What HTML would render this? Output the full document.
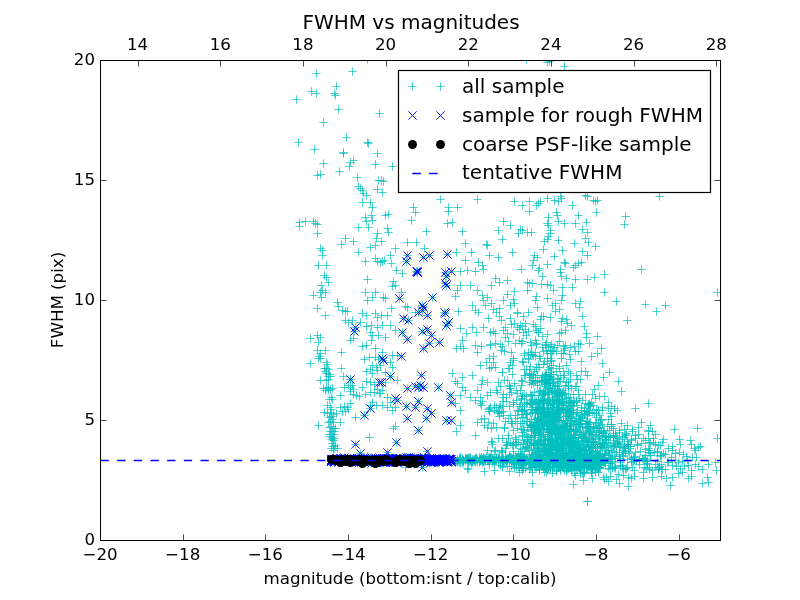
<!DOCTYPE html><html><head><meta charset="utf-8"><style>html,body{margin:0;padding:0;background:#fff;overflow:hidden}svg{display:block}</style></head><body><svg width="800" height="600" viewBox="0 0 800 600">
<rect width="800" height="600" fill="#fff"/>
<defs><clipPath id="c"><rect x="100" y="60" width="620" height="480"/></clipPath></defs>
<g clip-path="url(#c)">
<path d="M312.3 73.5h8.33M316.5 69.3v8.33M348.3 71.5h8.33M352.5 67.3v8.33M332.3 86.5h8.33M336.5 82.3v8.33M307.3 91.5h8.33M311.5 87.3v8.33M312.3 93.5h8.33M316.5 89.3v8.33M330.3 93.5h8.33M334.5 89.3v8.33M331.3 95.5h8.33M335.5 91.3v8.33M292.3 99.5h8.33M296.5 95.3v8.33M334.3 109.5h8.33M338.5 105.3v8.33M375.3 113.5h8.33M379.5 109.3v8.33M319.3 122.5h8.33M323.5 118.3v8.33M294.3 142.5h8.33M298.5 138.3v8.33M342.3 137.5h8.33M346.5 133.3v8.33M363.3 142.5h8.33M367.5 138.3v8.33M364.3 143.5h8.33M368.5 139.3v8.33M310.3 149.5h8.33M314.5 145.3v8.33M339.3 152.5h8.33M343.5 148.3v8.33M339.3 153.5h8.33M343.5 149.3v8.33M373.3 153.5h8.33M377.5 149.3v8.33M319.3 163.5h8.33M323.5 159.3v8.33M346.3 162.5h8.33M350.5 158.3v8.33M349.3 160.5h8.33M353.5 156.3v8.33M345.3 166.5h8.33M349.5 162.3v8.33M371.3 164.5h8.33M375.5 160.3v8.33M388.3 166.5h8.33M392.5 162.3v8.33M335.3 171.5h8.33M339.5 167.3v8.33M313.3 175.5h8.33M317.5 171.3v8.33M316.3 174.5h8.33M320.5 170.3v8.33M353.3 177.5h8.33M357.5 173.3v8.33M374.3 180.5h8.33M378.5 176.3v8.33M377.3 180.5h8.33M381.5 176.3v8.33M379.3 181.5h8.33M383.5 177.3v8.33M354.3 186.5h8.33M358.5 182.3v8.33M356.3 188.5h8.33M360.5 184.3v8.33M358.3 190.5h8.33M362.5 186.3v8.33M359.3 193.5h8.33M363.5 189.3v8.33M362.3 195.5h8.33M366.5 191.3v8.33M373.3 189.5h8.33M377.5 185.3v8.33M378.3 192.5h8.33M382.5 188.3v8.33M358.3 202.5h8.33M362.5 198.3v8.33M366.3 202.5h8.33M370.5 198.3v8.33M368.3 207.5h8.33M372.5 203.3v8.33M409.3 207.5h8.33M413.5 203.3v8.33M436.3 199.5h8.33M440.5 195.3v8.33M453.3 207.5h8.33M457.5 203.3v8.33M473.3 199.5h8.33M477.5 195.3v8.33M444.3 207.5h8.33M448.5 203.3v8.33M510.3 201.5h8.33M514.5 197.3v8.33M518.3 205.5h8.33M522.5 201.3v8.33M525.3 201.5h8.33M529.5 197.3v8.33M525.3 211.5h8.33M529.5 207.3v8.33M532.3 205.5h8.33M536.5 201.3v8.33M534.3 203.5h8.33M538.5 199.3v8.33M536.3 201.5h8.33M540.5 197.3v8.33M543.3 198.5h8.33M547.5 194.3v8.33M550.3 200.5h8.33M554.5 196.3v8.33M554.3 201.5h8.33M558.5 197.3v8.33M556.3 196.5h8.33M560.5 192.3v8.33M557.3 198.5h8.33M561.5 194.3v8.33M568.3 205.5h8.33M572.5 201.3v8.33M581.3 195.5h8.33M585.5 191.3v8.33M583.3 196.5h8.33M587.5 192.3v8.33M589.3 200.5h8.33M593.5 196.3v8.33M591.3 201.5h8.33M595.5 197.3v8.33M593.3 200.5h8.33M597.5 196.3v8.33M592.3 212.5h8.33M596.5 208.3v8.33M655.3 196.5h8.33M659.5 192.3v8.33M552.3 212.5h8.33M556.5 208.3v8.33M553.3 215.5h8.33M557.5 211.3v8.33M574.3 215.5h8.33M578.5 211.3v8.33M554.3 221.5h8.33M558.5 217.3v8.33M560.3 223.5h8.33M564.5 219.3v8.33M544.3 217.5h8.33M548.5 213.3v8.33M543.3 223.5h8.33M547.5 219.3v8.33M544.3 225.5h8.33M548.5 221.3v8.33M571.3 223.5h8.33M575.5 219.3v8.33M582.3 222.5h8.33M586.5 218.3v8.33M621.3 216.5h8.33M625.5 212.3v8.33M620.3 224.5h8.33M624.5 220.3v8.33M499.3 221.5h8.33M503.5 217.3v8.33M506.3 225.5h8.33M510.5 221.3v8.33M494.3 230.5h8.33M498.5 226.3v8.33M516.3 229.5h8.33M520.5 225.3v8.33M518.3 230.5h8.33M522.5 226.3v8.33M523.3 232.5h8.33M527.5 228.3v8.33M527.3 232.5h8.33M531.5 228.3v8.33M514.3 233.5h8.33M518.5 229.3v8.33M546.3 230.5h8.33M550.5 226.3v8.33M546.3 233.5h8.33M550.5 229.3v8.33M544.3 236.5h8.33M548.5 232.3v8.33M543.3 239.5h8.33M547.5 235.3v8.33M540.3 241.5h8.33M544.5 237.3v8.33M554.3 240.5h8.33M558.5 236.3v8.33M578.3 229.5h8.33M582.5 225.3v8.33M583.3 232.5h8.33M587.5 228.3v8.33M581.3 238.5h8.33M585.5 234.3v8.33M584.3 242.5h8.33M588.5 238.3v8.33M591.3 246.5h8.33M595.5 242.3v8.33M570.3 243.5h8.33M574.5 239.3v8.33M498.3 239.5h8.33M502.5 235.3v8.33M482.3 244.5h8.33M486.5 240.3v8.33M483.3 245.5h8.33M487.5 241.3v8.33M539.3 249.5h8.33M543.5 245.3v8.33M558.3 250.5h8.33M562.5 246.3v8.33M578.3 251.5h8.33M582.5 247.3v8.33M583.3 255.5h8.33M587.5 251.3v8.33M530.3 255.5h8.33M534.5 251.3v8.33M533.3 257.5h8.33M537.5 253.3v8.33M529.3 260.5h8.33M533.5 256.3v8.33M550.3 256.5h8.33M554.5 252.3v8.33M508.3 252.5h8.33M512.5 248.3v8.33M485.3 255.5h8.33M489.5 251.3v8.33M494.3 257.5h8.33M498.5 253.3v8.33M560.3 262.5h8.33M564.5 258.3v8.33M561.3 263.5h8.33M565.5 259.3v8.33M543.3 264.5h8.33M547.5 260.3v8.33M535.3 268.5h8.33M539.5 264.3v8.33M534.3 270.5h8.33M538.5 266.3v8.33M528.3 265.5h8.33M532.5 261.3v8.33M517.3 269.5h8.33M521.5 265.3v8.33M556.3 269.5h8.33M560.5 265.3v8.33M556.3 272.5h8.33M560.5 268.3v8.33M571.3 265.5h8.33M575.5 261.3v8.33M574.3 263.5h8.33M578.5 259.3v8.33M577.3 262.5h8.33M581.5 258.3v8.33M569.3 267.5h8.33M573.5 263.3v8.33M478.3 265.5h8.33M482.5 261.3v8.33M479.3 269.5h8.33M483.5 265.3v8.33M637.3 269.5h8.33M641.5 265.3v8.33M600.3 274.5h8.33M604.5 270.3v8.33M590.3 277.5h8.33M594.5 273.3v8.33M583.3 279.5h8.33M587.5 275.3v8.33M571.3 279.5h8.33M575.5 275.3v8.33M562.3 278.5h8.33M566.5 274.3v8.33M557.3 276.5h8.33M561.5 272.3v8.33M538.3 276.5h8.33M542.5 272.3v8.33M491.3 278.5h8.33M495.5 274.3v8.33M495.3 282.5h8.33M499.5 278.3v8.33M503.3 280.5h8.33M507.5 276.3v8.33M487.3 285.5h8.33M491.5 281.3v8.33M523.3 282.5h8.33M527.5 278.3v8.33M525.3 283.5h8.33M529.5 279.3v8.33M528.3 283.5h8.33M532.5 279.3v8.33M537.3 284.5h8.33M541.5 280.3v8.33M543.3 284.5h8.33M547.5 280.3v8.33M546.3 285.5h8.33M550.5 281.3v8.33M558.3 287.5h8.33M562.5 283.3v8.33M568.3 287.5h8.33M572.5 283.3v8.33M549.3 290.5h8.33M553.5 286.3v8.33M523.3 290.5h8.33M527.5 286.3v8.33M510.3 291.5h8.33M514.5 287.3v8.33M600.3 292.5h8.33M604.5 288.3v8.33M478.3 295.5h8.33M482.5 291.3v8.33M483.3 297.5h8.33M487.5 293.3v8.33M479.3 300.5h8.33M483.5 296.3v8.33M481.3 305.5h8.33M485.5 301.3v8.33M487.3 303.5h8.33M491.5 299.3v8.33M503.3 294.5h8.33M507.5 290.3v8.33M499.3 300.5h8.33M503.5 296.3v8.33M506.3 305.5h8.33M510.5 301.3v8.33M509.3 299.5h8.33M513.5 295.3v8.33M510.3 303.5h8.33M514.5 299.3v8.33M532.3 296.5h8.33M536.5 292.3v8.33M531.3 300.5h8.33M535.5 296.3v8.33M543.3 298.5h8.33M547.5 294.3v8.33M551.3 303.5h8.33M555.5 299.3v8.33M548.3 305.5h8.33M552.5 301.3v8.33M557.3 300.5h8.33M561.5 296.3v8.33M558.3 295.5h8.33M562.5 291.3v8.33M571.3 303.5h8.33M575.5 299.3v8.33M576.3 301.5h8.33M580.5 297.3v8.33M575.3 307.5h8.33M579.5 303.3v8.33M612.3 301.5h8.33M616.5 297.3v8.33M641.3 304.5h8.33M645.5 300.3v8.33M661.3 305.5h8.33M665.5 301.3v8.33M652.3 311.5h8.33M656.5 307.3v8.33M489.3 309.5h8.33M493.5 305.3v8.33M495.3 308.5h8.33M499.5 304.3v8.33M513.3 312.5h8.33M517.5 308.3v8.33M524.3 312.5h8.33M528.5 308.3v8.33M533.3 307.5h8.33M537.5 303.3v8.33M537.3 316.5h8.33M541.5 312.3v8.33M539.3 316.5h8.33M543.5 312.3v8.33M551.3 311.5h8.33M555.5 307.3v8.33M555.3 309.5h8.33M559.5 305.3v8.33M484.3 318.5h8.33M488.5 314.3v8.33M492.3 312.5h8.33M496.5 308.3v8.33M513.3 313.5h8.33M517.5 309.3v8.33M506.3 318.5h8.33M510.5 314.3v8.33M516.3 325.5h8.33M520.5 321.3v8.33M518.3 326.5h8.33M522.5 322.3v8.33M513.3 327.5h8.33M517.5 323.3v8.33M501.3 327.5h8.33M505.5 323.3v8.33M503.3 333.5h8.33M507.5 329.3v8.33M501.3 337.5h8.33M505.5 333.3v8.33M519.3 332.5h8.33M523.5 328.3v8.33M522.3 335.5h8.33M526.5 331.3v8.33M531.3 326.5h8.33M535.5 322.3v8.33M532.3 330.5h8.33M536.5 326.3v8.33M534.3 332.5h8.33M538.5 328.3v8.33M538.3 336.5h8.33M542.5 332.3v8.33M543.3 334.5h8.33M547.5 330.3v8.33M557.3 321.5h8.33M561.5 317.3v8.33M558.3 318.5h8.33M562.5 314.3v8.33M563.3 323.5h8.33M567.5 319.3v8.33M567.3 325.5h8.33M571.5 321.3v8.33M578.3 316.5h8.33M582.5 312.3v8.33M580.3 326.5h8.33M584.5 322.3v8.33M582.3 333.5h8.33M586.5 329.3v8.33M582.3 337.5h8.33M586.5 333.3v8.33M593.3 336.5h8.33M597.5 332.3v8.33M623.3 320.5h8.33M627.5 316.3v8.33M557.3 332.5h8.33M561.5 328.3v8.33M479.3 327.5h8.33M483.5 323.3v8.33M486.3 332.5h8.33M490.5 328.3v8.33M491.3 333.5h8.33M495.5 329.3v8.33M536.3 319.5h8.33M540.5 315.3v8.33M546.3 317.5h8.33M550.5 313.3v8.33M295.3 222.5h8.33M299.5 218.3v8.33M295.3 226.5h8.33M299.5 222.3v8.33M301.3 221.5h8.33M305.5 217.3v8.33M309.3 221.5h8.33M313.5 217.3v8.33M311.3 223.5h8.33M315.5 219.3v8.33M313.3 224.5h8.33M317.5 220.3v8.33M313.3 233.5h8.33M317.5 229.3v8.33M361.3 217.5h8.33M365.5 213.3v8.33M362.3 221.5h8.33M366.5 217.3v8.33M367.3 215.5h8.33M371.5 211.3v8.33M368.3 220.5h8.33M372.5 216.3v8.33M364.3 227.5h8.33M368.5 223.3v8.33M354.3 227.5h8.33M358.5 223.3v8.33M381.3 215.5h8.33M385.5 211.3v8.33M384.3 214.5h8.33M388.5 210.3v8.33M383.3 228.5h8.33M387.5 224.3v8.33M384.3 232.5h8.33M388.5 228.3v8.33M407.3 220.5h8.33M411.5 216.3v8.33M411.3 212.5h8.33M415.5 208.3v8.33M422.3 231.5h8.33M426.5 227.3v8.33M443.3 223.5h8.33M447.5 219.3v8.33M448.3 222.5h8.33M452.5 218.3v8.33M444.3 211.5h8.33M448.5 207.3v8.33M458.3 231.5h8.33M462.5 227.3v8.33M373.3 233.5h8.33M377.5 229.3v8.33M372.3 238.5h8.33M376.5 234.3v8.33M377.3 241.5h8.33M381.5 237.3v8.33M371.3 245.5h8.33M375.5 241.3v8.33M366.3 247.5h8.33M370.5 243.3v8.33M349.3 241.5h8.33M353.5 237.3v8.33M341.3 238.5h8.33M345.5 234.3v8.33M337.3 244.5h8.33M341.5 240.3v8.33M403.3 242.5h8.33M407.5 238.3v8.33M412.3 242.5h8.33M416.5 238.3v8.33M420.3 248.5h8.33M424.5 244.3v8.33M461.3 243.5h8.33M465.5 239.3v8.33M316.3 248.5h8.33M320.5 244.3v8.33M318.3 250.5h8.33M322.5 246.3v8.33M318.3 255.5h8.33M322.5 251.3v8.33M354.3 252.5h8.33M358.5 248.3v8.33M361.3 261.5h8.33M365.5 257.3v8.33M371.3 258.5h8.33M375.5 254.3v8.33M373.3 261.5h8.33M377.5 257.3v8.33M376.3 262.5h8.33M380.5 258.3v8.33M378.3 261.5h8.33M382.5 257.3v8.33M380.3 260.5h8.33M384.5 256.3v8.33M386.3 255.5h8.33M390.5 251.3v8.33M391.3 248.5h8.33M395.5 244.3v8.33M387.3 263.5h8.33M391.5 259.3v8.33M392.3 270.5h8.33M396.5 266.3v8.33M398.3 273.5h8.33M402.5 269.3v8.33M452.3 252.5h8.33M456.5 248.3v8.33M467.3 252.5h8.33M471.5 248.3v8.33M461.3 260.5h8.33M465.5 256.3v8.33M474.3 262.5h8.33M478.5 258.3v8.33M314.3 265.5h8.33M318.5 261.3v8.33M322.3 265.5h8.33M326.5 261.3v8.33M320.3 275.5h8.33M324.5 271.3v8.33M322.3 277.5h8.33M326.5 273.3v8.33M324.3 282.5h8.33M328.5 278.3v8.33M317.3 285.5h8.33M321.5 281.3v8.33M318.3 290.5h8.33M322.5 286.3v8.33M316.3 292.5h8.33M320.5 288.3v8.33M309.3 295.5h8.33M313.5 291.3v8.33M317.3 297.5h8.33M321.5 293.3v8.33M321.3 292.5h8.33M325.5 288.3v8.33M363.3 279.5h8.33M367.5 275.3v8.33M389.3 281.5h8.33M393.5 277.3v8.33M391.3 285.5h8.33M395.5 281.3v8.33M388.3 286.5h8.33M392.5 282.3v8.33M397.3 292.5h8.33M401.5 288.3v8.33M361.3 292.5h8.33M365.5 288.3v8.33M371.3 292.5h8.33M375.5 288.3v8.33M368.3 297.5h8.33M372.5 293.3v8.33M363.3 300.5h8.33M367.5 296.3v8.33M379.3 297.5h8.33M383.5 293.3v8.33M381.3 298.5h8.33M385.5 294.3v8.33M456.3 271.5h8.33M460.5 267.3v8.33M463.3 270.5h8.33M467.5 266.3v8.33M471.3 271.5h8.33M475.5 267.3v8.33M456.3 285.5h8.33M460.5 281.3v8.33M453.3 290.5h8.33M457.5 286.3v8.33M466.3 285.5h8.33M470.5 281.3v8.33M451.3 296.5h8.33M455.5 292.3v8.33M473.3 290.5h8.33M477.5 286.3v8.33M333.3 302.5h8.33M337.5 298.3v8.33M334.3 306.5h8.33M338.5 302.3v8.33M338.3 310.5h8.33M342.5 306.3v8.33M341.3 311.5h8.33M345.5 307.3v8.33M343.3 311.5h8.33M347.5 307.3v8.33M313.3 308.5h8.33M317.5 304.3v8.33M321.3 315.5h8.33M325.5 311.3v8.33M358.3 313.5h8.33M362.5 309.3v8.33M362.3 315.5h8.33M366.5 311.3v8.33M371.3 313.5h8.33M375.5 309.3v8.33M373.3 317.5h8.33M377.5 313.3v8.33M377.3 315.5h8.33M381.5 311.3v8.33M383.3 315.5h8.33M387.5 311.3v8.33M387.3 308.5h8.33M391.5 304.3v8.33M401.3 306.5h8.33M405.5 302.3v8.33M403.3 307.5h8.33M407.5 303.3v8.33M411.3 312.5h8.33M415.5 308.3v8.33M454.3 311.5h8.33M458.5 307.3v8.33M468.3 305.5h8.33M472.5 301.3v8.33M471.3 310.5h8.33M475.5 306.3v8.33M474.3 312.5h8.33M478.5 308.3v8.33M341.3 320.5h8.33M345.5 316.3v8.33M344.3 322.5h8.33M348.5 318.3v8.33M348.3 320.5h8.33M352.5 316.3v8.33M356.3 322.5h8.33M360.5 318.3v8.33M362.3 326.5h8.33M366.5 322.3v8.33M367.3 325.5h8.33M371.5 321.3v8.33M373.3 327.5h8.33M377.5 323.3v8.33M378.3 325.5h8.33M382.5 321.3v8.33M386.3 325.5h8.33M390.5 321.3v8.33M391.3 330.5h8.33M395.5 326.3v8.33M306.3 338.5h8.33M310.5 334.3v8.33M313.3 335.5h8.33M317.5 331.3v8.33M316.3 337.5h8.33M320.5 333.3v8.33M314.3 342.5h8.33M318.5 338.3v8.33M346.3 340.5h8.33M350.5 336.3v8.33M349.3 338.5h8.33M353.5 334.3v8.33M366.3 332.5h8.33M370.5 328.3v8.33M368.3 335.5h8.33M372.5 331.3v8.33M367.3 340.5h8.33M371.5 336.3v8.33M374.3 335.5h8.33M378.5 331.3v8.33M381.3 337.5h8.33M385.5 333.3v8.33M358.3 346.5h8.33M362.5 342.3v8.33M362.3 345.5h8.33M366.5 341.3v8.33M371.3 348.5h8.33M375.5 344.3v8.33M378.3 352.5h8.33M382.5 348.3v8.33M337.3 352.5h8.33M341.5 348.3v8.33M313.3 350.5h8.33M317.5 346.3v8.33M316.3 353.5h8.33M320.5 349.3v8.33M321.3 350.5h8.33M325.5 346.3v8.33M388.3 355.5h8.33M392.5 351.3v8.33M393.3 355.5h8.33M397.5 351.3v8.33M456.3 328.5h8.33M460.5 324.3v8.33M458.3 340.5h8.33M462.5 336.3v8.33M462.3 333.5h8.33M466.5 329.3v8.33M468.3 327.5h8.33M472.5 323.3v8.33M472.3 332.5h8.33M476.5 328.3v8.33M456.3 346.5h8.33M460.5 342.3v8.33M459.3 348.5h8.33M463.5 344.3v8.33M452.3 348.5h8.33M456.5 344.3v8.33M471.3 345.5h8.33M475.5 341.3v8.33M473.3 352.5h8.33M477.5 348.3v8.33M378.3 390.5h8.33M382.5 386.3v8.33M381.3 382.5h8.33M385.5 378.3v8.33M376.3 393.5h8.33M380.5 389.3v8.33M383.3 397.5h8.33M387.5 393.3v8.33M378.3 405.5h8.33M382.5 401.3v8.33M383.3 407.5h8.33M387.5 403.3v8.33M388.3 410.5h8.33M392.5 406.3v8.33M391.3 407.5h8.33M395.5 403.3v8.33M386.3 402.5h8.33M390.5 398.3v8.33M376.3 365.5h8.33M380.5 361.3v8.33M381.3 372.5h8.33M385.5 368.3v8.33M386.3 362.5h8.33M390.5 358.3v8.33M388.3 367.5h8.33M392.5 363.3v8.33M393.3 380.5h8.33M397.5 376.3v8.33M391.3 426.5h8.33M395.5 422.3v8.33M389.3 428.5h8.33M393.5 424.3v8.33M401.3 467.5h8.33M405.5 463.3v8.33M448.3 373.5h8.33M452.5 369.3v8.33M451.3 381.5h8.33M455.5 377.3v8.33M453.3 383.5h8.33M457.5 379.3v8.33M458.3 377.5h8.33M462.5 373.3v8.33M461.3 390.5h8.33M465.5 386.3v8.33M456.3 410.5h8.33M460.5 406.3v8.33M451.3 403.5h8.33M455.5 399.3v8.33M456.3 425.5h8.33M460.5 421.3v8.33M452.3 431.5h8.33M456.5 427.3v8.33M473.3 422.5h8.33M477.5 418.3v8.33M471.3 435.5h8.33M475.5 431.3v8.33M458.3 387.5h8.33M462.5 383.3v8.33M468.3 375.5h8.33M472.5 371.3v8.33M473.3 390.5h8.33M477.5 386.3v8.33M471.3 400.5h8.33M475.5 396.3v8.33M466.3 397.5h8.33M470.5 393.3v8.33M456.3 395.5h8.33M460.5 391.3v8.33M463.3 468.5h8.33M467.5 464.3v8.33M522.3 59.5h8.33M526.5 55.3v8.33M543.3 62.5h8.33M547.5 58.3v8.33M545.3 61.5h8.33M549.5 57.3v8.33M560.3 66.5h8.33M564.5 62.3v8.33M363.3 59.5h8.33M367.5 55.3v8.33M713.3 292.5h8.33M717.5 288.3v8.33M583.3 501.5h8.33M587.5 497.3v8.33M464.3 469.5h8.33M468.5 465.3v8.33M597.3 348.5h8.33M601.5 344.3v8.33M598.3 363.5h8.33M602.5 359.3v8.33M605.3 372.5h8.33M609.5 368.3v8.33M599.3 377.5h8.33M603.5 373.3v8.33M614.3 381.5h8.33M618.5 377.3v8.33M617.3 391.5h8.33M621.5 387.3v8.33M600.3 396.5h8.33M604.5 392.3v8.33M585.3 343.5h8.33M589.5 339.3v8.33M576.3 344.5h8.33M580.5 340.3v8.33M574.3 343.5h8.33M578.5 339.3v8.33M593.3 353.5h8.33M597.5 349.3v8.33M587.3 356.5h8.33M591.5 352.3v8.33M577.3 361.5h8.33M581.5 357.3v8.33M583.3 375.5h8.33M587.5 371.3v8.33M576.3 379.5h8.33M580.5 375.3v8.33M594.3 385.5h8.33M598.5 381.3v8.33M590.3 389.5h8.33M594.5 385.3v8.33M588.3 394.5h8.33M592.5 390.3v8.33M581.3 394.5h8.33M585.5 390.3v8.33M595.3 396.5h8.33M599.5 392.3v8.33M591.3 398.5h8.33M595.5 394.3v8.33M577.3 371.5h8.33M581.5 367.3v8.33M581.3 371.5h8.33M585.5 367.3v8.33M670.3 429.5h8.33M674.5 425.3v8.33M693.3 428.5h8.33M697.5 424.3v8.33M713.3 438.5h8.33M717.5 434.3v8.33M675.3 439.5h8.33M679.5 435.3v8.33M686.3 440.5h8.33M690.5 436.3v8.33M676.3 444.5h8.33M680.5 440.3v8.33M687.3 444.5h8.33M691.5 440.3v8.33M690.3 448.5h8.33M694.5 444.3v8.33M694.3 447.5h8.33M698.5 443.3v8.33M696.3 446.5h8.33M700.5 442.3v8.33M691.3 450.5h8.33M695.5 446.3v8.33M668.3 446.5h8.33M672.5 442.3v8.33M668.3 450.5h8.33M672.5 446.3v8.33M671.3 453.5h8.33M675.5 449.3v8.33M675.3 452.5h8.33M679.5 448.3v8.33M679.3 454.5h8.33M683.5 450.3v8.33M682.3 456.5h8.33M686.5 452.3v8.33M667.3 457.5h8.33M671.5 453.3v8.33M671.3 460.5h8.33M675.5 456.3v8.33M674.3 462.5h8.33M678.5 458.3v8.33M678.3 461.5h8.33M682.5 457.3v8.33M683.3 460.5h8.33M687.5 456.3v8.33M688.3 457.5h8.33M692.5 453.3v8.33M692.3 457.5h8.33M696.5 453.3v8.33M691.3 464.5h8.33M695.5 460.3v8.33M694.3 466.5h8.33M698.5 462.3v8.33M668.3 465.5h8.33M672.5 461.3v8.33M672.3 466.5h8.33M676.5 462.3v8.33M676.3 468.5h8.33M680.5 464.3v8.33M680.3 466.5h8.33M684.5 462.3v8.33M684.3 465.5h8.33M688.5 461.3v8.33M687.3 470.5h8.33M691.5 466.3v8.33M678.3 472.5h8.33M682.5 468.3v8.33M698.3 469.5h8.33M702.5 465.3v8.33M704.3 464.5h8.33M708.5 460.3v8.33M711.3 462.5h8.33M715.5 458.3v8.33M712.3 470.5h8.33M716.5 466.3v8.33M668.3 477.5h8.33M672.5 473.3v8.33M684.3 478.5h8.33M688.5 474.3v8.33M687.3 476.5h8.33M691.5 472.3v8.33M703.3 477.5h8.33M707.5 473.3v8.33M704.3 482.5h8.33M708.5 478.3v8.33M698.3 483.5h8.33M702.5 479.3v8.33M666.3 485.5h8.33M670.5 481.3v8.33M674.3 473.5h8.33M678.5 469.3v8.33M480.3 471.5h8.33M484.5 467.3v8.33M490.3 470.5h8.33M494.5 466.3v8.33M535.3 470.5h8.33M539.5 466.3v8.33M528.3 483.5h8.33M532.5 479.3v8.33M569.3 484.5h8.33M573.5 480.3v8.33M579.3 480.5h8.33M583.5 476.3v8.33M588.3 478.5h8.33M592.5 474.3v8.33M583.3 501.5h8.33M587.5 497.3v8.33M571.3 475.5h8.33M575.5 471.3v8.33M560.3 470.5h8.33M564.5 466.3v8.33M477.3 346.5h8.33M481.5 342.3v8.33M491.3 343.5h8.33M495.5 339.3v8.33M486.3 345.5h8.33M490.5 341.3v8.33M486.3 344.5h8.33M490.5 340.3v8.33M496.3 344.5h8.33M500.5 340.3v8.33M504.3 341.5h8.33M508.5 337.3v8.33M498.3 346.5h8.33M502.5 342.3v8.33M511.3 343.5h8.33M515.5 339.3v8.33M515.3 340.5h8.33M519.5 336.3v8.33M518.3 341.5h8.33M522.5 337.3v8.33M517.3 343.5h8.33M521.5 339.3v8.33M527.3 345.5h8.33M531.5 341.3v8.33M532.3 343.5h8.33M536.5 339.3v8.33M531.3 340.5h8.33M535.5 336.3v8.33M526.3 342.5h8.33M530.5 338.3v8.33M532.3 344.5h8.33M536.5 340.3v8.33M541.3 344.5h8.33M545.5 340.3v8.33M538.3 347.5h8.33M542.5 343.3v8.33M542.3 342.5h8.33M546.5 338.3v8.33M541.3 345.5h8.33M545.5 341.3v8.33M544.3 347.5h8.33M548.5 343.3v8.33M555.3 341.5h8.33M559.5 337.3v8.33M550.3 347.5h8.33M554.5 343.3v8.33M547.3 344.5h8.33M551.5 340.3v8.33M546.3 346.5h8.33M550.5 342.3v8.33M553.3 345.5h8.33M557.5 341.3v8.33M559.3 346.5h8.33M563.5 342.3v8.33M561.3 345.5h8.33M565.5 341.3v8.33M560.3 348.5h8.33M564.5 344.3v8.33M570.3 346.5h8.33M574.5 342.3v8.33M566.3 347.5h8.33M570.5 343.3v8.33M485.3 358.5h8.33M489.5 354.3v8.33M489.3 356.5h8.33M493.5 352.3v8.33M500.3 351.5h8.33M504.5 347.3v8.33M497.3 350.5h8.33M501.5 346.3v8.33M507.3 352.5h8.33M511.5 348.3v8.33M509.3 358.5h8.33M513.5 354.3v8.33M520.3 355.5h8.33M524.5 351.3v8.33M524.3 358.5h8.33M528.5 354.3v8.33M524.3 352.5h8.33M528.5 348.3v8.33M520.3 353.5h8.33M524.5 349.3v8.33M524.3 359.5h8.33M528.5 355.3v8.33M527.3 352.5h8.33M531.5 348.3v8.33M528.3 354.5h8.33M532.5 350.3v8.33M531.3 352.5h8.33M535.5 348.3v8.33M526.3 354.5h8.33M530.5 350.3v8.33M529.3 355.5h8.33M533.5 351.3v8.33M535.3 356.5h8.33M539.5 352.3v8.33M531.3 356.5h8.33M535.5 352.3v8.33M536.3 358.5h8.33M540.5 354.3v8.33M543.3 358.5h8.33M547.5 354.3v8.33M543.3 353.5h8.33M547.5 349.3v8.33M539.3 351.5h8.33M543.5 347.3v8.33M542.3 350.5h8.33M546.5 346.3v8.33M548.3 351.5h8.33M552.5 347.3v8.33M549.3 350.5h8.33M553.5 346.3v8.33M546.3 351.5h8.33M550.5 347.3v8.33M547.3 353.5h8.33M551.5 349.3v8.33M546.3 358.5h8.33M550.5 354.3v8.33M552.3 351.5h8.33M556.5 347.3v8.33M559.3 353.5h8.33M563.5 349.3v8.33M557.3 358.5h8.33M561.5 354.3v8.33M565.3 354.5h8.33M569.5 350.3v8.33M560.3 350.5h8.33M564.5 346.3v8.33M557.3 353.5h8.33M561.5 349.3v8.33M574.3 351.5h8.33M578.5 347.3v8.33M566.3 359.5h8.33M570.5 355.3v8.33M571.3 351.5h8.33M575.5 347.3v8.33M476.3 365.5h8.33M480.5 361.3v8.33M485.3 368.5h8.33M489.5 364.3v8.33M482.3 362.5h8.33M486.5 358.3v8.33M487.3 367.5h8.33M491.5 363.3v8.33M491.3 367.5h8.33M495.5 363.3v8.33M489.3 362.5h8.33M493.5 358.3v8.33M505.3 368.5h8.33M509.5 364.3v8.33M504.3 368.5h8.33M508.5 364.3v8.33M508.3 365.5h8.33M512.5 361.3v8.33M509.3 360.5h8.33M513.5 356.3v8.33M506.3 362.5h8.33M510.5 358.3v8.33M522.3 369.5h8.33M526.5 365.3v8.33M520.3 369.5h8.33M524.5 365.3v8.33M525.3 369.5h8.33M529.5 365.3v8.33M519.3 362.5h8.33M523.5 358.3v8.33M518.3 361.5h8.33M522.5 357.3v8.33M532.3 369.5h8.33M536.5 365.3v8.33M534.3 364.5h8.33M538.5 360.3v8.33M532.3 367.5h8.33M536.5 363.3v8.33M526.3 366.5h8.33M530.5 362.3v8.33M535.3 367.5h8.33M539.5 363.3v8.33M540.3 361.5h8.33M544.5 357.3v8.33M543.3 363.5h8.33M547.5 359.3v8.33M544.3 369.5h8.33M548.5 365.3v8.33M539.3 364.5h8.33M543.5 360.3v8.33M545.3 367.5h8.33M549.5 363.3v8.33M547.3 361.5h8.33M551.5 357.3v8.33M555.3 368.5h8.33M559.5 364.3v8.33M547.3 368.5h8.33M551.5 364.3v8.33M555.3 366.5h8.33M559.5 362.3v8.33M549.3 365.5h8.33M553.5 361.3v8.33M547.3 360.5h8.33M551.5 356.3v8.33M562.3 365.5h8.33M566.5 361.3v8.33M498.3 372.5h8.33M502.5 368.3v8.33M498.3 372.5h8.33M502.5 368.3v8.33M508.3 374.5h8.33M512.5 370.3v8.33M525.3 373.5h8.33M529.5 369.3v8.33M520.3 375.5h8.33M524.5 371.3v8.33M525.3 374.5h8.33M529.5 370.3v8.33M525.3 375.5h8.33M529.5 371.3v8.33M521.3 375.5h8.33M525.5 371.3v8.33M530.3 371.5h8.33M534.5 367.3v8.33M526.3 377.5h8.33M530.5 373.3v8.33M527.3 374.5h8.33M531.5 370.3v8.33M533.3 375.5h8.33M537.5 371.3v8.33M529.3 375.5h8.33M533.5 371.3v8.33M531.3 377.5h8.33M535.5 373.3v8.33M527.3 375.5h8.33M531.5 371.3v8.33M538.3 377.5h8.33M542.5 373.3v8.33M541.3 375.5h8.33M545.5 371.3v8.33M543.3 379.5h8.33M547.5 375.3v8.33M540.3 376.5h8.33M544.5 372.3v8.33M541.3 375.5h8.33M545.5 371.3v8.33M542.3 374.5h8.33M546.5 370.3v8.33M541.3 374.5h8.33M545.5 370.3v8.33M545.3 376.5h8.33M549.5 372.3v8.33M544.3 379.5h8.33M548.5 375.3v8.33M538.3 375.5h8.33M542.5 371.3v8.33M545.3 378.5h8.33M549.5 374.3v8.33M547.3 374.5h8.33M551.5 370.3v8.33M546.3 372.5h8.33M550.5 368.3v8.33M546.3 376.5h8.33M550.5 372.3v8.33M553.3 378.5h8.33M557.5 374.3v8.33M547.3 377.5h8.33M551.5 373.3v8.33M552.3 371.5h8.33M556.5 367.3v8.33M554.3 379.5h8.33M558.5 375.3v8.33M548.3 379.5h8.33M552.5 375.3v8.33M549.3 374.5h8.33M553.5 370.3v8.33M564.3 371.5h8.33M568.5 367.3v8.33M560.3 375.5h8.33M564.5 371.3v8.33M559.3 371.5h8.33M563.5 367.3v8.33M559.3 377.5h8.33M563.5 373.3v8.33M556.3 375.5h8.33M560.5 371.3v8.33M566.3 373.5h8.33M570.5 369.3v8.33M572.3 375.5h8.33M576.5 371.3v8.33M566.3 379.5h8.33M570.5 375.3v8.33M573.3 379.5h8.33M577.5 375.3v8.33M478.3 380.5h8.33M482.5 376.3v8.33M483.3 382.5h8.33M487.5 378.3v8.33M477.3 384.5h8.33M481.5 380.3v8.33M494.3 382.5h8.33M498.5 378.3v8.33M505.3 385.5h8.33M509.5 381.3v8.33M503.3 380.5h8.33M507.5 376.3v8.33M496.3 386.5h8.33M500.5 382.3v8.33M500.3 380.5h8.33M504.5 376.3v8.33M505.3 386.5h8.33M509.5 382.3v8.33M506.3 388.5h8.33M510.5 384.3v8.33M506.3 388.5h8.33M510.5 384.3v8.33M510.3 383.5h8.33M514.5 379.3v8.33M525.3 382.5h8.33M529.5 378.3v8.33M517.3 385.5h8.33M521.5 381.3v8.33M518.3 381.5h8.33M522.5 377.3v8.33M517.3 380.5h8.33M521.5 376.3v8.33M529.3 383.5h8.33M533.5 379.3v8.33M533.3 382.5h8.33M537.5 378.3v8.33M531.3 381.5h8.33M535.5 377.3v8.33M529.3 380.5h8.33M533.5 376.3v8.33M528.3 380.5h8.33M532.5 376.3v8.33M533.3 385.5h8.33M537.5 381.3v8.33M527.3 384.5h8.33M531.5 380.3v8.33M535.3 381.5h8.33M539.5 377.3v8.33M540.3 384.5h8.33M544.5 380.3v8.33M544.3 383.5h8.33M548.5 379.3v8.33M541.3 386.5h8.33M545.5 382.3v8.33M545.3 383.5h8.33M549.5 379.3v8.33M544.3 387.5h8.33M548.5 383.3v8.33M542.3 384.5h8.33M546.5 380.3v8.33M539.3 380.5h8.33M543.5 376.3v8.33M537.3 380.5h8.33M541.5 376.3v8.33M543.3 382.5h8.33M547.5 378.3v8.33M537.3 380.5h8.33M541.5 376.3v8.33M544.3 388.5h8.33M548.5 384.3v8.33M542.3 382.5h8.33M546.5 378.3v8.33M538.3 382.5h8.33M542.5 378.3v8.33M540.3 381.5h8.33M544.5 377.3v8.33M540.3 382.5h8.33M544.5 378.3v8.33M545.3 389.5h8.33M549.5 385.3v8.33M541.3 382.5h8.33M545.5 378.3v8.33M545.3 383.5h8.33M549.5 379.3v8.33M546.3 383.5h8.33M550.5 379.3v8.33M550.3 385.5h8.33M554.5 381.3v8.33M548.3 385.5h8.33M552.5 381.3v8.33M546.3 382.5h8.33M550.5 378.3v8.33M546.3 383.5h8.33M550.5 379.3v8.33M546.3 380.5h8.33M550.5 376.3v8.33M549.3 382.5h8.33M553.5 378.3v8.33M551.3 385.5h8.33M555.5 381.3v8.33M553.3 386.5h8.33M557.5 382.3v8.33M553.3 388.5h8.33M557.5 384.3v8.33M549.3 383.5h8.33M553.5 379.3v8.33M555.3 381.5h8.33M559.5 377.3v8.33M553.3 386.5h8.33M557.5 382.3v8.33M546.3 388.5h8.33M550.5 384.3v8.33M554.3 386.5h8.33M558.5 382.3v8.33M564.3 381.5h8.33M568.5 377.3v8.33M561.3 385.5h8.33M565.5 381.3v8.33M564.3 388.5h8.33M568.5 384.3v8.33M564.3 385.5h8.33M568.5 381.3v8.33M564.3 386.5h8.33M568.5 382.3v8.33M562.3 382.5h8.33M566.5 378.3v8.33M556.3 381.5h8.33M560.5 377.3v8.33M567.3 388.5h8.33M571.5 384.3v8.33M571.3 386.5h8.33M575.5 382.3v8.33M572.3 386.5h8.33M576.5 382.3v8.33M476.3 397.5h8.33M480.5 393.3v8.33M483.3 395.5h8.33M487.5 391.3v8.33M492.3 390.5h8.33M496.5 386.3v8.33M493.3 392.5h8.33M497.5 388.3v8.33M486.3 392.5h8.33M490.5 388.3v8.33M498.3 397.5h8.33M502.5 393.3v8.33M505.3 394.5h8.33M509.5 390.3v8.33M499.3 394.5h8.33M503.5 390.3v8.33M502.3 397.5h8.33M506.5 393.3v8.33M512.3 390.5h8.33M516.5 386.3v8.33M507.3 392.5h8.33M511.5 388.3v8.33M513.3 393.5h8.33M517.5 389.3v8.33M516.3 390.5h8.33M520.5 386.3v8.33M518.3 396.5h8.33M522.5 392.3v8.33M522.3 396.5h8.33M526.5 392.3v8.33M518.3 395.5h8.33M522.5 391.3v8.33M520.3 394.5h8.33M524.5 390.3v8.33M517.3 398.5h8.33M521.5 394.3v8.33M517.3 399.5h8.33M521.5 395.3v8.33M526.3 394.5h8.33M530.5 390.3v8.33M534.3 399.5h8.33M538.5 395.3v8.33M530.3 392.5h8.33M534.5 388.3v8.33M528.3 399.5h8.33M532.5 395.3v8.33M528.3 395.5h8.33M532.5 391.3v8.33M527.3 395.5h8.33M531.5 391.3v8.33M535.3 391.5h8.33M539.5 387.3v8.33M534.3 395.5h8.33M538.5 391.3v8.33M543.3 392.5h8.33M547.5 388.3v8.33M544.3 394.5h8.33M548.5 390.3v8.33M536.3 390.5h8.33M540.5 386.3v8.33M540.3 394.5h8.33M544.5 390.3v8.33M539.3 391.5h8.33M543.5 387.3v8.33M539.3 393.5h8.33M543.5 389.3v8.33M544.3 390.5h8.33M548.5 386.3v8.33M543.3 398.5h8.33M547.5 394.3v8.33M537.3 399.5h8.33M541.5 395.3v8.33M543.3 399.5h8.33M547.5 395.3v8.33M538.3 393.5h8.33M542.5 389.3v8.33M539.3 399.5h8.33M543.5 395.3v8.33M541.3 393.5h8.33M545.5 389.3v8.33M540.3 392.5h8.33M544.5 388.3v8.33M536.3 391.5h8.33M540.5 387.3v8.33M544.3 392.5h8.33M548.5 388.3v8.33M545.3 392.5h8.33M549.5 388.3v8.33M538.3 395.5h8.33M542.5 391.3v8.33M549.3 399.5h8.33M553.5 395.3v8.33M554.3 398.5h8.33M558.5 394.3v8.33M552.3 399.5h8.33M556.5 395.3v8.33M555.3 395.5h8.33M559.5 391.3v8.33M553.3 390.5h8.33M557.5 386.3v8.33M553.3 394.5h8.33M557.5 390.3v8.33M553.3 396.5h8.33M557.5 392.3v8.33M548.3 390.5h8.33M552.5 386.3v8.33M555.3 391.5h8.33M559.5 387.3v8.33M550.3 393.5h8.33M554.5 389.3v8.33M548.3 397.5h8.33M552.5 393.3v8.33M555.3 392.5h8.33M559.5 388.3v8.33M552.3 393.5h8.33M556.5 389.3v8.33M551.3 393.5h8.33M555.5 389.3v8.33M547.3 391.5h8.33M551.5 387.3v8.33M548.3 399.5h8.33M552.5 395.3v8.33M550.3 392.5h8.33M554.5 388.3v8.33M555.3 399.5h8.33M559.5 395.3v8.33M550.3 391.5h8.33M554.5 387.3v8.33M556.3 393.5h8.33M560.5 389.3v8.33M556.3 392.5h8.33M560.5 388.3v8.33M558.3 395.5h8.33M562.5 391.3v8.33M564.3 397.5h8.33M568.5 393.3v8.33M560.3 394.5h8.33M564.5 390.3v8.33M561.3 393.5h8.33M565.5 389.3v8.33M559.3 390.5h8.33M563.5 386.3v8.33M558.3 399.5h8.33M562.5 395.3v8.33M557.3 395.5h8.33M561.5 391.3v8.33M562.3 398.5h8.33M566.5 394.3v8.33M558.3 392.5h8.33M562.5 388.3v8.33M569.3 394.5h8.33M573.5 390.3v8.33M575.3 398.5h8.33M579.5 394.3v8.33M574.3 390.5h8.33M578.5 386.3v8.33M566.3 397.5h8.33M570.5 393.3v8.33M574.3 394.5h8.33M578.5 390.3v8.33M476.3 403.5h8.33M480.5 399.3v8.33M485.3 408.5h8.33M489.5 404.3v8.33M484.3 409.5h8.33M488.5 405.3v8.33M478.3 401.5h8.33M482.5 397.3v8.33M477.3 405.5h8.33M481.5 401.3v8.33M495.3 407.5h8.33M499.5 403.3v8.33M492.3 407.5h8.33M496.5 403.3v8.33M490.3 405.5h8.33M494.5 401.3v8.33M486.3 407.5h8.33M490.5 403.3v8.33M505.3 406.5h8.33M509.5 402.3v8.33M499.3 401.5h8.33M503.5 397.3v8.33M498.3 406.5h8.33M502.5 402.3v8.33M502.3 401.5h8.33M506.5 397.3v8.33M496.3 405.5h8.33M500.5 401.3v8.33M509.3 402.5h8.33M513.5 398.3v8.33M512.3 400.5h8.33M516.5 396.3v8.33M509.3 404.5h8.33M513.5 400.3v8.33M515.3 406.5h8.33M519.5 402.3v8.33M520.3 402.5h8.33M524.5 398.3v8.33M518.3 409.5h8.33M522.5 405.3v8.33M523.3 403.5h8.33M527.5 399.3v8.33M516.3 404.5h8.33M520.5 400.3v8.33M522.3 404.5h8.33M526.5 400.3v8.33M518.3 406.5h8.33M522.5 402.3v8.33M525.3 402.5h8.33M529.5 398.3v8.33M529.3 404.5h8.33M533.5 400.3v8.33M532.3 401.5h8.33M536.5 397.3v8.33M533.3 407.5h8.33M537.5 403.3v8.33M531.3 402.5h8.33M535.5 398.3v8.33M535.3 403.5h8.33M539.5 399.3v8.33M534.3 402.5h8.33M538.5 398.3v8.33M528.3 407.5h8.33M532.5 403.3v8.33M528.3 409.5h8.33M532.5 405.3v8.33M530.3 401.5h8.33M534.5 397.3v8.33M528.3 404.5h8.33M532.5 400.3v8.33M532.3 409.5h8.33M536.5 405.3v8.33M527.3 403.5h8.33M531.5 399.3v8.33M528.3 409.5h8.33M532.5 405.3v8.33M527.3 400.5h8.33M531.5 396.3v8.33M526.3 403.5h8.33M530.5 399.3v8.33M534.3 408.5h8.33M538.5 404.3v8.33M533.3 409.5h8.33M537.5 405.3v8.33M535.3 403.5h8.33M539.5 399.3v8.33M527.3 409.5h8.33M531.5 405.3v8.33M536.3 406.5h8.33M540.5 402.3v8.33M539.3 403.5h8.33M543.5 399.3v8.33M539.3 401.5h8.33M543.5 397.3v8.33M536.3 402.5h8.33M540.5 398.3v8.33M539.3 409.5h8.33M543.5 405.3v8.33M537.3 409.5h8.33M541.5 405.3v8.33M538.3 403.5h8.33M542.5 399.3v8.33M544.3 408.5h8.33M548.5 404.3v8.33M540.3 400.5h8.33M544.5 396.3v8.33M540.3 403.5h8.33M544.5 399.3v8.33M545.3 401.5h8.33M549.5 397.3v8.33M539.3 408.5h8.33M543.5 404.3v8.33M536.3 404.5h8.33M540.5 400.3v8.33M544.3 407.5h8.33M548.5 403.3v8.33M536.3 400.5h8.33M540.5 396.3v8.33M536.3 409.5h8.33M540.5 405.3v8.33M538.3 407.5h8.33M542.5 403.3v8.33M544.3 403.5h8.33M548.5 399.3v8.33M538.3 409.5h8.33M542.5 405.3v8.33M542.3 402.5h8.33M546.5 398.3v8.33M543.3 403.5h8.33M547.5 399.3v8.33M538.3 400.5h8.33M542.5 396.3v8.33M543.3 409.5h8.33M547.5 405.3v8.33M555.3 400.5h8.33M559.5 396.3v8.33M548.3 404.5h8.33M552.5 400.3v8.33M555.3 409.5h8.33M559.5 405.3v8.33M549.3 402.5h8.33M553.5 398.3v8.33M550.3 404.5h8.33M554.5 400.3v8.33M555.3 401.5h8.33M559.5 397.3v8.33M554.3 407.5h8.33M558.5 403.3v8.33M554.3 407.5h8.33M558.5 403.3v8.33M552.3 403.5h8.33M556.5 399.3v8.33M549.3 403.5h8.33M553.5 399.3v8.33M553.3 400.5h8.33M557.5 396.3v8.33M547.3 407.5h8.33M551.5 403.3v8.33M548.3 400.5h8.33M552.5 396.3v8.33M546.3 405.5h8.33M550.5 401.3v8.33M549.3 409.5h8.33M553.5 405.3v8.33M554.3 409.5h8.33M558.5 405.3v8.33M548.3 400.5h8.33M552.5 396.3v8.33M546.3 404.5h8.33M550.5 400.3v8.33M553.3 404.5h8.33M557.5 400.3v8.33M548.3 404.5h8.33M552.5 400.3v8.33M552.3 406.5h8.33M556.5 402.3v8.33M553.3 408.5h8.33M557.5 404.3v8.33M552.3 401.5h8.33M556.5 397.3v8.33M554.3 402.5h8.33M558.5 398.3v8.33M559.3 407.5h8.33M563.5 403.3v8.33M557.3 402.5h8.33M561.5 398.3v8.33M558.3 401.5h8.33M562.5 397.3v8.33M564.3 405.5h8.33M568.5 401.3v8.33M559.3 403.5h8.33M563.5 399.3v8.33M565.3 405.5h8.33M569.5 401.3v8.33M558.3 408.5h8.33M562.5 404.3v8.33M562.3 409.5h8.33M566.5 405.3v8.33M557.3 404.5h8.33M561.5 400.3v8.33M564.3 408.5h8.33M568.5 404.3v8.33M565.3 400.5h8.33M569.5 396.3v8.33M558.3 401.5h8.33M562.5 397.3v8.33M557.3 409.5h8.33M561.5 405.3v8.33M561.3 409.5h8.33M565.5 405.3v8.33M559.3 408.5h8.33M563.5 404.3v8.33M560.3 402.5h8.33M564.5 398.3v8.33M563.3 409.5h8.33M567.5 405.3v8.33M557.3 405.5h8.33M561.5 401.3v8.33M562.3 402.5h8.33M566.5 398.3v8.33M567.3 402.5h8.33M571.5 398.3v8.33M568.3 405.5h8.33M572.5 401.3v8.33M572.3 402.5h8.33M576.5 398.3v8.33M566.3 403.5h8.33M570.5 399.3v8.33M572.3 401.5h8.33M576.5 397.3v8.33M569.3 402.5h8.33M573.5 398.3v8.33M573.3 405.5h8.33M577.5 401.3v8.33M566.3 401.5h8.33M570.5 397.3v8.33M569.3 405.5h8.33M573.5 401.3v8.33M572.3 400.5h8.33M576.5 396.3v8.33M567.3 406.5h8.33M571.5 402.3v8.33M570.3 402.5h8.33M574.5 398.3v8.33M569.3 409.5h8.33M573.5 405.3v8.33M581.3 403.5h8.33M585.5 399.3v8.33M580.3 408.5h8.33M584.5 404.3v8.33M585.3 403.5h8.33M589.5 399.3v8.33M577.3 407.5h8.33M581.5 403.3v8.33M578.3 400.5h8.33M582.5 396.3v8.33M585.3 404.5h8.33M589.5 400.3v8.33M584.3 404.5h8.33M588.5 400.3v8.33M584.3 404.5h8.33M588.5 400.3v8.33M586.3 405.5h8.33M590.5 401.3v8.33M592.3 409.5h8.33M596.5 405.3v8.33M586.3 406.5h8.33M590.5 402.3v8.33M589.3 405.5h8.33M593.5 401.3v8.33M587.3 402.5h8.33M591.5 398.3v8.33M485.3 411.5h8.33M489.5 407.3v8.33M480.3 418.5h8.33M484.5 414.3v8.33M485.3 411.5h8.33M489.5 407.3v8.33M477.3 419.5h8.33M481.5 415.3v8.33M490.3 410.5h8.33M494.5 406.3v8.33M495.3 413.5h8.33M499.5 409.3v8.33M495.3 416.5h8.33M499.5 412.3v8.33M494.3 411.5h8.33M498.5 407.3v8.33M493.3 412.5h8.33M497.5 408.3v8.33M504.3 418.5h8.33M508.5 414.3v8.33M497.3 412.5h8.33M501.5 408.3v8.33M499.3 415.5h8.33M503.5 411.3v8.33M499.3 411.5h8.33M503.5 407.3v8.33M513.3 418.5h8.33M517.5 414.3v8.33M506.3 415.5h8.33M510.5 411.3v8.33M513.3 410.5h8.33M517.5 406.3v8.33M514.3 411.5h8.33M518.5 407.3v8.33M511.3 415.5h8.33M515.5 411.3v8.33M519.3 414.5h8.33M523.5 410.3v8.33M521.3 414.5h8.33M525.5 410.3v8.33M522.3 414.5h8.33M526.5 410.3v8.33M520.3 410.5h8.33M524.5 406.3v8.33M522.3 414.5h8.33M526.5 410.3v8.33M518.3 417.5h8.33M522.5 413.3v8.33M523.3 414.5h8.33M527.5 410.3v8.33M517.3 414.5h8.33M521.5 410.3v8.33M517.3 411.5h8.33M521.5 407.3v8.33M520.3 410.5h8.33M524.5 406.3v8.33M531.3 410.5h8.33M535.5 406.3v8.33M532.3 410.5h8.33M536.5 406.3v8.33M533.3 417.5h8.33M537.5 413.3v8.33M531.3 410.5h8.33M535.5 406.3v8.33M531.3 413.5h8.33M535.5 409.3v8.33M535.3 411.5h8.33M539.5 407.3v8.33M534.3 419.5h8.33M538.5 415.3v8.33M533.3 418.5h8.33M537.5 414.3v8.33M527.3 419.5h8.33M531.5 415.3v8.33M530.3 419.5h8.33M534.5 415.3v8.33M535.3 411.5h8.33M539.5 407.3v8.33M533.3 419.5h8.33M537.5 415.3v8.33M526.3 413.5h8.33M530.5 409.3v8.33M533.3 411.5h8.33M537.5 407.3v8.33M534.3 412.5h8.33M538.5 408.3v8.33M534.3 411.5h8.33M538.5 407.3v8.33M531.3 419.5h8.33M535.5 415.3v8.33M528.3 412.5h8.33M532.5 408.3v8.33M531.3 413.5h8.33M535.5 409.3v8.33M537.3 411.5h8.33M541.5 407.3v8.33M545.3 416.5h8.33M549.5 412.3v8.33M544.3 411.5h8.33M548.5 407.3v8.33M543.3 411.5h8.33M547.5 407.3v8.33M541.3 416.5h8.33M545.5 412.3v8.33M539.3 418.5h8.33M543.5 414.3v8.33M541.3 415.5h8.33M545.5 411.3v8.33M544.3 411.5h8.33M548.5 407.3v8.33M545.3 416.5h8.33M549.5 412.3v8.33M539.3 417.5h8.33M543.5 413.3v8.33M538.3 419.5h8.33M542.5 415.3v8.33M541.3 413.5h8.33M545.5 409.3v8.33M543.3 414.5h8.33M547.5 410.3v8.33M537.3 417.5h8.33M541.5 413.3v8.33M536.3 418.5h8.33M540.5 414.3v8.33M538.3 416.5h8.33M542.5 412.3v8.33M545.3 415.5h8.33M549.5 411.3v8.33M542.3 413.5h8.33M546.5 409.3v8.33M536.3 410.5h8.33M540.5 406.3v8.33M537.3 416.5h8.33M541.5 412.3v8.33M540.3 415.5h8.33M544.5 411.3v8.33M544.3 411.5h8.33M548.5 407.3v8.33M538.3 416.5h8.33M542.5 412.3v8.33M536.3 410.5h8.33M540.5 406.3v8.33M539.3 411.5h8.33M543.5 407.3v8.33M539.3 412.5h8.33M543.5 408.3v8.33M541.3 415.5h8.33M545.5 411.3v8.33M538.3 416.5h8.33M542.5 412.3v8.33M540.3 411.5h8.33M544.5 407.3v8.33M545.3 412.5h8.33M549.5 408.3v8.33M537.3 410.5h8.33M541.5 406.3v8.33M542.3 418.5h8.33M546.5 414.3v8.33M543.3 414.5h8.33M547.5 410.3v8.33M546.3 416.5h8.33M550.5 412.3v8.33M551.3 413.5h8.33M555.5 409.3v8.33M552.3 414.5h8.33M556.5 410.3v8.33M555.3 417.5h8.33M559.5 413.3v8.33M548.3 419.5h8.33M552.5 415.3v8.33M546.3 415.5h8.33M550.5 411.3v8.33M550.3 412.5h8.33M554.5 408.3v8.33M546.3 417.5h8.33M550.5 413.3v8.33M546.3 415.5h8.33M550.5 411.3v8.33M555.3 411.5h8.33M559.5 407.3v8.33M547.3 416.5h8.33M551.5 412.3v8.33M551.3 416.5h8.33M555.5 412.3v8.33M554.3 411.5h8.33M558.5 407.3v8.33M549.3 413.5h8.33M553.5 409.3v8.33M546.3 418.5h8.33M550.5 414.3v8.33M553.3 417.5h8.33M557.5 413.3v8.33M546.3 418.5h8.33M550.5 414.3v8.33M553.3 414.5h8.33M557.5 410.3v8.33M553.3 414.5h8.33M557.5 410.3v8.33M548.3 411.5h8.33M552.5 407.3v8.33M548.3 410.5h8.33M552.5 406.3v8.33M549.3 417.5h8.33M553.5 413.3v8.33M552.3 418.5h8.33M556.5 414.3v8.33M553.3 412.5h8.33M557.5 408.3v8.33M551.3 414.5h8.33M555.5 410.3v8.33M553.3 415.5h8.33M557.5 411.3v8.33M548.3 416.5h8.33M552.5 412.3v8.33M555.3 412.5h8.33M559.5 408.3v8.33M554.3 410.5h8.33M558.5 406.3v8.33M548.3 412.5h8.33M552.5 408.3v8.33M553.3 419.5h8.33M557.5 415.3v8.33M553.3 413.5h8.33M557.5 409.3v8.33M559.3 412.5h8.33M563.5 408.3v8.33M565.3 416.5h8.33M569.5 412.3v8.33M562.3 416.5h8.33M566.5 412.3v8.33M565.3 414.5h8.33M569.5 410.3v8.33M564.3 416.5h8.33M568.5 412.3v8.33M564.3 414.5h8.33M568.5 410.3v8.33M563.3 415.5h8.33M567.5 411.3v8.33M559.3 412.5h8.33M563.5 408.3v8.33M562.3 410.5h8.33M566.5 406.3v8.33M565.3 411.5h8.33M569.5 407.3v8.33M556.3 411.5h8.33M560.5 407.3v8.33M565.3 413.5h8.33M569.5 409.3v8.33M557.3 410.5h8.33M561.5 406.3v8.33M556.3 416.5h8.33M560.5 412.3v8.33M562.3 416.5h8.33M566.5 412.3v8.33M563.3 410.5h8.33M567.5 406.3v8.33M561.3 413.5h8.33M565.5 409.3v8.33M564.3 418.5h8.33M568.5 414.3v8.33M566.3 418.5h8.33M570.5 414.3v8.33M575.3 419.5h8.33M579.5 415.3v8.33M567.3 412.5h8.33M571.5 408.3v8.33M567.3 410.5h8.33M571.5 406.3v8.33M574.3 418.5h8.33M578.5 414.3v8.33M572.3 418.5h8.33M576.5 414.3v8.33M572.3 412.5h8.33M576.5 408.3v8.33M566.3 410.5h8.33M570.5 406.3v8.33M573.3 412.5h8.33M577.5 408.3v8.33M569.3 414.5h8.33M573.5 410.3v8.33M566.3 412.5h8.33M570.5 408.3v8.33M568.3 417.5h8.33M572.5 413.3v8.33M569.3 413.5h8.33M573.5 409.3v8.33M575.3 415.5h8.33M579.5 411.3v8.33M574.3 416.5h8.33M578.5 412.3v8.33M580.3 414.5h8.33M584.5 410.3v8.33M583.3 413.5h8.33M587.5 409.3v8.33M583.3 415.5h8.33M587.5 411.3v8.33M578.3 418.5h8.33M582.5 414.3v8.33M576.3 418.5h8.33M580.5 414.3v8.33M577.3 410.5h8.33M581.5 406.3v8.33M578.3 417.5h8.33M582.5 413.3v8.33M585.3 410.5h8.33M589.5 406.3v8.33M580.3 414.5h8.33M584.5 410.3v8.33M583.3 411.5h8.33M587.5 407.3v8.33M580.3 413.5h8.33M584.5 409.3v8.33M584.3 412.5h8.33M588.5 408.3v8.33M585.3 412.5h8.33M589.5 408.3v8.33M578.3 416.5h8.33M582.5 412.3v8.33M580.3 411.5h8.33M584.5 407.3v8.33M582.3 410.5h8.33M586.5 406.3v8.33M592.3 417.5h8.33M596.5 413.3v8.33M592.3 413.5h8.33M596.5 409.3v8.33M590.3 413.5h8.33M594.5 409.3v8.33M594.3 410.5h8.33M598.5 406.3v8.33M594.3 410.5h8.33M598.5 406.3v8.33M588.3 412.5h8.33M592.5 408.3v8.33M595.3 415.5h8.33M599.5 411.3v8.33M484.3 422.5h8.33M488.5 418.3v8.33M480.3 425.5h8.33M484.5 421.3v8.33M483.3 427.5h8.33M487.5 423.3v8.33M489.3 423.5h8.33M493.5 419.3v8.33M487.3 428.5h8.33M491.5 424.3v8.33M492.3 427.5h8.33M496.5 423.3v8.33M500.3 427.5h8.33M504.5 423.3v8.33M501.3 421.5h8.33M505.5 417.3v8.33M500.3 428.5h8.33M504.5 424.3v8.33M507.3 423.5h8.33M511.5 419.3v8.33M513.3 428.5h8.33M517.5 424.3v8.33M507.3 421.5h8.33M511.5 417.3v8.33M508.3 423.5h8.33M512.5 419.3v8.33M511.3 421.5h8.33M515.5 417.3v8.33M517.3 429.5h8.33M521.5 425.3v8.33M523.3 421.5h8.33M527.5 417.3v8.33M525.3 421.5h8.33M529.5 417.3v8.33M519.3 429.5h8.33M523.5 425.3v8.33M523.3 427.5h8.33M527.5 423.3v8.33M520.3 421.5h8.33M524.5 417.3v8.33M522.3 421.5h8.33M526.5 417.3v8.33M518.3 423.5h8.33M522.5 419.3v8.33M516.3 423.5h8.33M520.5 419.3v8.33M532.3 425.5h8.33M536.5 421.3v8.33M532.3 424.5h8.33M536.5 420.3v8.33M527.3 426.5h8.33M531.5 422.3v8.33M530.3 427.5h8.33M534.5 423.3v8.33M535.3 424.5h8.33M539.5 420.3v8.33M531.3 427.5h8.33M535.5 423.3v8.33M530.3 422.5h8.33M534.5 418.3v8.33M533.3 428.5h8.33M537.5 424.3v8.33M533.3 427.5h8.33M537.5 423.3v8.33M534.3 426.5h8.33M538.5 422.3v8.33M532.3 424.5h8.33M536.5 420.3v8.33M529.3 426.5h8.33M533.5 422.3v8.33M526.3 424.5h8.33M530.5 420.3v8.33M533.3 427.5h8.33M537.5 423.3v8.33M532.3 422.5h8.33M536.5 418.3v8.33M530.3 424.5h8.33M534.5 420.3v8.33M532.3 424.5h8.33M536.5 420.3v8.33M532.3 429.5h8.33M536.5 425.3v8.33M527.3 426.5h8.33M531.5 422.3v8.33M533.3 423.5h8.33M537.5 419.3v8.33M530.3 429.5h8.33M534.5 425.3v8.33M526.3 425.5h8.33M530.5 421.3v8.33M527.3 427.5h8.33M531.5 423.3v8.33M535.3 425.5h8.33M539.5 421.3v8.33M527.3 425.5h8.33M531.5 421.3v8.33M531.3 427.5h8.33M535.5 423.3v8.33M531.3 426.5h8.33M535.5 422.3v8.33M534.3 425.5h8.33M538.5 421.3v8.33M530.3 429.5h8.33M534.5 425.3v8.33M528.3 426.5h8.33M532.5 422.3v8.33M529.3 427.5h8.33M533.5 423.3v8.33M527.3 429.5h8.33M531.5 425.3v8.33M536.3 422.5h8.33M540.5 418.3v8.33M539.3 420.5h8.33M543.5 416.3v8.33M540.3 424.5h8.33M544.5 420.3v8.33M542.3 423.5h8.33M546.5 419.3v8.33M538.3 422.5h8.33M542.5 418.3v8.33M543.3 429.5h8.33M547.5 425.3v8.33M541.3 422.5h8.33M545.5 418.3v8.33M544.3 423.5h8.33M548.5 419.3v8.33M538.3 421.5h8.33M542.5 417.3v8.33M543.3 428.5h8.33M547.5 424.3v8.33M542.3 424.5h8.33M546.5 420.3v8.33M541.3 422.5h8.33M545.5 418.3v8.33M545.3 423.5h8.33M549.5 419.3v8.33M542.3 428.5h8.33M546.5 424.3v8.33M544.3 424.5h8.33M548.5 420.3v8.33M538.3 425.5h8.33M542.5 421.3v8.33M537.3 428.5h8.33M541.5 424.3v8.33M539.3 428.5h8.33M543.5 424.3v8.33M538.3 423.5h8.33M542.5 419.3v8.33M538.3 424.5h8.33M542.5 420.3v8.33M537.3 420.5h8.33M541.5 416.3v8.33M543.3 422.5h8.33M547.5 418.3v8.33M538.3 423.5h8.33M542.5 419.3v8.33M540.3 424.5h8.33M544.5 420.3v8.33M542.3 426.5h8.33M546.5 422.3v8.33M539.3 429.5h8.33M543.5 425.3v8.33M544.3 420.5h8.33M548.5 416.3v8.33M544.3 429.5h8.33M548.5 425.3v8.33M543.3 421.5h8.33M547.5 417.3v8.33M544.3 426.5h8.33M548.5 422.3v8.33M536.3 420.5h8.33M540.5 416.3v8.33M545.3 426.5h8.33M549.5 422.3v8.33M547.3 421.5h8.33M551.5 417.3v8.33M548.3 427.5h8.33M552.5 423.3v8.33M549.3 421.5h8.33M553.5 417.3v8.33M555.3 427.5h8.33M559.5 423.3v8.33M547.3 428.5h8.33M551.5 424.3v8.33M552.3 427.5h8.33M556.5 423.3v8.33M552.3 428.5h8.33M556.5 424.3v8.33M553.3 428.5h8.33M557.5 424.3v8.33M547.3 426.5h8.33M551.5 422.3v8.33M551.3 427.5h8.33M555.5 423.3v8.33M550.3 428.5h8.33M554.5 424.3v8.33M551.3 422.5h8.33M555.5 418.3v8.33M548.3 421.5h8.33M552.5 417.3v8.33M550.3 420.5h8.33M554.5 416.3v8.33M550.3 421.5h8.33M554.5 417.3v8.33M550.3 424.5h8.33M554.5 420.3v8.33M551.3 428.5h8.33M555.5 424.3v8.33M546.3 428.5h8.33M550.5 424.3v8.33M550.3 425.5h8.33M554.5 421.3v8.33M552.3 428.5h8.33M556.5 424.3v8.33M549.3 424.5h8.33M553.5 420.3v8.33M555.3 420.5h8.33M559.5 416.3v8.33M552.3 426.5h8.33M556.5 422.3v8.33M546.3 426.5h8.33M550.5 422.3v8.33M552.3 429.5h8.33M556.5 425.3v8.33M549.3 429.5h8.33M553.5 425.3v8.33M551.3 424.5h8.33M555.5 420.3v8.33M554.3 420.5h8.33M558.5 416.3v8.33M553.3 426.5h8.33M557.5 422.3v8.33M549.3 428.5h8.33M553.5 424.3v8.33M549.3 424.5h8.33M553.5 420.3v8.33M551.3 427.5h8.33M555.5 423.3v8.33M560.3 424.5h8.33M564.5 420.3v8.33M561.3 428.5h8.33M565.5 424.3v8.33M558.3 428.5h8.33M562.5 424.3v8.33M560.3 425.5h8.33M564.5 421.3v8.33M558.3 425.5h8.33M562.5 421.3v8.33M565.3 426.5h8.33M569.5 422.3v8.33M563.3 423.5h8.33M567.5 419.3v8.33M559.3 422.5h8.33M563.5 418.3v8.33M561.3 426.5h8.33M565.5 422.3v8.33M563.3 420.5h8.33M567.5 416.3v8.33M563.3 428.5h8.33M567.5 424.3v8.33M561.3 420.5h8.33M565.5 416.3v8.33M559.3 420.5h8.33M563.5 416.3v8.33M557.3 429.5h8.33M561.5 425.3v8.33M562.3 426.5h8.33M566.5 422.3v8.33M563.3 429.5h8.33M567.5 425.3v8.33M562.3 426.5h8.33M566.5 422.3v8.33M562.3 426.5h8.33M566.5 422.3v8.33M561.3 426.5h8.33M565.5 422.3v8.33M558.3 426.5h8.33M562.5 422.3v8.33M560.3 427.5h8.33M564.5 423.3v8.33M557.3 421.5h8.33M561.5 417.3v8.33M556.3 427.5h8.33M560.5 423.3v8.33M565.3 426.5h8.33M569.5 422.3v8.33M574.3 427.5h8.33M578.5 423.3v8.33M571.3 422.5h8.33M575.5 418.3v8.33M569.3 424.5h8.33M573.5 420.3v8.33M569.3 424.5h8.33M573.5 420.3v8.33M572.3 429.5h8.33M576.5 425.3v8.33M566.3 425.5h8.33M570.5 421.3v8.33M566.3 421.5h8.33M570.5 417.3v8.33M574.3 425.5h8.33M578.5 421.3v8.33M575.3 424.5h8.33M579.5 420.3v8.33M566.3 423.5h8.33M570.5 419.3v8.33M571.3 429.5h8.33M575.5 425.3v8.33M575.3 424.5h8.33M579.5 420.3v8.33M570.3 421.5h8.33M574.5 417.3v8.33M572.3 422.5h8.33M576.5 418.3v8.33M567.3 420.5h8.33M571.5 416.3v8.33M566.3 426.5h8.33M570.5 422.3v8.33M567.3 429.5h8.33M571.5 425.3v8.33M566.3 428.5h8.33M570.5 424.3v8.33M567.3 420.5h8.33M571.5 416.3v8.33M578.3 427.5h8.33M582.5 423.3v8.33M577.3 420.5h8.33M581.5 416.3v8.33M583.3 427.5h8.33M587.5 423.3v8.33M584.3 427.5h8.33M588.5 423.3v8.33M576.3 426.5h8.33M580.5 422.3v8.33M583.3 424.5h8.33M587.5 420.3v8.33M585.3 422.5h8.33M589.5 418.3v8.33M585.3 427.5h8.33M589.5 423.3v8.33M576.3 420.5h8.33M580.5 416.3v8.33M582.3 428.5h8.33M586.5 424.3v8.33M576.3 423.5h8.33M580.5 419.3v8.33M583.3 421.5h8.33M587.5 417.3v8.33M584.3 424.5h8.33M588.5 420.3v8.33M576.3 423.5h8.33M580.5 419.3v8.33M581.3 424.5h8.33M585.5 420.3v8.33M582.3 421.5h8.33M586.5 417.3v8.33M583.3 423.5h8.33M587.5 419.3v8.33M582.3 426.5h8.33M586.5 422.3v8.33M589.3 427.5h8.33M593.5 423.3v8.33M595.3 427.5h8.33M599.5 423.3v8.33M591.3 422.5h8.33M595.5 418.3v8.33M586.3 429.5h8.33M590.5 425.3v8.33M593.3 428.5h8.33M597.5 424.3v8.33M589.3 426.5h8.33M593.5 422.3v8.33M595.3 428.5h8.33M599.5 424.3v8.33M592.3 423.5h8.33M596.5 419.3v8.33M590.3 428.5h8.33M594.5 424.3v8.33M589.3 426.5h8.33M593.5 422.3v8.33M592.3 428.5h8.33M596.5 424.3v8.33M594.3 422.5h8.33M598.5 418.3v8.33M586.3 422.5h8.33M590.5 418.3v8.33M494.3 438.5h8.33M498.5 434.3v8.33M504.3 438.5h8.33M508.5 434.3v8.33M504.3 435.5h8.33M508.5 431.3v8.33M498.3 438.5h8.33M502.5 434.3v8.33M512.3 439.5h8.33M516.5 435.3v8.33M509.3 430.5h8.33M513.5 426.3v8.33M511.3 437.5h8.33M515.5 433.3v8.33M523.3 439.5h8.33M527.5 435.3v8.33M518.3 436.5h8.33M522.5 432.3v8.33M522.3 434.5h8.33M526.5 430.3v8.33M518.3 432.5h8.33M522.5 428.3v8.33M523.3 437.5h8.33M527.5 433.3v8.33M520.3 430.5h8.33M524.5 426.3v8.33M524.3 437.5h8.33M528.5 433.3v8.33M518.3 435.5h8.33M522.5 431.3v8.33M534.3 435.5h8.33M538.5 431.3v8.33M530.3 435.5h8.33M534.5 431.3v8.33M527.3 431.5h8.33M531.5 427.3v8.33M527.3 437.5h8.33M531.5 433.3v8.33M529.3 435.5h8.33M533.5 431.3v8.33M530.3 435.5h8.33M534.5 431.3v8.33M527.3 430.5h8.33M531.5 426.3v8.33M535.3 433.5h8.33M539.5 429.3v8.33M527.3 436.5h8.33M531.5 432.3v8.33M533.3 431.5h8.33M537.5 427.3v8.33M531.3 433.5h8.33M535.5 429.3v8.33M531.3 430.5h8.33M535.5 426.3v8.33M526.3 439.5h8.33M530.5 435.3v8.33M534.3 434.5h8.33M538.5 430.3v8.33M531.3 432.5h8.33M535.5 428.3v8.33M540.3 439.5h8.33M544.5 435.3v8.33M543.3 438.5h8.33M547.5 434.3v8.33M545.3 432.5h8.33M549.5 428.3v8.33M536.3 432.5h8.33M540.5 428.3v8.33M537.3 430.5h8.33M541.5 426.3v8.33M536.3 435.5h8.33M540.5 431.3v8.33M544.3 434.5h8.33M548.5 430.3v8.33M545.3 439.5h8.33M549.5 435.3v8.33M536.3 435.5h8.33M540.5 431.3v8.33M539.3 431.5h8.33M543.5 427.3v8.33M545.3 432.5h8.33M549.5 428.3v8.33M541.3 436.5h8.33M545.5 432.3v8.33M545.3 436.5h8.33M549.5 432.3v8.33M539.3 434.5h8.33M543.5 430.3v8.33M537.3 439.5h8.33M541.5 435.3v8.33M545.3 432.5h8.33M549.5 428.3v8.33M536.3 432.5h8.33M540.5 428.3v8.33M539.3 439.5h8.33M543.5 435.3v8.33M545.3 438.5h8.33M549.5 434.3v8.33M536.3 437.5h8.33M540.5 433.3v8.33M543.3 436.5h8.33M547.5 432.3v8.33M545.3 430.5h8.33M549.5 426.3v8.33M537.3 437.5h8.33M541.5 433.3v8.33M552.3 432.5h8.33M556.5 428.3v8.33M551.3 437.5h8.33M555.5 433.3v8.33M547.3 433.5h8.33M551.5 429.3v8.33M548.3 431.5h8.33M552.5 427.3v8.33M550.3 431.5h8.33M554.5 427.3v8.33M548.3 431.5h8.33M552.5 427.3v8.33M552.3 430.5h8.33M556.5 426.3v8.33M553.3 431.5h8.33M557.5 427.3v8.33M546.3 439.5h8.33M550.5 435.3v8.33M548.3 439.5h8.33M552.5 435.3v8.33M554.3 438.5h8.33M558.5 434.3v8.33M547.3 434.5h8.33M551.5 430.3v8.33M546.3 439.5h8.33M550.5 435.3v8.33M554.3 436.5h8.33M558.5 432.3v8.33M550.3 433.5h8.33M554.5 429.3v8.33M554.3 434.5h8.33M558.5 430.3v8.33M552.3 431.5h8.33M556.5 427.3v8.33M548.3 430.5h8.33M552.5 426.3v8.33M553.3 435.5h8.33M557.5 431.3v8.33M547.3 438.5h8.33M551.5 434.3v8.33M548.3 434.5h8.33M552.5 430.3v8.33M547.3 432.5h8.33M551.5 428.3v8.33M554.3 433.5h8.33M558.5 429.3v8.33M560.3 433.5h8.33M564.5 429.3v8.33M565.3 431.5h8.33M569.5 427.3v8.33M565.3 430.5h8.33M569.5 426.3v8.33M564.3 436.5h8.33M568.5 432.3v8.33M558.3 434.5h8.33M562.5 430.3v8.33M558.3 432.5h8.33M562.5 428.3v8.33M558.3 433.5h8.33M562.5 429.3v8.33M565.3 439.5h8.33M569.5 435.3v8.33M565.3 430.5h8.33M569.5 426.3v8.33M558.3 438.5h8.33M562.5 434.3v8.33M556.3 437.5h8.33M560.5 433.3v8.33M558.3 439.5h8.33M562.5 435.3v8.33M556.3 438.5h8.33M560.5 434.3v8.33M559.3 431.5h8.33M563.5 427.3v8.33M556.3 438.5h8.33M560.5 434.3v8.33M561.3 431.5h8.33M565.5 427.3v8.33M560.3 439.5h8.33M564.5 435.3v8.33M558.3 435.5h8.33M562.5 431.3v8.33M557.3 431.5h8.33M561.5 427.3v8.33M563.3 437.5h8.33M567.5 433.3v8.33M557.3 430.5h8.33M561.5 426.3v8.33M556.3 436.5h8.33M560.5 432.3v8.33M560.3 432.5h8.33M564.5 428.3v8.33M558.3 436.5h8.33M562.5 432.3v8.33M563.3 438.5h8.33M567.5 434.3v8.33M561.3 432.5h8.33M565.5 428.3v8.33M556.3 437.5h8.33M560.5 433.3v8.33M560.3 437.5h8.33M564.5 433.3v8.33M556.3 438.5h8.33M560.5 434.3v8.33M559.3 438.5h8.33M563.5 434.3v8.33M564.3 434.5h8.33M568.5 430.3v8.33M556.3 439.5h8.33M560.5 435.3v8.33M560.3 438.5h8.33M564.5 434.3v8.33M567.3 438.5h8.33M571.5 434.3v8.33M569.3 431.5h8.33M573.5 427.3v8.33M569.3 435.5h8.33M573.5 431.3v8.33M566.3 435.5h8.33M570.5 431.3v8.33M570.3 435.5h8.33M574.5 431.3v8.33M567.3 437.5h8.33M571.5 433.3v8.33M574.3 438.5h8.33M578.5 434.3v8.33M569.3 437.5h8.33M573.5 433.3v8.33M569.3 437.5h8.33M573.5 433.3v8.33M566.3 438.5h8.33M570.5 434.3v8.33M575.3 434.5h8.33M579.5 430.3v8.33M571.3 435.5h8.33M575.5 431.3v8.33M571.3 430.5h8.33M575.5 426.3v8.33M575.3 432.5h8.33M579.5 428.3v8.33M567.3 431.5h8.33M571.5 427.3v8.33M568.3 438.5h8.33M572.5 434.3v8.33M566.3 430.5h8.33M570.5 426.3v8.33M572.3 431.5h8.33M576.5 427.3v8.33M566.3 435.5h8.33M570.5 431.3v8.33M571.3 435.5h8.33M575.5 431.3v8.33M573.3 431.5h8.33M577.5 427.3v8.33M574.3 437.5h8.33M578.5 433.3v8.33M566.3 431.5h8.33M570.5 427.3v8.33M570.3 435.5h8.33M574.5 431.3v8.33M577.3 434.5h8.33M581.5 430.3v8.33M577.3 435.5h8.33M581.5 431.3v8.33M584.3 431.5h8.33M588.5 427.3v8.33M581.3 437.5h8.33M585.5 433.3v8.33M577.3 438.5h8.33M581.5 434.3v8.33M585.3 433.5h8.33M589.5 429.3v8.33M580.3 438.5h8.33M584.5 434.3v8.33M581.3 433.5h8.33M585.5 429.3v8.33M585.3 437.5h8.33M589.5 433.3v8.33M579.3 432.5h8.33M583.5 428.3v8.33M579.3 434.5h8.33M583.5 430.3v8.33M585.3 438.5h8.33M589.5 434.3v8.33M585.3 438.5h8.33M589.5 434.3v8.33M584.3 430.5h8.33M588.5 426.3v8.33M581.3 439.5h8.33M585.5 435.3v8.33M585.3 432.5h8.33M589.5 428.3v8.33M580.3 436.5h8.33M584.5 432.3v8.33M579.3 435.5h8.33M583.5 431.3v8.33M576.3 434.5h8.33M580.5 430.3v8.33M586.3 431.5h8.33M590.5 427.3v8.33M595.3 437.5h8.33M599.5 433.3v8.33M595.3 436.5h8.33M599.5 432.3v8.33M594.3 438.5h8.33M598.5 434.3v8.33M594.3 430.5h8.33M598.5 426.3v8.33M592.3 432.5h8.33M596.5 428.3v8.33M592.3 432.5h8.33M596.5 428.3v8.33M591.3 439.5h8.33M595.5 435.3v8.33M592.3 432.5h8.33M596.5 428.3v8.33M591.3 434.5h8.33M595.5 430.3v8.33M595.3 432.5h8.33M599.5 428.3v8.33M589.3 436.5h8.33M593.5 432.3v8.33M587.3 435.5h8.33M591.5 431.3v8.33M595.3 435.5h8.33M599.5 431.3v8.33M588.3 434.5h8.33M592.5 430.3v8.33M487.3 441.5h8.33M491.5 437.3v8.33M488.3 444.5h8.33M492.5 440.3v8.33M488.3 442.5h8.33M492.5 438.3v8.33M501.3 448.5h8.33M505.5 444.3v8.33M502.3 445.5h8.33M506.5 441.3v8.33M502.3 442.5h8.33M506.5 438.3v8.33M503.3 444.5h8.33M507.5 440.3v8.33M512.3 444.5h8.33M516.5 440.3v8.33M509.3 442.5h8.33M513.5 438.3v8.33M508.3 445.5h8.33M512.5 441.3v8.33M509.3 445.5h8.33M513.5 441.3v8.33M506.3 443.5h8.33M510.5 439.3v8.33M514.3 442.5h8.33M518.5 438.3v8.33M511.3 444.5h8.33M515.5 440.3v8.33M525.3 442.5h8.33M529.5 438.3v8.33M523.3 441.5h8.33M527.5 437.3v8.33M516.3 448.5h8.33M520.5 444.3v8.33M520.3 440.5h8.33M524.5 436.3v8.33M519.3 444.5h8.33M523.5 440.3v8.33M523.3 441.5h8.33M527.5 437.3v8.33M518.3 449.5h8.33M522.5 445.3v8.33M523.3 441.5h8.33M527.5 437.3v8.33M519.3 443.5h8.33M523.5 439.3v8.33M522.3 446.5h8.33M526.5 442.3v8.33M524.3 448.5h8.33M528.5 444.3v8.33M521.3 447.5h8.33M525.5 443.3v8.33M523.3 447.5h8.33M527.5 443.3v8.33M533.3 447.5h8.33M537.5 443.3v8.33M535.3 441.5h8.33M539.5 437.3v8.33M534.3 440.5h8.33M538.5 436.3v8.33M533.3 445.5h8.33M537.5 441.3v8.33M530.3 449.5h8.33M534.5 445.3v8.33M531.3 444.5h8.33M535.5 440.3v8.33M533.3 448.5h8.33M537.5 444.3v8.33M532.3 443.5h8.33M536.5 439.3v8.33M530.3 444.5h8.33M534.5 440.3v8.33M533.3 442.5h8.33M537.5 438.3v8.33M529.3 445.5h8.33M533.5 441.3v8.33M529.3 443.5h8.33M533.5 439.3v8.33M533.3 448.5h8.33M537.5 444.3v8.33M530.3 444.5h8.33M534.5 440.3v8.33M527.3 443.5h8.33M531.5 439.3v8.33M527.3 445.5h8.33M531.5 441.3v8.33M531.3 440.5h8.33M535.5 436.3v8.33M535.3 443.5h8.33M539.5 439.3v8.33M534.3 448.5h8.33M538.5 444.3v8.33M538.3 444.5h8.33M542.5 440.3v8.33M545.3 440.5h8.33M549.5 436.3v8.33M536.3 445.5h8.33M540.5 441.3v8.33M540.3 449.5h8.33M544.5 445.3v8.33M543.3 445.5h8.33M547.5 441.3v8.33M545.3 445.5h8.33M549.5 441.3v8.33M541.3 446.5h8.33M545.5 442.3v8.33M539.3 443.5h8.33M543.5 439.3v8.33M541.3 443.5h8.33M545.5 439.3v8.33M545.3 446.5h8.33M549.5 442.3v8.33M541.3 440.5h8.33M545.5 436.3v8.33M539.3 444.5h8.33M543.5 440.3v8.33M541.3 445.5h8.33M545.5 441.3v8.33M544.3 449.5h8.33M548.5 445.3v8.33M540.3 444.5h8.33M544.5 440.3v8.33M542.3 449.5h8.33M546.5 445.3v8.33M539.3 445.5h8.33M543.5 441.3v8.33M544.3 441.5h8.33M548.5 437.3v8.33M539.3 449.5h8.33M543.5 445.3v8.33M544.3 445.5h8.33M548.5 441.3v8.33M537.3 448.5h8.33M541.5 444.3v8.33M542.3 448.5h8.33M546.5 444.3v8.33M545.3 448.5h8.33M549.5 444.3v8.33M547.3 442.5h8.33M551.5 438.3v8.33M551.3 445.5h8.33M555.5 441.3v8.33M547.3 441.5h8.33M551.5 437.3v8.33M552.3 446.5h8.33M556.5 442.3v8.33M549.3 449.5h8.33M553.5 445.3v8.33M552.3 440.5h8.33M556.5 436.3v8.33M550.3 447.5h8.33M554.5 443.3v8.33M549.3 446.5h8.33M553.5 442.3v8.33M546.3 443.5h8.33M550.5 439.3v8.33M554.3 445.5h8.33M558.5 441.3v8.33M552.3 441.5h8.33M556.5 437.3v8.33M550.3 445.5h8.33M554.5 441.3v8.33M548.3 446.5h8.33M552.5 442.3v8.33M551.3 449.5h8.33M555.5 445.3v8.33M551.3 444.5h8.33M555.5 440.3v8.33M547.3 441.5h8.33M551.5 437.3v8.33M553.3 441.5h8.33M557.5 437.3v8.33M547.3 441.5h8.33M551.5 437.3v8.33M551.3 448.5h8.33M555.5 444.3v8.33M552.3 448.5h8.33M556.5 444.3v8.33M546.3 440.5h8.33M550.5 436.3v8.33M553.3 443.5h8.33M557.5 439.3v8.33M553.3 443.5h8.33M557.5 439.3v8.33M547.3 442.5h8.33M551.5 438.3v8.33M546.3 449.5h8.33M550.5 445.3v8.33M551.3 443.5h8.33M555.5 439.3v8.33M550.3 443.5h8.33M554.5 439.3v8.33M546.3 448.5h8.33M550.5 444.3v8.33M551.3 449.5h8.33M555.5 445.3v8.33M550.3 446.5h8.33M554.5 442.3v8.33M548.3 440.5h8.33M552.5 436.3v8.33M555.3 448.5h8.33M559.5 444.3v8.33M564.3 448.5h8.33M568.5 444.3v8.33M559.3 446.5h8.33M563.5 442.3v8.33M565.3 444.5h8.33M569.5 440.3v8.33M565.3 442.5h8.33M569.5 438.3v8.33M559.3 447.5h8.33M563.5 443.3v8.33M558.3 443.5h8.33M562.5 439.3v8.33M564.3 444.5h8.33M568.5 440.3v8.33M563.3 442.5h8.33M567.5 438.3v8.33M557.3 443.5h8.33M561.5 439.3v8.33M557.3 449.5h8.33M561.5 445.3v8.33M558.3 445.5h8.33M562.5 441.3v8.33M557.3 445.5h8.33M561.5 441.3v8.33M559.3 444.5h8.33M563.5 440.3v8.33M556.3 441.5h8.33M560.5 437.3v8.33M564.3 443.5h8.33M568.5 439.3v8.33M558.3 441.5h8.33M562.5 437.3v8.33M558.3 442.5h8.33M562.5 438.3v8.33M556.3 446.5h8.33M560.5 442.3v8.33M559.3 441.5h8.33M563.5 437.3v8.33M563.3 440.5h8.33M567.5 436.3v8.33M558.3 448.5h8.33M562.5 444.3v8.33M557.3 444.5h8.33M561.5 440.3v8.33M564.3 448.5h8.33M568.5 444.3v8.33M557.3 443.5h8.33M561.5 439.3v8.33M563.3 443.5h8.33M567.5 439.3v8.33M565.3 442.5h8.33M569.5 438.3v8.33M565.3 445.5h8.33M569.5 441.3v8.33M558.3 444.5h8.33M562.5 440.3v8.33M557.3 447.5h8.33M561.5 443.3v8.33M558.3 448.5h8.33M562.5 444.3v8.33M561.3 443.5h8.33M565.5 439.3v8.33M558.3 446.5h8.33M562.5 442.3v8.33M574.3 441.5h8.33M578.5 437.3v8.33M571.3 445.5h8.33M575.5 441.3v8.33M568.3 447.5h8.33M572.5 443.3v8.33M569.3 446.5h8.33M573.5 442.3v8.33M571.3 443.5h8.33M575.5 439.3v8.33M569.3 440.5h8.33M573.5 436.3v8.33M567.3 448.5h8.33M571.5 444.3v8.33M569.3 446.5h8.33M573.5 442.3v8.33M567.3 445.5h8.33M571.5 441.3v8.33M569.3 445.5h8.33M573.5 441.3v8.33M568.3 440.5h8.33M572.5 436.3v8.33M569.3 442.5h8.33M573.5 438.3v8.33M567.3 447.5h8.33M571.5 443.3v8.33M568.3 444.5h8.33M572.5 440.3v8.33M575.3 447.5h8.33M579.5 443.3v8.33M574.3 448.5h8.33M578.5 444.3v8.33M567.3 442.5h8.33M571.5 438.3v8.33M566.3 446.5h8.33M570.5 442.3v8.33M572.3 443.5h8.33M576.5 439.3v8.33M570.3 446.5h8.33M574.5 442.3v8.33M572.3 442.5h8.33M576.5 438.3v8.33M574.3 443.5h8.33M578.5 439.3v8.33M572.3 441.5h8.33M576.5 437.3v8.33M567.3 449.5h8.33M571.5 445.3v8.33M573.3 447.5h8.33M577.5 443.3v8.33M566.3 440.5h8.33M570.5 436.3v8.33M567.3 441.5h8.33M571.5 437.3v8.33M569.3 443.5h8.33M573.5 439.3v8.33M566.3 443.5h8.33M570.5 439.3v8.33M572.3 441.5h8.33M576.5 437.3v8.33M574.3 445.5h8.33M578.5 441.3v8.33M573.3 442.5h8.33M577.5 438.3v8.33M570.3 446.5h8.33M574.5 442.3v8.33M576.3 448.5h8.33M580.5 444.3v8.33M583.3 442.5h8.33M587.5 438.3v8.33M576.3 448.5h8.33M580.5 444.3v8.33M582.3 440.5h8.33M586.5 436.3v8.33M578.3 441.5h8.33M582.5 437.3v8.33M583.3 442.5h8.33M587.5 438.3v8.33M585.3 447.5h8.33M589.5 443.3v8.33M576.3 446.5h8.33M580.5 442.3v8.33M579.3 447.5h8.33M583.5 443.3v8.33M584.3 442.5h8.33M588.5 438.3v8.33M576.3 449.5h8.33M580.5 445.3v8.33M580.3 449.5h8.33M584.5 445.3v8.33M582.3 447.5h8.33M586.5 443.3v8.33M584.3 446.5h8.33M588.5 442.3v8.33M580.3 440.5h8.33M584.5 436.3v8.33M582.3 444.5h8.33M586.5 440.3v8.33M581.3 449.5h8.33M585.5 445.3v8.33M577.3 447.5h8.33M581.5 443.3v8.33M576.3 447.5h8.33M580.5 443.3v8.33M584.3 442.5h8.33M588.5 438.3v8.33M581.3 449.5h8.33M585.5 445.3v8.33M582.3 445.5h8.33M586.5 441.3v8.33M578.3 440.5h8.33M582.5 436.3v8.33M579.3 444.5h8.33M583.5 440.3v8.33M589.3 441.5h8.33M593.5 437.3v8.33M593.3 446.5h8.33M597.5 442.3v8.33M588.3 442.5h8.33M592.5 438.3v8.33M591.3 444.5h8.33M595.5 440.3v8.33M595.3 443.5h8.33M599.5 439.3v8.33M588.3 448.5h8.33M592.5 444.3v8.33M587.3 445.5h8.33M591.5 441.3v8.33M589.3 448.5h8.33M593.5 444.3v8.33M591.3 447.5h8.33M595.5 443.3v8.33M587.3 446.5h8.33M591.5 442.3v8.33M591.3 444.5h8.33M595.5 440.3v8.33M593.3 448.5h8.33M597.5 444.3v8.33M587.3 442.5h8.33M591.5 438.3v8.33M589.3 442.5h8.33M593.5 438.3v8.33M586.3 442.5h8.33M590.5 438.3v8.33M587.3 447.5h8.33M591.5 443.3v8.33M590.3 441.5h8.33M594.5 437.3v8.33M589.3 444.5h8.33M593.5 440.3v8.33M589.3 441.5h8.33M593.5 437.3v8.33M476.3 459.5h8.33M480.5 455.3v8.33M483.3 450.5h8.33M487.5 446.3v8.33M483.3 459.5h8.33M487.5 455.3v8.33M487.3 454.5h8.33M491.5 450.3v8.33M490.3 451.5h8.33M494.5 447.3v8.33M491.3 450.5h8.33M495.5 446.3v8.33M495.3 456.5h8.33M499.5 452.3v8.33M505.3 456.5h8.33M509.5 452.3v8.33M498.3 452.5h8.33M502.5 448.3v8.33M497.3 450.5h8.33M501.5 446.3v8.33M503.3 458.5h8.33M507.5 454.3v8.33M498.3 451.5h8.33M502.5 447.3v8.33M514.3 459.5h8.33M518.5 455.3v8.33M507.3 457.5h8.33M511.5 453.3v8.33M514.3 457.5h8.33M518.5 453.3v8.33M509.3 451.5h8.33M513.5 447.3v8.33M514.3 453.5h8.33M518.5 449.3v8.33M509.3 455.5h8.33M513.5 451.3v8.33M509.3 458.5h8.33M513.5 454.3v8.33M516.3 455.5h8.33M520.5 451.3v8.33M522.3 458.5h8.33M526.5 454.3v8.33M523.3 459.5h8.33M527.5 455.3v8.33M525.3 454.5h8.33M529.5 450.3v8.33M520.3 451.5h8.33M524.5 447.3v8.33M518.3 455.5h8.33M522.5 451.3v8.33M516.3 456.5h8.33M520.5 452.3v8.33M517.3 454.5h8.33M521.5 450.3v8.33M525.3 450.5h8.33M529.5 446.3v8.33M516.3 454.5h8.33M520.5 450.3v8.33M517.3 457.5h8.33M521.5 453.3v8.33M534.3 458.5h8.33M538.5 454.3v8.33M533.3 454.5h8.33M537.5 450.3v8.33M528.3 456.5h8.33M532.5 452.3v8.33M531.3 454.5h8.33M535.5 450.3v8.33M529.3 454.5h8.33M533.5 450.3v8.33M532.3 458.5h8.33M536.5 454.3v8.33M535.3 451.5h8.33M539.5 447.3v8.33M528.3 454.5h8.33M532.5 450.3v8.33M531.3 453.5h8.33M535.5 449.3v8.33M527.3 450.5h8.33M531.5 446.3v8.33M529.3 454.5h8.33M533.5 450.3v8.33M535.3 459.5h8.33M539.5 455.3v8.33M534.3 459.5h8.33M538.5 455.3v8.33M535.3 456.5h8.33M539.5 452.3v8.33M534.3 450.5h8.33M538.5 446.3v8.33M532.3 456.5h8.33M536.5 452.3v8.33M528.3 455.5h8.33M532.5 451.3v8.33M535.3 454.5h8.33M539.5 450.3v8.33M532.3 452.5h8.33M536.5 448.3v8.33M544.3 450.5h8.33M548.5 446.3v8.33M537.3 456.5h8.33M541.5 452.3v8.33M540.3 450.5h8.33M544.5 446.3v8.33M542.3 453.5h8.33M546.5 449.3v8.33M541.3 454.5h8.33M545.5 450.3v8.33M541.3 455.5h8.33M545.5 451.3v8.33M539.3 451.5h8.33M543.5 447.3v8.33M537.3 458.5h8.33M541.5 454.3v8.33M541.3 451.5h8.33M545.5 447.3v8.33M544.3 452.5h8.33M548.5 448.3v8.33M536.3 455.5h8.33M540.5 451.3v8.33M538.3 454.5h8.33M542.5 450.3v8.33M541.3 452.5h8.33M545.5 448.3v8.33M541.3 451.5h8.33M545.5 447.3v8.33M541.3 455.5h8.33M545.5 451.3v8.33M536.3 454.5h8.33M540.5 450.3v8.33M536.3 454.5h8.33M540.5 450.3v8.33M544.3 455.5h8.33M548.5 451.3v8.33M543.3 457.5h8.33M547.5 453.3v8.33M537.3 459.5h8.33M541.5 455.3v8.33M543.3 451.5h8.33M547.5 447.3v8.33M544.3 453.5h8.33M548.5 449.3v8.33M537.3 459.5h8.33M541.5 455.3v8.33M541.3 457.5h8.33M545.5 453.3v8.33M553.3 450.5h8.33M557.5 446.3v8.33M548.3 453.5h8.33M552.5 449.3v8.33M546.3 455.5h8.33M550.5 451.3v8.33M548.3 452.5h8.33M552.5 448.3v8.33M553.3 454.5h8.33M557.5 450.3v8.33M554.3 456.5h8.33M558.5 452.3v8.33M554.3 455.5h8.33M558.5 451.3v8.33M555.3 458.5h8.33M559.5 454.3v8.33M547.3 457.5h8.33M551.5 453.3v8.33M549.3 457.5h8.33M553.5 453.3v8.33M552.3 458.5h8.33M556.5 454.3v8.33M547.3 453.5h8.33M551.5 449.3v8.33M553.3 459.5h8.33M557.5 455.3v8.33M553.3 450.5h8.33M557.5 446.3v8.33M552.3 450.5h8.33M556.5 446.3v8.33M551.3 458.5h8.33M555.5 454.3v8.33M547.3 459.5h8.33M551.5 455.3v8.33M552.3 452.5h8.33M556.5 448.3v8.33M547.3 454.5h8.33M551.5 450.3v8.33M554.3 455.5h8.33M558.5 451.3v8.33M547.3 450.5h8.33M551.5 446.3v8.33M547.3 458.5h8.33M551.5 454.3v8.33M547.3 455.5h8.33M551.5 451.3v8.33M548.3 456.5h8.33M552.5 452.3v8.33M557.3 458.5h8.33M561.5 454.3v8.33M561.3 456.5h8.33M565.5 452.3v8.33M564.3 459.5h8.33M568.5 455.3v8.33M556.3 453.5h8.33M560.5 449.3v8.33M557.3 455.5h8.33M561.5 451.3v8.33M564.3 458.5h8.33M568.5 454.3v8.33M556.3 451.5h8.33M560.5 447.3v8.33M564.3 456.5h8.33M568.5 452.3v8.33M559.3 454.5h8.33M563.5 450.3v8.33M557.3 458.5h8.33M561.5 454.3v8.33M559.3 458.5h8.33M563.5 454.3v8.33M562.3 450.5h8.33M566.5 446.3v8.33M559.3 452.5h8.33M563.5 448.3v8.33M564.3 455.5h8.33M568.5 451.3v8.33M556.3 451.5h8.33M560.5 447.3v8.33M559.3 454.5h8.33M563.5 450.3v8.33M561.3 453.5h8.33M565.5 449.3v8.33M559.3 450.5h8.33M563.5 446.3v8.33M561.3 453.5h8.33M565.5 449.3v8.33M556.3 454.5h8.33M560.5 450.3v8.33M565.3 450.5h8.33M569.5 446.3v8.33M557.3 456.5h8.33M561.5 452.3v8.33M558.3 452.5h8.33M562.5 448.3v8.33M561.3 452.5h8.33M565.5 448.3v8.33M561.3 455.5h8.33M565.5 451.3v8.33M565.3 459.5h8.33M569.5 455.3v8.33M556.3 455.5h8.33M560.5 451.3v8.33M563.3 458.5h8.33M567.5 454.3v8.33M563.3 456.5h8.33M567.5 452.3v8.33M562.3 453.5h8.33M566.5 449.3v8.33M558.3 457.5h8.33M562.5 453.3v8.33M564.3 459.5h8.33M568.5 455.3v8.33M569.3 457.5h8.33M573.5 453.3v8.33M573.3 455.5h8.33M577.5 451.3v8.33M572.3 453.5h8.33M576.5 449.3v8.33M571.3 454.5h8.33M575.5 450.3v8.33M566.3 453.5h8.33M570.5 449.3v8.33M569.3 459.5h8.33M573.5 455.3v8.33M570.3 453.5h8.33M574.5 449.3v8.33M568.3 452.5h8.33M572.5 448.3v8.33M569.3 451.5h8.33M573.5 447.3v8.33M566.3 458.5h8.33M570.5 454.3v8.33M570.3 454.5h8.33M574.5 450.3v8.33M571.3 453.5h8.33M575.5 449.3v8.33M567.3 450.5h8.33M571.5 446.3v8.33M569.3 453.5h8.33M573.5 449.3v8.33M573.3 455.5h8.33M577.5 451.3v8.33M575.3 453.5h8.33M579.5 449.3v8.33M575.3 455.5h8.33M579.5 451.3v8.33M566.3 451.5h8.33M570.5 447.3v8.33M571.3 459.5h8.33M575.5 455.3v8.33M569.3 457.5h8.33M573.5 453.3v8.33M570.3 458.5h8.33M574.5 454.3v8.33M566.3 454.5h8.33M570.5 450.3v8.33M574.3 452.5h8.33M578.5 448.3v8.33M568.3 450.5h8.33M572.5 446.3v8.33M567.3 452.5h8.33M571.5 448.3v8.33M573.3 452.5h8.33M577.5 448.3v8.33M569.3 452.5h8.33M573.5 448.3v8.33M572.3 458.5h8.33M576.5 454.3v8.33M572.3 451.5h8.33M576.5 447.3v8.33M573.3 459.5h8.33M577.5 455.3v8.33M572.3 450.5h8.33M576.5 446.3v8.33M574.3 458.5h8.33M578.5 454.3v8.33M577.3 451.5h8.33M581.5 447.3v8.33M581.3 458.5h8.33M585.5 454.3v8.33M582.3 459.5h8.33M586.5 455.3v8.33M578.3 453.5h8.33M582.5 449.3v8.33M583.3 456.5h8.33M587.5 452.3v8.33M580.3 456.5h8.33M584.5 452.3v8.33M579.3 450.5h8.33M583.5 446.3v8.33M580.3 450.5h8.33M584.5 446.3v8.33M582.3 453.5h8.33M586.5 449.3v8.33M580.3 455.5h8.33M584.5 451.3v8.33M578.3 454.5h8.33M582.5 450.3v8.33M576.3 459.5h8.33M580.5 455.3v8.33M581.3 459.5h8.33M585.5 455.3v8.33M576.3 456.5h8.33M580.5 452.3v8.33M583.3 453.5h8.33M587.5 449.3v8.33M576.3 451.5h8.33M580.5 447.3v8.33M577.3 457.5h8.33M581.5 453.3v8.33M576.3 458.5h8.33M580.5 454.3v8.33M580.3 455.5h8.33M584.5 451.3v8.33M581.3 455.5h8.33M585.5 451.3v8.33M582.3 456.5h8.33M586.5 452.3v8.33M579.3 457.5h8.33M583.5 453.3v8.33M578.3 457.5h8.33M582.5 453.3v8.33M583.3 457.5h8.33M587.5 453.3v8.33M579.3 457.5h8.33M583.5 453.3v8.33M585.3 454.5h8.33M589.5 450.3v8.33M578.3 455.5h8.33M582.5 451.3v8.33M585.3 451.5h8.33M589.5 447.3v8.33M576.3 454.5h8.33M580.5 450.3v8.33M582.3 457.5h8.33M586.5 453.3v8.33M579.3 459.5h8.33M583.5 455.3v8.33M578.3 457.5h8.33M582.5 453.3v8.33M586.3 451.5h8.33M590.5 447.3v8.33M586.3 455.5h8.33M590.5 451.3v8.33M591.3 451.5h8.33M595.5 447.3v8.33M595.3 453.5h8.33M599.5 449.3v8.33M587.3 451.5h8.33M591.5 447.3v8.33M593.3 459.5h8.33M597.5 455.3v8.33M587.3 450.5h8.33M591.5 446.3v8.33M593.3 452.5h8.33M597.5 448.3v8.33M595.3 454.5h8.33M599.5 450.3v8.33M592.3 453.5h8.33M596.5 449.3v8.33M594.3 454.5h8.33M598.5 450.3v8.33M589.3 459.5h8.33M593.5 455.3v8.33M587.3 457.5h8.33M591.5 453.3v8.33M586.3 456.5h8.33M590.5 452.3v8.33M590.3 458.5h8.33M594.5 454.3v8.33M586.3 455.5h8.33M590.5 451.3v8.33M590.3 459.5h8.33M594.5 455.3v8.33M595.3 456.5h8.33M599.5 452.3v8.33M588.3 452.5h8.33M592.5 448.3v8.33M588.3 454.5h8.33M592.5 450.3v8.33M588.3 452.5h8.33M592.5 448.3v8.33M593.3 456.5h8.33M597.5 452.3v8.33M588.3 459.5h8.33M592.5 455.3v8.33M588.3 455.5h8.33M592.5 451.3v8.33M604.3 408.5h8.33M608.5 404.3v8.33M598.3 407.5h8.33M602.5 403.3v8.33M604.3 402.5h8.33M608.5 398.3v8.33M610.3 408.5h8.33M614.5 404.3v8.33M607.3 406.5h8.33M611.5 402.3v8.33M631.3 408.5h8.33M635.5 404.3v8.33M644.3 403.5h8.33M648.5 399.3v8.33M604.3 419.5h8.33M608.5 415.3v8.33M598.3 410.5h8.33M602.5 406.3v8.33M597.3 419.5h8.33M601.5 415.3v8.33M596.3 419.5h8.33M600.5 415.3v8.33M613.3 410.5h8.33M617.5 406.3v8.33M607.3 416.5h8.33M611.5 412.3v8.33M606.3 413.5h8.33M610.5 409.3v8.33M603.3 426.5h8.33M607.5 422.3v8.33M596.3 425.5h8.33M600.5 421.3v8.33M598.3 424.5h8.33M602.5 420.3v8.33M597.3 420.5h8.33M601.5 416.3v8.33M609.3 428.5h8.33M613.5 424.3v8.33M607.3 424.5h8.33M611.5 420.3v8.33M607.3 424.5h8.33M611.5 420.3v8.33M607.3 426.5h8.33M611.5 422.3v8.33M623.3 425.5h8.33M627.5 421.3v8.33M617.3 423.5h8.33M621.5 419.3v8.33M620.3 429.5h8.33M624.5 425.3v8.33M628.3 429.5h8.33M632.5 425.3v8.33M634.3 427.5h8.33M638.5 423.3v8.33M637.3 422.5h8.33M641.5 418.3v8.33M646.3 425.5h8.33M650.5 421.3v8.33M599.3 430.5h8.33M603.5 426.3v8.33M602.3 436.5h8.33M606.5 432.3v8.33M601.3 435.5h8.33M605.5 431.3v8.33M602.3 439.5h8.33M606.5 435.3v8.33M604.3 437.5h8.33M608.5 433.3v8.33M599.3 433.5h8.33M603.5 429.3v8.33M600.3 439.5h8.33M604.5 435.3v8.33M599.3 433.5h8.33M603.5 429.3v8.33M600.3 431.5h8.33M604.5 427.3v8.33M605.3 430.5h8.33M609.5 426.3v8.33M602.3 439.5h8.33M606.5 435.3v8.33M598.3 436.5h8.33M602.5 432.3v8.33M599.3 432.5h8.33M603.5 428.3v8.33M597.3 431.5h8.33M601.5 427.3v8.33M604.3 437.5h8.33M608.5 433.3v8.33M606.3 436.5h8.33M610.5 432.3v8.33M609.3 436.5h8.33M613.5 432.3v8.33M611.3 433.5h8.33M615.5 429.3v8.33M615.3 430.5h8.33M619.5 426.3v8.33M613.3 438.5h8.33M617.5 434.3v8.33M611.3 435.5h8.33M615.5 431.3v8.33M615.3 432.5h8.33M619.5 428.3v8.33M612.3 437.5h8.33M616.5 433.3v8.33M609.3 437.5h8.33M613.5 433.3v8.33M609.3 435.5h8.33M613.5 431.3v8.33M622.3 433.5h8.33M626.5 429.3v8.33M622.3 435.5h8.33M626.5 431.3v8.33M618.3 436.5h8.33M622.5 432.3v8.33M618.3 439.5h8.33M622.5 435.3v8.33M620.3 437.5h8.33M624.5 433.3v8.33M621.3 434.5h8.33M625.5 430.3v8.33M627.3 439.5h8.33M631.5 435.3v8.33M631.3 435.5h8.33M635.5 431.3v8.33M631.3 438.5h8.33M635.5 434.3v8.33M628.3 431.5h8.33M632.5 427.3v8.33M634.3 434.5h8.33M638.5 430.3v8.33M644.3 438.5h8.33M648.5 434.3v8.33M644.3 430.5h8.33M648.5 426.3v8.33M639.3 438.5h8.33M643.5 434.3v8.33M644.3 431.5h8.33M648.5 427.3v8.33M648.3 431.5h8.33M652.5 427.3v8.33M649.3 438.5h8.33M653.5 434.3v8.33M651.3 434.5h8.33M655.5 430.3v8.33M659.3 439.5h8.33M663.5 435.3v8.33M600.3 444.5h8.33M604.5 440.3v8.33M603.3 447.5h8.33M607.5 443.3v8.33M597.3 446.5h8.33M601.5 442.3v8.33M599.3 445.5h8.33M603.5 441.3v8.33M598.3 443.5h8.33M602.5 439.3v8.33M599.3 443.5h8.33M603.5 439.3v8.33M596.3 442.5h8.33M600.5 438.3v8.33M601.3 440.5h8.33M605.5 436.3v8.33M597.3 447.5h8.33M601.5 443.3v8.33M598.3 443.5h8.33M602.5 439.3v8.33M598.3 448.5h8.33M602.5 444.3v8.33M596.3 446.5h8.33M600.5 442.3v8.33M604.3 442.5h8.33M608.5 438.3v8.33M600.3 447.5h8.33M604.5 443.3v8.33M602.3 443.5h8.33M606.5 439.3v8.33M610.3 443.5h8.33M614.5 439.3v8.33M613.3 442.5h8.33M617.5 438.3v8.33M610.3 446.5h8.33M614.5 442.3v8.33M614.3 443.5h8.33M618.5 439.3v8.33M609.3 445.5h8.33M613.5 441.3v8.33M615.3 441.5h8.33M619.5 437.3v8.33M615.3 447.5h8.33M619.5 443.3v8.33M609.3 446.5h8.33M613.5 442.3v8.33M609.3 440.5h8.33M613.5 436.3v8.33M613.3 443.5h8.33M617.5 439.3v8.33M611.3 444.5h8.33M615.5 440.3v8.33M615.3 447.5h8.33M619.5 443.3v8.33M606.3 445.5h8.33M610.5 441.3v8.33M620.3 448.5h8.33M624.5 444.3v8.33M620.3 444.5h8.33M624.5 440.3v8.33M624.3 444.5h8.33M628.5 440.3v8.33M620.3 445.5h8.33M624.5 441.3v8.33M624.3 446.5h8.33M628.5 442.3v8.33M623.3 444.5h8.33M627.5 440.3v8.33M616.3 446.5h8.33M620.5 442.3v8.33M621.3 447.5h8.33M625.5 443.3v8.33M623.3 441.5h8.33M627.5 437.3v8.33M626.3 448.5h8.33M630.5 444.3v8.33M627.3 440.5h8.33M631.5 436.3v8.33M633.3 445.5h8.33M637.5 441.3v8.33M626.3 446.5h8.33M630.5 442.3v8.33M633.3 444.5h8.33M637.5 440.3v8.33M626.3 446.5h8.33M630.5 442.3v8.33M641.3 449.5h8.33M645.5 445.3v8.33M644.3 448.5h8.33M648.5 444.3v8.33M637.3 443.5h8.33M641.5 439.3v8.33M641.3 440.5h8.33M645.5 436.3v8.33M645.3 442.5h8.33M649.5 438.3v8.33M649.3 442.5h8.33M653.5 438.3v8.33M654.3 445.5h8.33M658.5 441.3v8.33M651.3 444.5h8.33M655.5 440.3v8.33M646.3 443.5h8.33M650.5 439.3v8.33M664.3 448.5h8.33M668.5 444.3v8.33M658.3 442.5h8.33M662.5 438.3v8.33M656.3 445.5h8.33M660.5 441.3v8.33M600.3 454.5h8.33M604.5 450.3v8.33M601.3 453.5h8.33M605.5 449.3v8.33M604.3 452.5h8.33M608.5 448.3v8.33M605.3 455.5h8.33M609.5 451.3v8.33M596.3 453.5h8.33M600.5 449.3v8.33M601.3 454.5h8.33M605.5 450.3v8.33M601.3 453.5h8.33M605.5 449.3v8.33M598.3 457.5h8.33M602.5 453.3v8.33M598.3 457.5h8.33M602.5 453.3v8.33M604.3 455.5h8.33M608.5 451.3v8.33M600.3 459.5h8.33M604.5 455.3v8.33M600.3 458.5h8.33M604.5 454.3v8.33M596.3 454.5h8.33M600.5 450.3v8.33M602.3 450.5h8.33M606.5 446.3v8.33M604.3 450.5h8.33M608.5 446.3v8.33M607.3 459.5h8.33M611.5 455.3v8.33M611.3 458.5h8.33M615.5 454.3v8.33M610.3 456.5h8.33M614.5 452.3v8.33M612.3 452.5h8.33M616.5 448.3v8.33M608.3 458.5h8.33M612.5 454.3v8.33M607.3 459.5h8.33M611.5 455.3v8.33M608.3 451.5h8.33M612.5 447.3v8.33M606.3 457.5h8.33M610.5 453.3v8.33M615.3 454.5h8.33M619.5 450.3v8.33M612.3 452.5h8.33M616.5 448.3v8.33M615.3 456.5h8.33M619.5 452.3v8.33M607.3 450.5h8.33M611.5 446.3v8.33M616.3 458.5h8.33M620.5 454.3v8.33M618.3 452.5h8.33M622.5 448.3v8.33M621.3 453.5h8.33M625.5 449.3v8.33M621.3 451.5h8.33M625.5 447.3v8.33M625.3 453.5h8.33M629.5 449.3v8.33M624.3 451.5h8.33M628.5 447.3v8.33M623.3 459.5h8.33M627.5 455.3v8.33M619.3 450.5h8.33M623.5 446.3v8.33M619.3 456.5h8.33M623.5 452.3v8.33M618.3 455.5h8.33M622.5 451.3v8.33M630.3 457.5h8.33M634.5 453.3v8.33M630.3 456.5h8.33M634.5 452.3v8.33M627.3 458.5h8.33M631.5 454.3v8.33M627.3 459.5h8.33M631.5 455.3v8.33M635.3 459.5h8.33M639.5 455.3v8.33M631.3 452.5h8.33M635.5 448.3v8.33M629.3 457.5h8.33M633.5 453.3v8.33M630.3 459.5h8.33M634.5 455.3v8.33M640.3 458.5h8.33M644.5 454.3v8.33M641.3 455.5h8.33M645.5 451.3v8.33M636.3 451.5h8.33M640.5 447.3v8.33M638.3 458.5h8.33M642.5 454.3v8.33M644.3 452.5h8.33M648.5 448.3v8.33M645.3 450.5h8.33M649.5 446.3v8.33M641.3 459.5h8.33M645.5 455.3v8.33M639.3 459.5h8.33M643.5 455.3v8.33M646.3 453.5h8.33M650.5 449.3v8.33M650.3 452.5h8.33M654.5 448.3v8.33M653.3 451.5h8.33M657.5 447.3v8.33M653.3 452.5h8.33M657.5 448.3v8.33M646.3 455.5h8.33M650.5 451.3v8.33M646.3 455.5h8.33M650.5 451.3v8.33M661.3 454.5h8.33M665.5 450.3v8.33M656.3 455.5h8.33M660.5 451.3v8.33M656.3 456.5h8.33M660.5 452.3v8.33M657.3 455.5h8.33M661.5 451.3v8.33M659.3 453.5h8.33M663.5 449.3v8.33M597.3 461.5h8.33M601.5 457.3v8.33M605.3 463.5h8.33M609.5 459.3v8.33M604.3 468.5h8.33M608.5 464.3v8.33M600.3 461.5h8.33M604.5 457.3v8.33M596.3 468.5h8.33M600.5 464.3v8.33M597.3 464.5h8.33M601.5 460.3v8.33M601.3 461.5h8.33M605.5 457.3v8.33M600.3 461.5h8.33M604.5 457.3v8.33M601.3 465.5h8.33M605.5 461.3v8.33M599.3 461.5h8.33M603.5 457.3v8.33M608.3 461.5h8.33M612.5 457.3v8.33M608.3 468.5h8.33M612.5 464.3v8.33M611.3 468.5h8.33M615.5 464.3v8.33M606.3 469.5h8.33M610.5 465.3v8.33M610.3 467.5h8.33M614.5 463.3v8.33M611.3 466.5h8.33M615.5 462.3v8.33M608.3 467.5h8.33M612.5 463.3v8.33M607.3 462.5h8.33M611.5 458.3v8.33M606.3 463.5h8.33M610.5 459.3v8.33M618.3 468.5h8.33M622.5 464.3v8.33M616.3 465.5h8.33M620.5 461.3v8.33M618.3 465.5h8.33M622.5 461.3v8.33M623.3 467.5h8.33M627.5 463.3v8.33M616.3 462.5h8.33M620.5 458.3v8.33M621.3 469.5h8.33M625.5 465.3v8.33M616.3 466.5h8.33M620.5 462.3v8.33M622.3 468.5h8.33M626.5 464.3v8.33M619.3 468.5h8.33M623.5 464.3v8.33M635.3 460.5h8.33M639.5 456.3v8.33M635.3 464.5h8.33M639.5 460.3v8.33M630.3 460.5h8.33M634.5 456.3v8.33M628.3 467.5h8.33M632.5 463.3v8.33M632.3 461.5h8.33M636.5 457.3v8.33M629.3 461.5h8.33M633.5 457.3v8.33M627.3 462.5h8.33M631.5 458.3v8.33M645.3 469.5h8.33M649.5 465.3v8.33M643.3 464.5h8.33M647.5 460.3v8.33M640.3 467.5h8.33M644.5 463.3v8.33M645.3 467.5h8.33M649.5 463.3v8.33M642.3 461.5h8.33M646.5 457.3v8.33M642.3 468.5h8.33M646.5 464.3v8.33M643.3 460.5h8.33M647.5 456.3v8.33M643.3 463.5h8.33M647.5 459.3v8.33M655.3 466.5h8.33M659.5 462.3v8.33M653.3 461.5h8.33M657.5 457.3v8.33M654.3 469.5h8.33M658.5 465.3v8.33M655.3 467.5h8.33M659.5 463.3v8.33M654.3 468.5h8.33M658.5 464.3v8.33M651.3 464.5h8.33M655.5 460.3v8.33M654.3 467.5h8.33M658.5 463.3v8.33M658.3 469.5h8.33M662.5 465.3v8.33M661.3 469.5h8.33M665.5 465.3v8.33M657.3 469.5h8.33M661.5 465.3v8.33M663.3 462.5h8.33M667.5 458.3v8.33M664.3 462.5h8.33M668.5 458.3v8.33M657.3 464.5h8.33M661.5 460.3v8.33M600.3 479.5h8.33M604.5 475.3v8.33M602.3 477.5h8.33M606.5 473.3v8.33M599.3 477.5h8.33M603.5 473.3v8.33M612.3 479.5h8.33M616.5 475.3v8.33M614.3 474.5h8.33M618.5 470.3v8.33M606.3 476.5h8.33M610.5 472.3v8.33M619.3 475.5h8.33M623.5 471.3v8.33M624.3 477.5h8.33M628.5 473.3v8.33M630.3 470.5h8.33M634.5 466.3v8.33M627.3 478.5h8.33M631.5 474.3v8.33M630.3 476.5h8.33M634.5 472.3v8.33M639.3 472.5h8.33M643.5 468.3v8.33M639.3 478.5h8.33M643.5 474.3v8.33M648.3 470.5h8.33M652.5 466.3v8.33M648.3 477.5h8.33M652.5 473.3v8.33M662.3 478.5h8.33M666.5 474.3v8.33M657.3 476.5h8.33M661.5 472.3v8.33M604.3 481.5h8.33M608.5 477.3v8.33M615.3 483.5h8.33M619.5 479.3v8.33M624.3 486.5h8.33M628.5 482.3v8.33M495.3 316.5h8.33M499.5 312.3v8.33M497.3 320.5h8.33M501.5 316.3v8.33M507.3 324.5h8.33M511.5 320.3v8.33M510.3 323.5h8.33M514.5 319.3v8.33M519.3 316.5h8.33M523.5 312.3v8.33M521.3 323.5h8.33M525.5 319.3v8.33M529.3 324.5h8.33M533.5 320.3v8.33M562.3 319.5h8.33M566.5 315.3v8.33M489.3 331.5h8.33M493.5 327.3v8.33M499.3 330.5h8.33M503.5 326.3v8.33M515.3 329.5h8.33M519.5 325.3v8.33M509.3 334.5h8.33M513.5 330.3v8.33M524.3 331.5h8.33M528.5 327.3v8.33M521.3 329.5h8.33M525.5 325.3v8.33M534.3 332.5h8.33M538.5 328.3v8.33M536.3 328.5h8.33M540.5 324.3v8.33M555.3 333.5h8.33M559.5 329.3v8.33M561.3 330.5h8.33M565.5 326.3v8.33M496.3 465.5h8.33M500.5 461.3v8.33M503.3 466.5h8.33M507.5 462.3v8.33M498.3 467.5h8.33M502.5 463.3v8.33M498.3 466.5h8.33M502.5 462.3v8.33M510.3 468.5h8.33M514.5 464.3v8.33M512.3 467.5h8.33M516.5 463.3v8.33M512.3 465.5h8.33M516.5 461.3v8.33M515.3 467.5h8.33M519.5 463.3v8.33M512.3 464.5h8.33M516.5 460.3v8.33M507.3 466.5h8.33M511.5 462.3v8.33M514.3 467.5h8.33M518.5 463.3v8.33M509.3 463.5h8.33M513.5 459.3v8.33M521.3 468.5h8.33M525.5 464.3v8.33M517.3 467.5h8.33M521.5 463.3v8.33M517.3 464.5h8.33M521.5 460.3v8.33M516.3 464.5h8.33M520.5 460.3v8.33M519.3 468.5h8.33M523.5 464.3v8.33M525.3 464.5h8.33M529.5 460.3v8.33M519.3 468.5h8.33M523.5 464.3v8.33M517.3 464.5h8.33M521.5 460.3v8.33M520.3 463.5h8.33M524.5 459.3v8.33M518.3 465.5h8.33M522.5 461.3v8.33M519.3 468.5h8.33M523.5 464.3v8.33M518.3 464.5h8.33M522.5 460.3v8.33M535.3 465.5h8.33M539.5 461.3v8.33M534.3 466.5h8.33M538.5 462.3v8.33M533.3 464.5h8.33M537.5 460.3v8.33M527.3 467.5h8.33M531.5 463.3v8.33M530.3 466.5h8.33M534.5 462.3v8.33M532.3 467.5h8.33M536.5 463.3v8.33M528.3 465.5h8.33M532.5 461.3v8.33M535.3 466.5h8.33M539.5 462.3v8.33M528.3 466.5h8.33M532.5 462.3v8.33M528.3 467.5h8.33M532.5 463.3v8.33M526.3 467.5h8.33M530.5 463.3v8.33M531.3 465.5h8.33M535.5 461.3v8.33M535.3 464.5h8.33M539.5 460.3v8.33M528.3 463.5h8.33M532.5 459.3v8.33M531.3 467.5h8.33M535.5 463.3v8.33M532.3 465.5h8.33M536.5 461.3v8.33M544.3 463.5h8.33M548.5 459.3v8.33M539.3 466.5h8.33M543.5 462.3v8.33M545.3 466.5h8.33M549.5 462.3v8.33M542.3 467.5h8.33M546.5 463.3v8.33M539.3 468.5h8.33M543.5 464.3v8.33M543.3 465.5h8.33M547.5 461.3v8.33M539.3 467.5h8.33M543.5 463.3v8.33M539.3 464.5h8.33M543.5 460.3v8.33M544.3 466.5h8.33M548.5 462.3v8.33M541.3 467.5h8.33M545.5 463.3v8.33M545.3 463.5h8.33M549.5 459.3v8.33M539.3 463.5h8.33M543.5 459.3v8.33M540.3 466.5h8.33M544.5 462.3v8.33M544.3 467.5h8.33M548.5 463.3v8.33M541.3 465.5h8.33M545.5 461.3v8.33M541.3 464.5h8.33M545.5 460.3v8.33M544.3 467.5h8.33M548.5 463.3v8.33M544.3 463.5h8.33M548.5 459.3v8.33M542.3 467.5h8.33M546.5 463.3v8.33M541.3 468.5h8.33M545.5 464.3v8.33M554.3 467.5h8.33M558.5 463.3v8.33M554.3 466.5h8.33M558.5 462.3v8.33M554.3 463.5h8.33M558.5 459.3v8.33M553.3 467.5h8.33M557.5 463.3v8.33M552.3 464.5h8.33M556.5 460.3v8.33M546.3 466.5h8.33M550.5 462.3v8.33M554.3 464.5h8.33M558.5 460.3v8.33M548.3 464.5h8.33M552.5 460.3v8.33M546.3 467.5h8.33M550.5 463.3v8.33M555.3 467.5h8.33M559.5 463.3v8.33M549.3 467.5h8.33M553.5 463.3v8.33M546.3 468.5h8.33M550.5 464.3v8.33M549.3 463.5h8.33M553.5 459.3v8.33M552.3 463.5h8.33M556.5 459.3v8.33M548.3 463.5h8.33M552.5 459.3v8.33M550.3 466.5h8.33M554.5 462.3v8.33M554.3 463.5h8.33M558.5 459.3v8.33M554.3 463.5h8.33M558.5 459.3v8.33M548.3 466.5h8.33M552.5 462.3v8.33M549.3 464.5h8.33M553.5 460.3v8.33M551.3 464.5h8.33M555.5 460.3v8.33M553.3 464.5h8.33M557.5 460.3v8.33M554.3 467.5h8.33M558.5 463.3v8.33M551.3 463.5h8.33M555.5 459.3v8.33M563.3 463.5h8.33M567.5 459.3v8.33M561.3 465.5h8.33M565.5 461.3v8.33M556.3 466.5h8.33M560.5 462.3v8.33M563.3 466.5h8.33M567.5 462.3v8.33M560.3 466.5h8.33M564.5 462.3v8.33M561.3 464.5h8.33M565.5 460.3v8.33M564.3 468.5h8.33M568.5 464.3v8.33M564.3 468.5h8.33M568.5 464.3v8.33M559.3 468.5h8.33M563.5 464.3v8.33M556.3 465.5h8.33M560.5 461.3v8.33M557.3 465.5h8.33M561.5 461.3v8.33M562.3 467.5h8.33M566.5 463.3v8.33M560.3 465.5h8.33M564.5 461.3v8.33M557.3 465.5h8.33M561.5 461.3v8.33M558.3 464.5h8.33M562.5 460.3v8.33M563.3 466.5h8.33M567.5 462.3v8.33M560.3 464.5h8.33M564.5 460.3v8.33M563.3 464.5h8.33M567.5 460.3v8.33M558.3 466.5h8.33M562.5 462.3v8.33M563.3 468.5h8.33M567.5 464.3v8.33M563.3 468.5h8.33M567.5 464.3v8.33M565.3 467.5h8.33M569.5 463.3v8.33M563.3 463.5h8.33M567.5 459.3v8.33M558.3 463.5h8.33M562.5 459.3v8.33M564.3 467.5h8.33M568.5 463.3v8.33M562.3 464.5h8.33M566.5 460.3v8.33M559.3 463.5h8.33M563.5 459.3v8.33M562.3 468.5h8.33M566.5 464.3v8.33M569.3 463.5h8.33M573.5 459.3v8.33M567.3 465.5h8.33M571.5 461.3v8.33M574.3 467.5h8.33M578.5 463.3v8.33M570.3 463.5h8.33M574.5 459.3v8.33M567.3 463.5h8.33M571.5 459.3v8.33M573.3 465.5h8.33M577.5 461.3v8.33M575.3 468.5h8.33M579.5 464.3v8.33M573.3 465.5h8.33M577.5 461.3v8.33M574.3 463.5h8.33M578.5 459.3v8.33M567.3 466.5h8.33M571.5 462.3v8.33M571.3 464.5h8.33M575.5 460.3v8.33M568.3 463.5h8.33M572.5 459.3v8.33M575.3 467.5h8.33M579.5 463.3v8.33M575.3 468.5h8.33M579.5 464.3v8.33M570.3 467.5h8.33M574.5 463.3v8.33M569.3 467.5h8.33M573.5 463.3v8.33M574.3 463.5h8.33M578.5 459.3v8.33M566.3 464.5h8.33M570.5 460.3v8.33M571.3 465.5h8.33M575.5 461.3v8.33M566.3 467.5h8.33M570.5 463.3v8.33M573.3 465.5h8.33M577.5 461.3v8.33M566.3 468.5h8.33M570.5 464.3v8.33M571.3 463.5h8.33M575.5 459.3v8.33M569.3 466.5h8.33M573.5 462.3v8.33M574.3 465.5h8.33M578.5 461.3v8.33M572.3 464.5h8.33M576.5 460.3v8.33M568.3 468.5h8.33M572.5 464.3v8.33M569.3 463.5h8.33M573.5 459.3v8.33M571.3 463.5h8.33M575.5 459.3v8.33M567.3 465.5h8.33M571.5 461.3v8.33M571.3 466.5h8.33M575.5 462.3v8.33M573.3 465.5h8.33M577.5 461.3v8.33M576.3 467.5h8.33M580.5 463.3v8.33M576.3 465.5h8.33M580.5 461.3v8.33M580.3 467.5h8.33M584.5 463.3v8.33M583.3 464.5h8.33M587.5 460.3v8.33M582.3 467.5h8.33M586.5 463.3v8.33M580.3 463.5h8.33M584.5 459.3v8.33M585.3 466.5h8.33M589.5 462.3v8.33M576.3 464.5h8.33M580.5 460.3v8.33M585.3 464.5h8.33M589.5 460.3v8.33M579.3 467.5h8.33M583.5 463.3v8.33M584.3 466.5h8.33M588.5 462.3v8.33M583.3 463.5h8.33M587.5 459.3v8.33M576.3 468.5h8.33M580.5 464.3v8.33M584.3 463.5h8.33M588.5 459.3v8.33M576.3 464.5h8.33M580.5 460.3v8.33M585.3 464.5h8.33M589.5 460.3v8.33M582.3 468.5h8.33M586.5 464.3v8.33M582.3 468.5h8.33M586.5 464.3v8.33M578.3 463.5h8.33M582.5 459.3v8.33M576.3 467.5h8.33M580.5 463.3v8.33M577.3 468.5h8.33M581.5 464.3v8.33M583.3 464.5h8.33M587.5 460.3v8.33M584.3 463.5h8.33M588.5 459.3v8.33M581.3 463.5h8.33M585.5 459.3v8.33M583.3 468.5h8.33M587.5 464.3v8.33M585.3 463.5h8.33M589.5 459.3v8.33M584.3 466.5h8.33M588.5 462.3v8.33M584.3 466.5h8.33M588.5 462.3v8.33M582.3 466.5h8.33M586.5 462.3v8.33M583.3 463.5h8.33M587.5 459.3v8.33M576.3 466.5h8.33M580.5 462.3v8.33M578.3 465.5h8.33M582.5 461.3v8.33M576.3 467.5h8.33M580.5 463.3v8.33M576.3 467.5h8.33M580.5 463.3v8.33M584.3 465.5h8.33M588.5 461.3v8.33M577.3 466.5h8.33M581.5 462.3v8.33M588.3 465.5h8.33M592.5 461.3v8.33M587.3 468.5h8.33M591.5 464.3v8.33M591.3 465.5h8.33M595.5 461.3v8.33M586.3 467.5h8.33M590.5 463.3v8.33M594.3 468.5h8.33M598.5 464.3v8.33M587.3 465.5h8.33M591.5 461.3v8.33M589.3 467.5h8.33M593.5 463.3v8.33M587.3 466.5h8.33M591.5 462.3v8.33M595.3 467.5h8.33M599.5 463.3v8.33M586.3 463.5h8.33M590.5 459.3v8.33M587.3 467.5h8.33M591.5 463.3v8.33M591.3 466.5h8.33M595.5 462.3v8.33M590.3 465.5h8.33M594.5 461.3v8.33M592.3 466.5h8.33M596.5 462.3v8.33M595.3 467.5h8.33M599.5 463.3v8.33M593.3 468.5h8.33M597.5 464.3v8.33M594.3 467.5h8.33M598.5 463.3v8.33M586.3 467.5h8.33M590.5 463.3v8.33M594.3 465.5h8.33M598.5 461.3v8.33M594.3 464.5h8.33M598.5 460.3v8.33M595.3 465.5h8.33M599.5 461.3v8.33M593.3 464.5h8.33M597.5 460.3v8.33M589.3 465.5h8.33M593.5 461.3v8.33M589.3 463.5h8.33M593.5 459.3v8.33M590.3 468.5h8.33M594.5 464.3v8.33M592.3 468.5h8.33M596.5 464.3v8.33M593.3 468.5h8.33M597.5 464.3v8.33M595.3 467.5h8.33M599.5 463.3v8.33M588.3 464.5h8.33M592.5 460.3v8.33M590.3 463.5h8.33M594.5 459.3v8.33M588.3 468.5h8.33M592.5 464.3v8.33M595.3 464.5h8.33M599.5 460.3v8.33M593.3 467.5h8.33M597.5 463.3v8.33M594.3 467.5h8.33M598.5 463.3v8.33M591.3 463.5h8.33M595.5 459.3v8.33M594.3 464.5h8.33M598.5 460.3v8.33M592.3 465.5h8.33M596.5 461.3v8.33M591.3 468.5h8.33M595.5 464.3v8.33M587.3 466.5h8.33M591.5 462.3v8.33M592.3 466.5h8.33M596.5 462.3v8.33M505.3 471.5h8.33M509.5 467.3v8.33M515.3 472.5h8.33M519.5 468.3v8.33M525.3 469.5h8.33M529.5 465.3v8.33M518.3 470.5h8.33M522.5 466.3v8.33M535.3 469.5h8.33M539.5 465.3v8.33M528.3 472.5h8.33M532.5 468.3v8.33M535.3 469.5h8.33M539.5 465.3v8.33M540.3 472.5h8.33M544.5 468.3v8.33M542.3 472.5h8.33M546.5 468.3v8.33M543.3 470.5h8.33M547.5 466.3v8.33M548.3 469.5h8.33M552.5 465.3v8.33M552.3 470.5h8.33M556.5 466.3v8.33M548.3 473.5h8.33M552.5 469.3v8.33M552.3 471.5h8.33M556.5 467.3v8.33M562.3 471.5h8.33M566.5 467.3v8.33M562.3 470.5h8.33M566.5 466.3v8.33M556.3 469.5h8.33M560.5 465.3v8.33M556.3 470.5h8.33M560.5 466.3v8.33M567.3 469.5h8.33M571.5 465.3v8.33M570.3 473.5h8.33M574.5 469.3v8.33M572.3 470.5h8.33M576.5 466.3v8.33M573.3 469.5h8.33M577.5 465.3v8.33M567.3 470.5h8.33M571.5 466.3v8.33M580.3 472.5h8.33M584.5 468.3v8.33M580.3 472.5h8.33M584.5 468.3v8.33M576.3 473.5h8.33M580.5 469.3v8.33M579.3 473.5h8.33M583.5 469.3v8.33M576.3 473.5h8.33M580.5 469.3v8.33M578.3 473.5h8.33M582.5 469.3v8.33M594.3 472.5h8.33M598.5 468.3v8.33M588.3 469.5h8.33M592.5 465.3v8.33M587.3 473.5h8.33M591.5 469.3v8.33M587.3 472.5h8.33M591.5 468.3v8.33M591.3 472.5h8.33M595.5 468.3v8.33M587.3 469.5h8.33M591.5 465.3v8.33M465.3 461.5h8.33M469.5 457.3v8.33M548.3 459.5h8.33M552.5 455.3v8.33M536.3 460.5h8.33M540.5 456.3v8.33M453.3 460.5h8.33M457.5 456.3v8.33M578.3 462.5h8.33M582.5 458.3v8.33M505.3 462.5h8.33M509.5 458.3v8.33M559.3 461.5h8.33M563.5 457.3v8.33M488.3 462.5h8.33M492.5 458.3v8.33M505.3 459.5h8.33M509.5 455.3v8.33M488.3 459.5h8.33M492.5 455.3v8.33M570.3 459.5h8.33M574.5 455.3v8.33M565.3 461.5h8.33M569.5 457.3v8.33M484.3 460.5h8.33M488.5 456.3v8.33M508.3 460.5h8.33M512.5 456.3v8.33M505.3 458.5h8.33M509.5 454.3v8.33M581.3 458.5h8.33M585.5 454.3v8.33M458.3 458.5h8.33M462.5 454.3v8.33M486.3 457.5h8.33M490.5 453.3v8.33M455.3 459.5h8.33M459.5 455.3v8.33M519.3 460.5h8.33M523.5 456.3v8.33M557.3 460.5h8.33M561.5 456.3v8.33M522.3 460.5h8.33M526.5 456.3v8.33M477.3 460.5h8.33M481.5 456.3v8.33M468.3 461.5h8.33M472.5 457.3v8.33M461.3 458.5h8.33M465.5 454.3v8.33M591.3 461.5h8.33M595.5 457.3v8.33M534.3 460.5h8.33M538.5 456.3v8.33M562.3 460.5h8.33M566.5 456.3v8.33M535.3 462.5h8.33M539.5 458.3v8.33M579.3 457.5h8.33M583.5 453.3v8.33M467.3 461.5h8.33M471.5 457.3v8.33M486.3 459.5h8.33M490.5 455.3v8.33M476.3 460.5h8.33M480.5 456.3v8.33M463.3 459.5h8.33M467.5 455.3v8.33M490.3 461.5h8.33M494.5 457.3v8.33M560.3 459.5h8.33M564.5 455.3v8.33M462.3 458.5h8.33M466.5 454.3v8.33M481.3 460.5h8.33M485.5 456.3v8.33M550.3 459.5h8.33M554.5 455.3v8.33M598.3 460.5h8.33M602.5 456.3v8.33M523.3 460.5h8.33M527.5 456.3v8.33M548.3 460.5h8.33M552.5 456.3v8.33M528.3 461.5h8.33M532.5 457.3v8.33M562.3 460.5h8.33M566.5 456.3v8.33M531.3 460.5h8.33M535.5 456.3v8.33M541.3 461.5h8.33M545.5 457.3v8.33M548.3 461.5h8.33M552.5 457.3v8.33M592.3 462.5h8.33M596.5 458.3v8.33M562.3 460.5h8.33M566.5 456.3v8.33M586.3 458.5h8.33M590.5 454.3v8.33M478.3 460.5h8.33M482.5 456.3v8.33M586.3 462.5h8.33M590.5 458.3v8.33M463.3 460.5h8.33M467.5 456.3v8.33M516.3 460.5h8.33M520.5 456.3v8.33M472.3 460.5h8.33M476.5 456.3v8.33M538.3 462.5h8.33M542.5 458.3v8.33M591.3 458.5h8.33M595.5 454.3v8.33M452.3 461.5h8.33M456.5 457.3v8.33M593.3 460.5h8.33M597.5 456.3v8.33M527.3 461.5h8.33M531.5 457.3v8.33M593.3 455.5h8.33M597.5 451.3v8.33M544.3 460.5h8.33M548.5 456.3v8.33M483.3 460.5h8.33M487.5 456.3v8.33M600.3 459.5h8.33M604.5 455.3v8.33M519.3 460.5h8.33M523.5 456.3v8.33M499.3 463.5h8.33M503.5 459.3v8.33M512.3 458.5h8.33M516.5 454.3v8.33M454.3 461.5h8.33M458.5 457.3v8.33M507.3 461.5h8.33M511.5 457.3v8.33M451.3 462.5h8.33M455.5 458.3v8.33M542.3 459.5h8.33M546.5 455.3v8.33M535.3 461.5h8.33M539.5 457.3v8.33M557.3 460.5h8.33M561.5 456.3v8.33M469.3 460.5h8.33M473.5 456.3v8.33M595.3 460.5h8.33M599.5 456.3v8.33M529.3 460.5h8.33M533.5 456.3v8.33M538.3 460.5h8.33M542.5 456.3v8.33M486.3 459.5h8.33M490.5 455.3v8.33M476.3 458.5h8.33M480.5 454.3v8.33M512.3 459.5h8.33M516.5 455.3v8.33M584.3 458.5h8.33M588.5 454.3v8.33M594.3 457.5h8.33M598.5 453.3v8.33M491.3 461.5h8.33M495.5 457.3v8.33M458.3 459.5h8.33M462.5 455.3v8.33M588.3 460.5h8.33M592.5 456.3v8.33M494.3 460.5h8.33M498.5 456.3v8.33M494.3 462.5h8.33M498.5 458.3v8.33M514.3 459.5h8.33M518.5 455.3v8.33M530.3 461.5h8.33M534.5 457.3v8.33M549.3 457.5h8.33M553.5 453.3v8.33M527.3 460.5h8.33M531.5 456.3v8.33M549.3 460.5h8.33M553.5 456.3v8.33M538.3 461.5h8.33M542.5 457.3v8.33M595.3 456.5h8.33M599.5 452.3v8.33M479.3 462.5h8.33M483.5 458.3v8.33M536.3 461.5h8.33M540.5 457.3v8.33M478.3 459.5h8.33M482.5 455.3v8.33M486.3 458.5h8.33M490.5 454.3v8.33M505.3 457.5h8.33M509.5 453.3v8.33M462.3 459.5h8.33M466.5 455.3v8.33M562.3 458.5h8.33M566.5 454.3v8.33M551.3 458.5h8.33M555.5 454.3v8.33M570.3 461.5h8.33M574.5 457.3v8.33M552.3 460.5h8.33M556.5 456.3v8.33M557.3 459.5h8.33M561.5 455.3v8.33M594.3 459.5h8.33M598.5 455.3v8.33M568.3 460.5h8.33M572.5 456.3v8.33M594.3 461.5h8.33M598.5 457.3v8.33M482.3 456.5h8.33M486.5 452.3v8.33M586.3 462.5h8.33M590.5 458.3v8.33M485.3 459.5h8.33M489.5 455.3v8.33M550.3 458.5h8.33M554.5 454.3v8.33M566.3 460.5h8.33M570.5 456.3v8.33M483.3 460.5h8.33M487.5 456.3v8.33M490.3 460.5h8.33M494.5 456.3v8.33M511.3 460.5h8.33M515.5 456.3v8.33M514.3 461.5h8.33M518.5 457.3v8.33M592.3 460.5h8.33M596.5 456.3v8.33M537.3 458.5h8.33M541.5 454.3v8.33M516.3 461.5h8.33M520.5 457.3v8.33M477.3 459.5h8.33M481.5 455.3v8.33M552.3 460.5h8.33M556.5 456.3v8.33M475.3 457.5h8.33M479.5 453.3v8.33M566.3 462.5h8.33M570.5 458.3v8.33M576.3 458.5h8.33M580.5 454.3v8.33M556.3 458.5h8.33M560.5 454.3v8.33M595.3 460.5h8.33M599.5 456.3v8.33M496.3 462.5h8.33M500.5 458.3v8.33M489.3 460.5h8.33M493.5 456.3v8.33M578.3 458.5h8.33M582.5 454.3v8.33M582.3 459.5h8.33M586.5 455.3v8.33M453.3 459.5h8.33M457.5 455.3v8.33M531.3 459.5h8.33M535.5 455.3v8.33M461.3 458.5h8.33M465.5 454.3v8.33M451.3 461.5h8.33M455.5 457.3v8.33M451.3 462.5h8.33M455.5 458.3v8.33M485.3 459.5h8.33M489.5 455.3v8.33M599.3 462.5h8.33M603.5 458.3v8.33M453.3 462.5h8.33M457.5 458.3v8.33M596.3 462.5h8.33M600.5 458.3v8.33M473.3 459.5h8.33M477.5 455.3v8.33M499.3 461.5h8.33M503.5 457.3v8.33M513.3 458.5h8.33M517.5 454.3v8.33M459.3 460.5h8.33M463.5 456.3v8.33M463.3 460.5h8.33M467.5 456.3v8.33M544.3 460.5h8.33M548.5 456.3v8.33M555.3 459.5h8.33M559.5 455.3v8.33M560.3 462.5h8.33M564.5 458.3v8.33M502.3 459.5h8.33M506.5 455.3v8.33M590.3 460.5h8.33M594.5 456.3v8.33M535.3 460.5h8.33M539.5 456.3v8.33M554.3 460.5h8.33M558.5 456.3v8.33M508.3 459.5h8.33M512.5 455.3v8.33M570.3 458.5h8.33M574.5 454.3v8.33M571.3 461.5h8.33M575.5 457.3v8.33M479.3 461.5h8.33M483.5 457.3v8.33M557.3 460.5h8.33M561.5 456.3v8.33M485.3 457.5h8.33M489.5 453.3v8.33M464.3 458.5h8.33M468.5 454.3v8.33M471.3 458.5h8.33M475.5 454.3v8.33M479.3 459.5h8.33M483.5 455.3v8.33M546.3 459.5h8.33M550.5 455.3v8.33M487.3 459.5h8.33M491.5 455.3v8.33M530.3 461.5h8.33M534.5 457.3v8.33M559.3 462.5h8.33M563.5 458.3v8.33M484.3 460.5h8.33M488.5 456.3v8.33M494.3 458.5h8.33M498.5 454.3v8.33M543.3 458.5h8.33M547.5 454.3v8.33M586.3 460.5h8.33M590.5 456.3v8.33M550.3 461.5h8.33M554.5 457.3v8.33M490.3 460.5h8.33M494.5 456.3v8.33M566.3 460.5h8.33M570.5 456.3v8.33M575.3 459.5h8.33M579.5 455.3v8.33M570.3 456.5h8.33M574.5 452.3v8.33M497.3 459.5h8.33M501.5 455.3v8.33M459.3 462.5h8.33M463.5 458.3v8.33M542.3 460.5h8.33M546.5 456.3v8.33M528.3 460.5h8.33M532.5 456.3v8.33M473.3 462.5h8.33M477.5 458.3v8.33M520.3 458.5h8.33M524.5 454.3v8.33M480.3 461.5h8.33M484.5 457.3v8.33M529.3 461.5h8.33M533.5 457.3v8.33M505.3 459.5h8.33M509.5 455.3v8.33M567.3 458.5h8.33M571.5 454.3v8.33M466.3 461.5h8.33M470.5 457.3v8.33M523.3 460.5h8.33M527.5 456.3v8.33M488.3 459.5h8.33M492.5 455.3v8.33M498.3 459.5h8.33M502.5 455.3v8.33M522.3 459.5h8.33M526.5 455.3v8.33M506.3 457.5h8.33M510.5 453.3v8.33M518.3 463.5h8.33M522.5 459.3v8.33M543.3 458.5h8.33M547.5 454.3v8.33M466.3 457.5h8.33M470.5 453.3v8.33M492.3 460.5h8.33M496.5 456.3v8.33M456.3 463.5h8.33M460.5 459.3v8.33M470.3 459.5h8.33M474.5 455.3v8.33M520.3 459.5h8.33M524.5 455.3v8.33M461.3 459.5h8.33M465.5 455.3v8.33M563.3 460.5h8.33M567.5 456.3v8.33M463.3 458.5h8.33M467.5 454.3v8.33M510.3 463.5h8.33M514.5 459.3v8.33M458.3 462.5h8.33M462.5 458.3v8.33M494.3 460.5h8.33M498.5 456.3v8.33M466.3 459.5h8.33M470.5 455.3v8.33M461.3 460.5h8.33M465.5 456.3v8.33M575.3 461.5h8.33M579.5 457.3v8.33M476.3 461.5h8.33M480.5 457.3v8.33M514.3 462.5h8.33M518.5 458.3v8.33M501.3 460.5h8.33M505.5 456.3v8.33M596.3 460.5h8.33M600.5 456.3v8.33M468.3 459.5h8.33M472.5 455.3v8.33M584.3 462.5h8.33M588.5 458.3v8.33M586.3 456.5h8.33M590.5 452.3v8.33M541.3 460.5h8.33M545.5 456.3v8.33M494.3 457.5h8.33M498.5 453.3v8.33M561.3 460.5h8.33M565.5 456.3v8.33M470.3 461.5h8.33M474.5 457.3v8.33M467.3 463.5h8.33M471.5 459.3v8.33M573.3 459.5h8.33M577.5 455.3v8.33M489.3 460.5h8.33M493.5 456.3v8.33M521.3 460.5h8.33M525.5 456.3v8.33M579.3 459.5h8.33M583.5 455.3v8.33M499.3 461.5h8.33M503.5 457.3v8.33M502.3 462.5h8.33M506.5 458.3v8.33M479.3 457.5h8.33M483.5 453.3v8.33M580.3 461.5h8.33M584.5 457.3v8.33M537.3 462.5h8.33M541.5 458.3v8.33M541.3 460.5h8.33M545.5 456.3v8.33M585.3 461.5h8.33M589.5 457.3v8.33M578.3 459.5h8.33M582.5 455.3v8.33M573.3 459.5h8.33M577.5 455.3v8.33M507.3 461.5h8.33M511.5 457.3v8.33M503.3 459.5h8.33M507.5 455.3v8.33M485.3 460.5h8.33M489.5 456.3v8.33M587.3 458.5h8.33M591.5 454.3v8.33M584.3 461.5h8.33M588.5 457.3v8.33M564.3 460.5h8.33M568.5 456.3v8.33M571.3 463.5h8.33M575.5 459.3v8.33M599.3 459.5h8.33M603.5 455.3v8.33M572.3 457.5h8.33M576.5 453.3v8.33M488.3 459.5h8.33M492.5 455.3v8.33M576.3 458.5h8.33M580.5 454.3v8.33M471.3 458.5h8.33M475.5 454.3v8.33M574.3 459.5h8.33M578.5 455.3v8.33M502.3 461.5h8.33M506.5 457.3v8.33M582.3 457.5h8.33M586.5 453.3v8.33M471.3 462.5h8.33M475.5 458.3v8.33M552.3 459.5h8.33M556.5 455.3v8.33M548.3 462.5h8.33M552.5 458.3v8.33M533.3 460.5h8.33M537.5 456.3v8.33M519.3 458.5h8.33M523.5 454.3v8.33M568.3 462.5h8.33M572.5 458.3v8.33M581.3 460.5h8.33M585.5 456.3v8.33M488.3 461.5h8.33M492.5 457.3v8.33M466.3 459.5h8.33M470.5 455.3v8.33M570.3 460.5h8.33M574.5 456.3v8.33M485.3 460.5h8.33M489.5 456.3v8.33M562.3 460.5h8.33M566.5 456.3v8.33M480.3 458.5h8.33M484.5 454.3v8.33M571.3 460.5h8.33M575.5 456.3v8.33M594.3 459.5h8.33M598.5 455.3v8.33M585.3 461.5h8.33M589.5 457.3v8.33M521.3 461.5h8.33M525.5 457.3v8.33M497.3 458.5h8.33M501.5 454.3v8.33M582.3 459.5h8.33M586.5 455.3v8.33M539.3 459.5h8.33M543.5 455.3v8.33M575.3 458.5h8.33M579.5 454.3v8.33M513.3 459.5h8.33M517.5 455.3v8.33M583.3 459.5h8.33M587.5 455.3v8.33M505.3 459.5h8.33M509.5 455.3v8.33M505.3 462.5h8.33M509.5 458.3v8.33M469.3 459.5h8.33M473.5 455.3v8.33M588.3 461.5h8.33M592.5 457.3v8.33M515.3 460.5h8.33M519.5 456.3v8.33M558.3 459.5h8.33M562.5 455.3v8.33M529.3 460.5h8.33M533.5 456.3v8.33M574.3 460.5h8.33M578.5 456.3v8.33M484.3 458.5h8.33M488.5 454.3v8.33M562.3 460.5h8.33M566.5 456.3v8.33M583.3 459.5h8.33M587.5 455.3v8.33M599.3 458.5h8.33M603.5 454.3v8.33M557.3 460.5h8.33M561.5 456.3v8.33M590.3 460.5h8.33M594.5 456.3v8.33M500.3 461.5h8.33M504.5 457.3v8.33M560.3 460.5h8.33M564.5 456.3v8.33M526.3 461.5h8.33M530.5 457.3v8.33M551.3 462.5h8.33M555.5 458.3v8.33M600.3 462.5h8.33M604.5 458.3v8.33M535.3 460.5h8.33M539.5 456.3v8.33M587.3 459.5h8.33M591.5 455.3v8.33M533.3 460.5h8.33M537.5 456.3v8.33M505.3 456.5h8.33M509.5 452.3v8.33M589.3 460.5h8.33M593.5 456.3v8.33M526.3 460.5h8.33M530.5 456.3v8.33M585.3 463.5h8.33M589.5 459.3v8.33M527.3 457.5h8.33M531.5 453.3v8.33M590.3 459.5h8.33M594.5 455.3v8.33M545.3 459.5h8.33M549.5 455.3v8.33M571.3 458.5h8.33M575.5 454.3v8.33M489.3 460.5h8.33M493.5 456.3v8.33M492.3 458.5h8.33M496.5 454.3v8.33M521.3 460.5h8.33M525.5 456.3v8.33M464.3 461.5h8.33M468.5 457.3v8.33M558.3 460.5h8.33M562.5 456.3v8.33M563.3 460.5h8.33M567.5 456.3v8.33M528.3 461.5h8.33M532.5 457.3v8.33M477.3 457.5h8.33M481.5 453.3v8.33M481.3 458.5h8.33M485.5 454.3v8.33M538.3 459.5h8.33M542.5 455.3v8.33M557.3 457.5h8.33M561.5 453.3v8.33M557.3 459.5h8.33M561.5 455.3v8.33M589.3 462.5h8.33M593.5 458.3v8.33M458.3 461.5h8.33M462.5 457.3v8.33M463.3 459.5h8.33M467.5 455.3v8.33M461.3 460.5h8.33M465.5 456.3v8.33M472.3 457.5h8.33M476.5 453.3v8.33M519.3 456.5h8.33M523.5 452.3v8.33M501.3 456.5h8.33M505.5 452.3v8.33M565.3 460.5h8.33M569.5 456.3v8.33M475.3 460.5h8.33M479.5 456.3v8.33M512.3 459.5h8.33M516.5 455.3v8.33M475.3 459.5h8.33M479.5 455.3v8.33M483.3 460.5h8.33M487.5 456.3v8.33M498.3 460.5h8.33M502.5 456.3v8.33M526.3 460.5h8.33M530.5 456.3v8.33M516.3 461.5h8.33M520.5 457.3v8.33M596.3 456.5h8.33M600.5 452.3v8.33M521.3 460.5h8.33M525.5 456.3v8.33M480.3 459.5h8.33M484.5 455.3v8.33M476.3 459.5h8.33M480.5 455.3v8.33M461.3 458.5h8.33M465.5 454.3v8.33M511.3 456.5h8.33M515.5 452.3v8.33M504.3 458.5h8.33M508.5 454.3v8.33M554.3 460.5h8.33M558.5 456.3v8.33M509.3 461.5h8.33M513.5 457.3v8.33M536.3 462.5h8.33M540.5 458.3v8.33M451.3 461.5h8.33M455.5 457.3v8.33M504.3 458.5h8.33M508.5 454.3v8.33M545.3 461.5h8.33M549.5 457.3v8.33M515.3 459.5h8.33M519.5 455.3v8.33M495.3 457.5h8.33M499.5 453.3v8.33M561.3 459.5h8.33M565.5 455.3v8.33M593.3 460.5h8.33M597.5 456.3v8.33M578.3 461.5h8.33M582.5 457.3v8.33M569.3 458.5h8.33M573.5 454.3v8.33M502.3 458.5h8.33M506.5 454.3v8.33M592.3 458.5h8.33M596.5 454.3v8.33M478.3 459.5h8.33M482.5 455.3v8.33M468.3 462.5h8.33M472.5 458.3v8.33M455.3 458.5h8.33M459.5 454.3v8.33M499.3 458.5h8.33M503.5 454.3v8.33M505.3 460.5h8.33M509.5 456.3v8.33M585.3 458.5h8.33M589.5 454.3v8.33M590.3 461.5h8.33M594.5 457.3v8.33M546.3 458.5h8.33M550.5 454.3v8.33M509.3 460.5h8.33M513.5 456.3v8.33M542.3 460.5h8.33M546.5 456.3v8.33M506.3 458.5h8.33M510.5 454.3v8.33M509.3 457.5h8.33M513.5 453.3v8.33M531.3 462.5h8.33M535.5 458.3v8.33M492.3 458.5h8.33M496.5 454.3v8.33M475.3 462.5h8.33M479.5 458.3v8.33M554.3 460.5h8.33M558.5 456.3v8.33M459.3 460.5h8.33M463.5 456.3v8.33M571.3 460.5h8.33M575.5 456.3v8.33M459.3 460.5h8.33M463.5 456.3v8.33M490.3 459.5h8.33M494.5 455.3v8.33M587.3 457.5h8.33M591.5 453.3v8.33M593.3 456.5h8.33M597.5 452.3v8.33M464.3 458.5h8.33M468.5 454.3v8.33M589.3 459.5h8.33M593.5 455.3v8.33M563.3 460.5h8.33M567.5 456.3v8.33M579.3 459.5h8.33M583.5 455.3v8.33M581.3 460.5h8.33M585.5 456.3v8.33M564.3 456.5h8.33M568.5 452.3v8.33M456.3 457.5h8.33M460.5 453.3v8.33M459.3 460.5h8.33M463.5 456.3v8.33M557.3 460.5h8.33M561.5 456.3v8.33M545.3 460.5h8.33M549.5 456.3v8.33M478.3 460.5h8.33M482.5 456.3v8.33M542.3 458.5h8.33M546.5 454.3v8.33M505.3 456.5h8.33M509.5 452.3v8.33M597.3 458.5h8.33M601.5 454.3v8.33M488.3 460.5h8.33M492.5 456.3v8.33M485.3 464.5h8.33M489.5 460.3v8.33M556.3 459.5h8.33M560.5 455.3v8.33M477.3 460.5h8.33M481.5 456.3v8.33M503.3 460.5h8.33M507.5 456.3v8.33M561.3 461.5h8.33M565.5 457.3v8.33M553.3 460.5h8.33M557.5 456.3v8.33M456.3 457.5h8.33M460.5 453.3v8.33M537.3 460.5h8.33M541.5 456.3v8.33M518.3 461.5h8.33M522.5 457.3v8.33M501.3 458.5h8.33M505.5 454.3v8.33M510.3 462.5h8.33M514.5 458.3v8.33M588.3 458.5h8.33M592.5 454.3v8.33M535.3 460.5h8.33M539.5 456.3v8.33M508.3 460.5h8.33M512.5 456.3v8.33M554.3 462.5h8.33M558.5 458.3v8.33M568.3 460.5h8.33M572.5 456.3v8.33M528.3 462.5h8.33M532.5 458.3v8.33M513.3 460.5h8.33M517.5 456.3v8.33M551.3 457.5h8.33M555.5 453.3v8.33M512.3 458.5h8.33M516.5 454.3v8.33M594.3 463.5h8.33M598.5 459.3v8.33M543.3 459.5h8.33M547.5 455.3v8.33M498.3 459.5h8.33M502.5 455.3v8.33M586.3 460.5h8.33M590.5 456.3v8.33M569.3 460.5h8.33M573.5 456.3v8.33M599.3 457.5h8.33M603.5 453.3v8.33M554.3 458.5h8.33M558.5 454.3v8.33M490.3 462.5h8.33M494.5 458.3v8.33M542.3 461.5h8.33M546.5 457.3v8.33M524.3 462.5h8.33M528.5 458.3v8.33M492.3 460.5h8.33M496.5 456.3v8.33M590.3 459.5h8.33M594.5 455.3v8.33M564.3 461.5h8.33M568.5 457.3v8.33M536.3 462.5h8.33M540.5 458.3v8.33M587.3 458.5h8.33M591.5 454.3v8.33M591.3 459.5h8.33M595.5 455.3v8.33M464.3 460.5h8.33M468.5 456.3v8.33M492.3 459.5h8.33M496.5 455.3v8.33M468.3 461.5h8.33M472.5 457.3v8.33M559.3 458.5h8.33M563.5 454.3v8.33M489.3 459.5h8.33M493.5 455.3v8.33M465.3 457.5h8.33M469.5 453.3v8.33M525.3 459.5h8.33M529.5 455.3v8.33M549.3 458.5h8.33M553.5 454.3v8.33M492.3 457.5h8.33M496.5 453.3v8.33M592.3 462.5h8.33M596.5 458.3v8.33M600.3 458.5h8.33M604.5 454.3v8.33M572.3 460.5h8.33M576.5 456.3v8.33M564.3 457.5h8.33M568.5 453.3v8.33M511.3 460.5h8.33M515.5 456.3v8.33M593.3 459.5h8.33M597.5 455.3v8.33M563.3 460.5h8.33M567.5 456.3v8.33M472.3 459.5h8.33M476.5 455.3v8.33M599.3 459.5h8.33M603.5 455.3v8.33M532.3 459.5h8.33M536.5 455.3v8.33M546.3 459.5h8.33M550.5 455.3v8.33M507.3 460.5h8.33M511.5 456.3v8.33M455.3 462.5h8.33M459.5 458.3v8.33M522.3 462.5h8.33M526.5 458.3v8.33M584.3 461.5h8.33M588.5 457.3v8.33M456.3 458.5h8.33M460.5 454.3v8.33M558.3 460.5h8.33M562.5 456.3v8.33M560.3 458.5h8.33M564.5 454.3v8.33M478.3 462.5h8.33M482.5 458.3v8.33M471.3 460.5h8.33M475.5 456.3v8.33M478.3 459.5h8.33M482.5 455.3v8.33M526.3 459.5h8.33M530.5 455.3v8.33M590.3 460.5h8.33M594.5 456.3v8.33M522.3 460.5h8.33M526.5 456.3v8.33M587.3 458.5h8.33M591.5 454.3v8.33M484.3 461.5h8.33M488.5 457.3v8.33M596.3 458.5h8.33M600.5 454.3v8.33M566.3 458.5h8.33M570.5 454.3v8.33M579.3 458.5h8.33M583.5 454.3v8.33M517.3 462.5h8.33M521.5 458.3v8.33M571.3 461.5h8.33M575.5 457.3v8.33M553.3 459.5h8.33M557.5 455.3v8.33M520.3 458.5h8.33M524.5 454.3v8.33M574.3 463.5h8.33M578.5 459.3v8.33M475.3 459.5h8.33M479.5 455.3v8.33M553.3 458.5h8.33M557.5 454.3v8.33M476.3 459.5h8.33M480.5 455.3v8.33M471.3 458.5h8.33M475.5 454.3v8.33M491.3 460.5h8.33M495.5 456.3v8.33M506.3 457.5h8.33M510.5 453.3v8.33M539.3 459.5h8.33M543.5 455.3v8.33M475.3 461.5h8.33M479.5 457.3v8.33M594.3 459.5h8.33M598.5 455.3v8.33M598.3 461.5h8.33M602.5 457.3v8.33M596.3 461.5h8.33M600.5 457.3v8.33M508.3 458.5h8.33M512.5 454.3v8.33M455.3 459.5h8.33M459.5 455.3v8.33M481.3 460.5h8.33M485.5 456.3v8.33M545.3 460.5h8.33M549.5 456.3v8.33M535.3 462.5h8.33M539.5 458.3v8.33M505.3 459.5h8.33M509.5 455.3v8.33M306.3 363.5h8.33M310.5 359.3v8.33M315.3 356.5h8.33M319.5 352.3v8.33M316.3 358.5h8.33M320.5 354.3v8.33M314.3 358.5h8.33M318.5 354.3v8.33M322.3 362.5h8.33M326.5 358.3v8.33M323.3 364.5h8.33M327.5 360.3v8.33M320.3 368.5h8.33M324.5 364.3v8.33M322.3 368.5h8.33M326.5 364.3v8.33M324.3 369.5h8.33M328.5 365.3v8.33M321.3 371.5h8.33M325.5 367.3v8.33M322.3 373.5h8.33M326.5 369.3v8.33M325.3 374.5h8.33M329.5 370.3v8.33M324.3 376.5h8.33M328.5 372.3v8.33M326.3 376.5h8.33M330.5 372.3v8.33M316.3 380.5h8.33M320.5 376.3v8.33M322.3 380.5h8.33M326.5 376.3v8.33M324.3 379.5h8.33M328.5 375.3v8.33M337.3 368.5h8.33M341.5 364.3v8.33M339.3 376.5h8.33M343.5 372.3v8.33M346.3 379.5h8.33M350.5 375.3v8.33M319.3 388.5h8.33M323.5 384.3v8.33M322.3 388.5h8.33M326.5 384.3v8.33M324.3 387.5h8.33M328.5 383.3v8.33M326.3 389.5h8.33M330.5 385.3v8.33M328.3 388.5h8.33M332.5 384.3v8.33M324.3 390.5h8.33M328.5 386.3v8.33M321.3 390.5h8.33M325.5 386.3v8.33M327.3 397.5h8.33M331.5 393.3v8.33M328.3 399.5h8.33M332.5 395.3v8.33M325.3 399.5h8.33M329.5 395.3v8.33M336.3 395.5h8.33M340.5 391.3v8.33M323.3 405.5h8.33M327.5 401.3v8.33M326.3 407.5h8.33M330.5 403.3v8.33M327.3 409.5h8.33M331.5 405.3v8.33M340.3 387.5h8.33M344.5 383.3v8.33M344.3 385.5h8.33M348.5 381.3v8.33M346.3 387.5h8.33M350.5 383.3v8.33M348.3 385.5h8.33M352.5 381.3v8.33M349.3 389.5h8.33M353.5 385.3v8.33M346.3 391.5h8.33M350.5 387.3v8.33M349.3 394.5h8.33M353.5 390.3v8.33M352.3 395.5h8.33M356.5 391.3v8.33M355.3 396.5h8.33M359.5 392.3v8.33M358.3 387.5h8.33M362.5 383.3v8.33M361.3 394.5h8.33M365.5 390.3v8.33M360.3 359.5h8.33M364.5 355.3v8.33M365.3 357.5h8.33M369.5 353.3v8.33M368.3 365.5h8.33M372.5 361.3v8.33M366.3 369.5h8.33M370.5 365.3v8.33M362.3 371.5h8.33M366.5 367.3v8.33M368.3 373.5h8.33M372.5 369.3v8.33M372.3 367.5h8.33M376.5 363.3v8.33M373.3 370.5h8.33M377.5 366.3v8.33M374.3 359.5h8.33M378.5 355.3v8.33M371.3 357.5h8.33M375.5 353.3v8.33M362.3 381.5h8.33M366.5 377.3v8.33M366.3 382.5h8.33M370.5 378.3v8.33M370.3 384.5h8.33M374.5 380.3v8.33M366.3 392.5h8.33M370.5 388.3v8.33M370.3 392.5h8.33M374.5 388.3v8.33M373.3 389.5h8.33M377.5 385.3v8.33M375.3 393.5h8.33M379.5 389.3v8.33M368.3 402.5h8.33M372.5 398.3v8.33M366.3 405.5h8.33M370.5 401.3v8.33M372.3 405.5h8.33M376.5 401.3v8.33M336.3 407.5h8.33M340.5 403.3v8.33M340.3 406.5h8.33M344.5 402.3v8.33M344.3 409.5h8.33M348.5 405.3v8.33M346.3 403.5h8.33M350.5 399.3v8.33M343.3 407.5h8.33M347.5 403.3v8.33M320.3 412.5h8.33M324.5 408.3v8.33M323.3 413.5h8.33M327.5 409.3v8.33M326.3 412.5h8.33M330.5 408.3v8.33M329.3 414.5h8.33M333.5 410.3v8.33M332.3 413.5h8.33M336.5 409.3v8.33M338.3 411.5h8.33M342.5 407.3v8.33M341.3 411.5h8.33M345.5 407.3v8.33M325.3 417.5h8.33M329.5 413.3v8.33M327.3 416.5h8.33M331.5 412.3v8.33M328.3 419.5h8.33M332.5 415.3v8.33M324.3 422.5h8.33M328.5 418.3v8.33M326.3 421.5h8.33M330.5 417.3v8.33M329.3 422.5h8.33M333.5 418.3v8.33M336.3 422.5h8.33M340.5 418.3v8.33M314.3 425.5h8.33M318.5 421.3v8.33M325.3 427.5h8.33M329.5 423.3v8.33M327.3 426.5h8.33M331.5 422.3v8.33M329.3 428.5h8.33M333.5 424.3v8.33M331.3 428.5h8.33M335.5 424.3v8.33M326.3 431.5h8.33M330.5 427.3v8.33M328.3 431.5h8.33M332.5 427.3v8.33M330.3 431.5h8.33M334.5 427.3v8.33M325.3 434.5h8.33M329.5 430.3v8.33M327.3 434.5h8.33M331.5 430.3v8.33M329.3 434.5h8.33M333.5 430.3v8.33M326.3 436.5h8.33M330.5 432.3v8.33M328.3 437.5h8.33M332.5 433.3v8.33M330.3 438.5h8.33M334.5 434.3v8.33M327.3 439.5h8.33M331.5 435.3v8.33M329.3 440.5h8.33M333.5 436.3v8.33M328.3 443.5h8.33M332.5 439.3v8.33M329.3 446.5h8.33M333.5 442.3v8.33M331.3 445.5h8.33M335.5 441.3v8.33M327.3 448.5h8.33M331.5 444.3v8.33M330.3 448.5h8.33M334.5 444.3v8.33M333.3 448.5h8.33M337.5 444.3v8.33M329.3 450.5h8.33M333.5 446.3v8.33M351.3 417.5h8.33M355.5 413.3v8.33M365.3 437.5h8.33M369.5 433.3v8.33M403.3 255.5h8.33M407.5 251.3v8.33M402.3 261.5h8.33M406.5 257.3v8.33M419.3 257.5h8.33M423.5 253.3v8.33M425.3 255.5h8.33M429.5 251.3v8.33M443.3 254.5h8.33M447.5 250.3v8.33M413.3 271.5h8.33M417.5 267.3v8.33M441.3 272.5h8.33M445.5 268.3v8.33M442.3 276.5h8.33M446.5 272.3v8.33M447.3 271.5h8.33M451.5 267.3v8.33M441.3 283.5h8.33M445.5 279.3v8.33M442.3 285.5h8.33M446.5 281.3v8.33M395.3 298.5h8.33M399.5 294.3v8.33M428.3 297.5h8.33M432.5 293.3v8.33M418.3 305.5h8.33M422.5 301.3v8.33M419.3 307.5h8.33M423.5 303.3v8.33M418.3 310.5h8.33M422.5 306.3v8.33M414.3 312.5h8.33M418.5 308.3v8.33M423.3 315.5h8.33M427.5 311.3v8.33M399.3 318.5h8.33M403.5 314.3v8.33M404.3 320.5h8.33M408.5 316.3v8.33M440.3 312.5h8.33M444.5 308.3v8.33M441.3 313.5h8.33M445.5 309.3v8.33M444.3 322.5h8.33M448.5 318.3v8.33M442.3 325.5h8.33M446.5 321.3v8.33M398.3 332.5h8.33M402.5 328.3v8.33M403.3 339.5h8.33M407.5 335.3v8.33M418.3 331.5h8.33M422.5 327.3v8.33M423.3 329.5h8.33M427.5 325.3v8.33M427.3 335.5h8.33M431.5 331.3v8.33M425.3 343.5h8.33M429.5 339.3v8.33M419.3 348.5h8.33M423.5 344.3v8.33M435.3 342.5h8.33M439.5 338.3v8.33M351.3 327.5h8.33M355.5 323.3v8.33M350.3 331.5h8.33M354.5 327.3v8.33M397.3 356.5h8.33M401.5 352.3v8.33M378.3 358.5h8.33M382.5 354.3v8.33M379.3 360.5h8.33M383.5 356.3v8.33M386.3 376.5h8.33M390.5 372.3v8.33M377.3 382.5h8.33M381.5 378.3v8.33M391.3 398.5h8.33M395.5 394.3v8.33M393.3 400.5h8.33M397.5 396.3v8.33M403.3 388.5h8.33M407.5 384.3v8.33M411.3 386.5h8.33M415.5 382.3v8.33M416.3 385.5h8.33M420.5 381.3v8.33M417.3 375.5h8.33M421.5 371.3v8.33M414.3 387.5h8.33M418.5 383.3v8.33M419.3 387.5h8.33M423.5 383.3v8.33M402.3 406.5h8.33M406.5 402.3v8.33M411.3 407.5h8.33M415.5 403.3v8.33M414.3 401.5h8.33M418.5 397.3v8.33M423.3 408.5h8.33M427.5 404.3v8.33M427.3 413.5h8.33M431.5 409.3v8.33M422.3 418.5h8.33M426.5 414.3v8.33M403.3 418.5h8.33M407.5 414.3v8.33M414.3 430.5h8.33M418.5 426.3v8.33M434.3 387.5h8.33M438.5 383.3v8.33M446.3 395.5h8.33M450.5 391.3v8.33M447.3 402.5h8.33M451.5 398.3v8.33M442.3 420.5h8.33M446.5 416.3v8.33M447.3 420.5h8.33M451.5 416.3v8.33M392.3 442.5h8.33M396.5 438.3v8.33M356.3 453.5h8.33M360.5 449.3v8.33M383.3 452.5h8.33M387.5 448.3v8.33M423.3 451.5h8.33M427.5 447.3v8.33M418.3 467.5h8.33M422.5 463.3v8.33M413.3 272.5h8.33M417.5 268.3v8.33M413.3 272.5h8.33M417.5 268.3v8.33M412.3 271.5h8.33M416.5 267.3v8.33M441.3 459.5h8.33M445.5 455.3v8.33M430.3 459.5h8.33M434.5 455.3v8.33M407.3 459.5h8.33M411.5 455.3v8.33M363.3 461.5h8.33M367.5 457.3v8.33M443.3 460.5h8.33M447.5 456.3v8.33M334.3 462.5h8.33M338.5 458.3v8.33M328.3 459.5h8.33M332.5 455.3v8.33M388.3 459.5h8.33M392.5 455.3v8.33M341.3 460.5h8.33M345.5 456.3v8.33M409.3 458.5h8.33M413.5 454.3v8.33M438.3 461.5h8.33M442.5 457.3v8.33M412.3 460.5h8.33M416.5 456.3v8.33M327.3 461.5h8.33M331.5 457.3v8.33M443.3 460.5h8.33M447.5 456.3v8.33M364.3 460.5h8.33M368.5 456.3v8.33M377.3 460.5h8.33M381.5 456.3v8.33M435.3 458.5h8.33M439.5 454.3v8.33M328.3 459.5h8.33M332.5 455.3v8.33M351.3 461.5h8.33M355.5 457.3v8.33M339.3 461.5h8.33M343.5 457.3v8.33M439.3 459.5h8.33M443.5 455.3v8.33M389.3 462.5h8.33M393.5 458.3v8.33M365.3 461.5h8.33M369.5 457.3v8.33M411.3 459.5h8.33M415.5 455.3v8.33M335.3 461.5h8.33M339.5 457.3v8.33M340.3 457.5h8.33M344.5 453.3v8.33M416.3 460.5h8.33M420.5 456.3v8.33M370.3 460.5h8.33M374.5 456.3v8.33M406.3 463.5h8.33M410.5 459.3v8.33M446.3 459.5h8.33M450.5 455.3v8.33M402.3 459.5h8.33M406.5 455.3v8.33M414.3 459.5h8.33M418.5 455.3v8.33M393.3 458.5h8.33M397.5 454.3v8.33M357.3 461.5h8.33M361.5 457.3v8.33M344.3 460.5h8.33M348.5 456.3v8.33M397.3 460.5h8.33M401.5 456.3v8.33M423.3 460.5h8.33M427.5 456.3v8.33M396.3 461.5h8.33M400.5 457.3v8.33M394.3 459.5h8.33M398.5 455.3v8.33M328.3 460.5h8.33M332.5 456.3v8.33M334.3 459.5h8.33M338.5 455.3v8.33M418.3 460.5h8.33M422.5 456.3v8.33M356.3 460.5h8.33M360.5 456.3v8.33M338.3 459.5h8.33M342.5 455.3v8.33M384.3 459.5h8.33M388.5 455.3v8.33M419.3 460.5h8.33M423.5 456.3v8.33M353.3 459.5h8.33M357.5 455.3v8.33M381.3 458.5h8.33M385.5 454.3v8.33M387.3 461.5h8.33M391.5 457.3v8.33M348.3 459.5h8.33M352.5 455.3v8.33M335.3 460.5h8.33M339.5 456.3v8.33M337.3 460.5h8.33M341.5 456.3v8.33M405.3 459.5h8.33M409.5 455.3v8.33M388.3 460.5h8.33M392.5 456.3v8.33M439.3 460.5h8.33M443.5 456.3v8.33M363.3 460.5h8.33M367.5 456.3v8.33M366.3 461.5h8.33M370.5 457.3v8.33M378.3 459.5h8.33M382.5 455.3v8.33M346.3 460.5h8.33M350.5 456.3v8.33M429.3 460.5h8.33M433.5 456.3v8.33M405.3 460.5h8.33M409.5 456.3v8.33M334.3 461.5h8.33M338.5 457.3v8.33M388.3 459.5h8.33M392.5 455.3v8.33M416.3 460.5h8.33M420.5 456.3v8.33M413.3 459.5h8.33M417.5 455.3v8.33M407.3 460.5h8.33M411.5 456.3v8.33M379.3 459.5h8.33M383.5 455.3v8.33M435.3 459.5h8.33M439.5 455.3v8.33M327.3 460.5h8.33M331.5 456.3v8.33M350.3 461.5h8.33M354.5 457.3v8.33M337.3 458.5h8.33M341.5 454.3v8.33M367.3 457.5h8.33M371.5 453.3v8.33M359.3 459.5h8.33M363.5 455.3v8.33M375.3 459.5h8.33M379.5 455.3v8.33M409.3 459.5h8.33M413.5 455.3v8.33M335.3 460.5h8.33M339.5 456.3v8.33M392.3 462.5h8.33M396.5 458.3v8.33M339.3 460.5h8.33M343.5 456.3v8.33M387.3 459.5h8.33M391.5 455.3v8.33M407.3 460.5h8.33M411.5 456.3v8.33M386.3 460.5h8.33M390.5 456.3v8.33M439.3 459.5h8.33M443.5 455.3v8.33M425.3 459.5h8.33M429.5 455.3v8.33M385.3 460.5h8.33M389.5 456.3v8.33M342.3 459.5h8.33M346.5 455.3v8.33M396.3 458.5h8.33M400.5 454.3v8.33M444.3 461.5h8.33M448.5 457.3v8.33M423.3 460.5h8.33M427.5 456.3v8.33M340.3 460.5h8.33M344.5 456.3v8.33M397.3 460.5h8.33M401.5 456.3v8.33M414.3 459.5h8.33M418.5 455.3v8.33M371.3 461.5h8.33M375.5 457.3v8.33M412.3 459.5h8.33M416.5 455.3v8.33M379.3 462.5h8.33M383.5 458.3v8.33M327.3 461.5h8.33M331.5 457.3v8.33M431.3 461.5h8.33M435.5 457.3v8.33M403.3 461.5h8.33M407.5 457.3v8.33M413.3 461.5h8.33M417.5 457.3v8.33M340.3 459.5h8.33M344.5 455.3v8.33M327.3 461.5h8.33M331.5 457.3v8.33M332.3 458.5h8.33M336.5 454.3v8.33M447.3 461.5h8.33M451.5 457.3v8.33M365.3 461.5h8.33M369.5 457.3v8.33M431.3 459.5h8.33M435.5 455.3v8.33M397.3 461.5h8.33M401.5 457.3v8.33M441.3 459.5h8.33M445.5 455.3v8.33M395.3 460.5h8.33M399.5 456.3v8.33M385.3 461.5h8.33M389.5 457.3v8.33M367.3 459.5h8.33M371.5 455.3v8.33M397.3 461.5h8.33M401.5 457.3v8.33M353.3 459.5h8.33M357.5 455.3v8.33M387.3 461.5h8.33M391.5 457.3v8.33M377.3 459.5h8.33M381.5 455.3v8.33M391.3 459.5h8.33M395.5 455.3v8.33M360.3 460.5h8.33M364.5 456.3v8.33M421.3 458.5h8.33M425.5 454.3v8.33M389.3 460.5h8.33M393.5 456.3v8.33M388.3 462.5h8.33M392.5 458.3v8.33M372.3 459.5h8.33M376.5 455.3v8.33M412.3 461.5h8.33M416.5 457.3v8.33M425.3 458.5h8.33M429.5 454.3v8.33M352.3 460.5h8.33M356.5 456.3v8.33M381.3 459.5h8.33M385.5 455.3v8.33M370.3 460.5h8.33M374.5 456.3v8.33M417.3 460.5h8.33M421.5 456.3v8.33M355.3 459.5h8.33M359.5 455.3v8.33M421.3 459.5h8.33M425.5 455.3v8.33M403.3 458.5h8.33M407.5 454.3v8.33M410.3 460.5h8.33M414.5 456.3v8.33M370.3 460.5h8.33M374.5 456.3v8.33M330.3 461.5h8.33M334.5 457.3v8.33M407.3 459.5h8.33M411.5 455.3v8.33M443.3 460.5h8.33M447.5 456.3v8.33M367.3 459.5h8.33M371.5 455.3v8.33M340.3 460.5h8.33M344.5 456.3v8.33M385.3 458.5h8.33M389.5 454.3v8.33M371.3 460.5h8.33M375.5 456.3v8.33M412.3 461.5h8.33M416.5 457.3v8.33M434.3 461.5h8.33M438.5 457.3v8.33M379.3 458.5h8.33M383.5 454.3v8.33M377.3 459.5h8.33M381.5 455.3v8.33M349.3 462.5h8.33M353.5 458.3v8.33M346.3 459.5h8.33M350.5 455.3v8.33M429.3 462.5h8.33M433.5 458.3v8.33M366.3 461.5h8.33M370.5 457.3v8.33M378.3 458.5h8.33M382.5 454.3v8.33M350.3 460.5h8.33M354.5 456.3v8.33M341.3 459.5h8.33M345.5 455.3v8.33M435.3 459.5h8.33M439.5 455.3v8.33M398.3 460.5h8.33M402.5 456.3v8.33M357.3 461.5h8.33M361.5 457.3v8.33M372.3 460.5h8.33M376.5 456.3v8.33M328.3 459.5h8.33M332.5 455.3v8.33M367.3 461.5h8.33M371.5 457.3v8.33M408.3 459.5h8.33M412.5 455.3v8.33M329.3 459.5h8.33M333.5 455.3v8.33M408.3 459.5h8.33M412.5 455.3v8.33M351.3 459.5h8.33M355.5 455.3v8.33M430.3 460.5h8.33M434.5 456.3v8.33M397.3 459.5h8.33M401.5 455.3v8.33M396.3 460.5h8.33M400.5 456.3v8.33M366.3 460.5h8.33M370.5 456.3v8.33M404.3 459.5h8.33M408.5 455.3v8.33M341.3 459.5h8.33M345.5 455.3v8.33M352.3 459.5h8.33M356.5 455.3v8.33M370.3 461.5h8.33M374.5 457.3v8.33M435.3 462.5h8.33M439.5 458.3v8.33M355.3 462.5h8.33M359.5 458.3v8.33M430.3 460.5h8.33M434.5 456.3v8.33M372.3 461.5h8.33M376.5 457.3v8.33M331.3 460.5h8.33M335.5 456.3v8.33M359.3 458.5h8.33M363.5 454.3v8.33M420.3 457.5h8.33M424.5 453.3v8.33M333.3 460.5h8.33M337.5 456.3v8.33M372.3 460.5h8.33M376.5 456.3v8.33M420.3 461.5h8.33M424.5 457.3v8.33M428.3 459.5h8.33M432.5 455.3v8.33M423.3 459.5h8.33M427.5 455.3v8.33M339.3 460.5h8.33M343.5 456.3v8.33M380.3 461.5h8.33M384.5 457.3v8.33M446.3 461.5h8.33M450.5 457.3v8.33M352.3 460.5h8.33M356.5 456.3v8.33M327.3 460.5h8.33M331.5 456.3v8.33M371.3 460.5h8.33M375.5 456.3v8.33M379.3 459.5h8.33M383.5 455.3v8.33M411.3 460.5h8.33M415.5 456.3v8.33M389.3 460.5h8.33M393.5 456.3v8.33M388.3 460.5h8.33M392.5 456.3v8.33M386.3 458.5h8.33M390.5 454.3v8.33M352.3 461.5h8.33M356.5 457.3v8.33M432.3 459.5h8.33M436.5 455.3v8.33M401.3 460.5h8.33M405.5 456.3v8.33M394.3 460.5h8.33M398.5 456.3v8.33M442.3 460.5h8.33M446.5 456.3v8.33M371.3 461.5h8.33M375.5 457.3v8.33M391.3 461.5h8.33M395.5 457.3v8.33M366.3 459.5h8.33M370.5 455.3v8.33M367.3 461.5h8.33M371.5 457.3v8.33M377.3 461.5h8.33M381.5 457.3v8.33M375.3 459.5h8.33M379.5 455.3v8.33M346.3 459.5h8.33M350.5 455.3v8.33M380.3 458.5h8.33M384.5 454.3v8.33M375.3 460.5h8.33M379.5 456.3v8.33M382.3 461.5h8.33M386.5 457.3v8.33M427.3 459.5h8.33M431.5 455.3v8.33M330.3 461.5h8.33M334.5 457.3v8.33M353.3 461.5h8.33M357.5 457.3v8.33M408.3 459.5h8.33M412.5 455.3v8.33M386.3 459.5h8.33M390.5 455.3v8.33M347.3 460.5h8.33M351.5 456.3v8.33M404.3 459.5h8.33M408.5 455.3v8.33M404.3 459.5h8.33M408.5 455.3v8.33M343.3 459.5h8.33M347.5 455.3v8.33M388.3 459.5h8.33M392.5 455.3v8.33M364.3 459.5h8.33M368.5 455.3v8.33M385.3 460.5h8.33M389.5 456.3v8.33M401.3 460.5h8.33M405.5 456.3v8.33M408.3 460.5h8.33M412.5 456.3v8.33M392.3 458.5h8.33M396.5 454.3v8.33M395.3 459.5h8.33M399.5 455.3v8.33M353.3 458.5h8.33M357.5 454.3v8.33M395.3 460.5h8.33M399.5 456.3v8.33M417.3 459.5h8.33M421.5 455.3v8.33M443.3 461.5h8.33M447.5 457.3v8.33M426.3 459.5h8.33M430.5 455.3v8.33M400.3 459.5h8.33M404.5 455.3v8.33M330.3 462.5h8.33M334.5 458.3v8.33M414.3 459.5h8.33M418.5 455.3v8.33M359.3 460.5h8.33M363.5 456.3v8.33M426.3 459.5h8.33M430.5 455.3v8.33M389.3 462.5h8.33M393.5 458.3v8.33M380.3 460.5h8.33M384.5 456.3v8.33M427.3 459.5h8.33M431.5 455.3v8.33M430.3 459.5h8.33M434.5 455.3v8.33M351.3 460.5h8.33M355.5 456.3v8.33M330.3 459.5h8.33M334.5 455.3v8.33M367.3 460.5h8.33M371.5 456.3v8.33M402.3 460.5h8.33M406.5 456.3v8.33M341.3 460.5h8.33M345.5 456.3v8.33M360.3 460.5h8.33M364.5 456.3v8.33M437.3 461.5h8.33M441.5 457.3v8.33M446.3 459.5h8.33M450.5 455.3v8.33M380.3 460.5h8.33M384.5 456.3v8.33M438.3 459.5h8.33M442.5 455.3v8.33M424.3 460.5h8.33M428.5 456.3v8.33M338.3 459.5h8.33M342.5 455.3v8.33M438.3 458.5h8.33M442.5 454.3v8.33M430.3 459.5h8.33M434.5 455.3v8.33M344.3 459.5h8.33M348.5 455.3v8.33M421.3 459.5h8.33M425.5 455.3v8.33M381.3 461.5h8.33M385.5 457.3v8.33M360.3 462.5h8.33M364.5 458.3v8.33M416.3 460.5h8.33M420.5 456.3v8.33M410.3 459.5h8.33M414.5 455.3v8.33M374.3 460.5h8.33M378.5 456.3v8.33M441.3 460.5h8.33M445.5 456.3v8.33M371.3 459.5h8.33M375.5 455.3v8.33M330.3 460.5h8.33M334.5 456.3v8.33M417.3 460.5h8.33M421.5 456.3v8.33M370.3 458.5h8.33M374.5 454.3v8.33M352.3 459.5h8.33M356.5 455.3v8.33M406.3 461.5h8.33M410.5 457.3v8.33M375.3 459.5h8.33M379.5 455.3v8.33M437.3 460.5h8.33M441.5 456.3v8.33M383.3 458.5h8.33M387.5 454.3v8.33M350.3 460.5h8.33M354.5 456.3v8.33M414.3 459.5h8.33M418.5 455.3v8.33M338.3 461.5h8.33M342.5 457.3v8.33M360.3 459.5h8.33M364.5 455.3v8.33M372.3 459.5h8.33M376.5 455.3v8.33M396.3 460.5h8.33M400.5 456.3v8.33M327.3 461.5h8.33M331.5 457.3v8.33M423.3 460.5h8.33M427.5 456.3v8.33M393.3 462.5h8.33M397.5 458.3v8.33M399.3 459.5h8.33M403.5 455.3v8.33M420.3 459.5h8.33M424.5 455.3v8.33M362.3 461.5h8.33M366.5 457.3v8.33M408.3 458.5h8.33M412.5 454.3v8.33M425.3 458.5h8.33M429.5 454.3v8.33M441.3 460.5h8.33M445.5 456.3v8.33M349.3 461.5h8.33M353.5 457.3v8.33M388.3 460.5h8.33M392.5 456.3v8.33M344.3 460.5h8.33M348.5 456.3v8.33M373.3 462.5h8.33M377.5 458.3v8.33M344.3 460.5h8.33M348.5 456.3v8.33M349.3 461.5h8.33M353.5 457.3v8.33M384.3 459.5h8.33M388.5 455.3v8.33M387.3 459.5h8.33M391.5 455.3v8.33M427.3 462.5h8.33M431.5 458.3v8.33M351.3 460.5h8.33M355.5 456.3v8.33M331.3 460.5h8.33M335.5 456.3v8.33M391.3 458.5h8.33M395.5 454.3v8.33M353.3 460.5h8.33M357.5 456.3v8.33M414.3 459.5h8.33M418.5 455.3v8.33M354.3 458.5h8.33M358.5 454.3v8.33M371.3 459.5h8.33M375.5 455.3v8.33M384.3 461.5h8.33M388.5 457.3v8.33M410.3 460.5h8.33M414.5 456.3v8.33M345.3 458.5h8.33M349.5 454.3v8.33M339.3 459.5h8.33M343.5 455.3v8.33M428.3 460.5h8.33M432.5 456.3v8.33M356.3 459.5h8.33M360.5 455.3v8.33M337.3 460.5h8.33M341.5 456.3v8.33M385.3 460.5h8.33M389.5 456.3v8.33M357.3 459.5h8.33M361.5 455.3v8.33M371.3 461.5h8.33M375.5 457.3v8.33M422.3 460.5h8.33M426.5 456.3v8.33M353.3 459.5h8.33M357.5 455.3v8.33M327.3 459.5h8.33M331.5 455.3v8.33M411.3 460.5h8.33M415.5 456.3v8.33M421.3 460.5h8.33M425.5 456.3v8.33M331.3 460.5h8.33M335.5 456.3v8.33M418.3 458.5h8.33M422.5 454.3v8.33M374.3 461.5h8.33M378.5 457.3v8.33M364.3 462.5h8.33M368.5 458.3v8.33M388.3 461.5h8.33M392.5 457.3v8.33M380.3 458.5h8.33M384.5 454.3v8.33M427.3 460.5h8.33M431.5 456.3v8.33M384.3 460.5h8.33M388.5 456.3v8.33M434.3 461.5h8.33M438.5 457.3v8.33M376.3 459.5h8.33M380.5 455.3v8.33M382.3 459.5h8.33M386.5 455.3v8.33M396.3 460.5h8.33M400.5 456.3v8.33M431.3 461.5h8.33M435.5 457.3v8.33M336.3 458.5h8.33M340.5 454.3v8.33M444.3 461.5h8.33M448.5 457.3v8.33M328.3 459.5h8.33M332.5 455.3v8.33M428.3 459.5h8.33M432.5 455.3v8.33M383.3 460.5h8.33M387.5 456.3v8.33M412.3 460.5h8.33M416.5 456.3v8.33M414.3 460.5h8.33M418.5 456.3v8.33M406.3 461.5h8.33M410.5 457.3v8.33M406.3 461.5h8.33M410.5 457.3v8.33M366.3 460.5h8.33M370.5 456.3v8.33M398.3 459.5h8.33M402.5 455.3v8.33M407.3 460.5h8.33M411.5 456.3v8.33M361.3 460.5h8.33M365.5 456.3v8.33M392.3 459.5h8.33M396.5 455.3v8.33M424.3 461.5h8.33M428.5 457.3v8.33M335.3 461.5h8.33M339.5 457.3v8.33M439.3 461.5h8.33M443.5 457.3v8.33M371.3 460.5h8.33M375.5 456.3v8.33M348.3 459.5h8.33M352.5 455.3v8.33M376.3 460.5h8.33M380.5 456.3v8.33M341.3 459.5h8.33M345.5 455.3v8.33M443.3 460.5h8.33M447.5 456.3v8.33M373.3 459.5h8.33M377.5 455.3v8.33M443.3 460.5h8.33M447.5 456.3v8.33M365.3 459.5h8.33M369.5 455.3v8.33M374.3 458.5h8.33M378.5 454.3v8.33M418.3 460.5h8.33M422.5 456.3v8.33M332.3 460.5h8.33M336.5 456.3v8.33M381.3 460.5h8.33M385.5 456.3v8.33M380.3 459.5h8.33M384.5 455.3v8.33M418.3 460.5h8.33M422.5 456.3v8.33M389.3 460.5h8.33M393.5 456.3v8.33M378.3 462.5h8.33M382.5 458.3v8.33M355.3 459.5h8.33M359.5 455.3v8.33M394.3 459.5h8.33M398.5 455.3v8.33M380.3 460.5h8.33M384.5 456.3v8.33M437.3 459.5h8.33M441.5 455.3v8.33M412.3 461.5h8.33M416.5 457.3v8.33M334.3 460.5h8.33M338.5 456.3v8.33M363.3 459.5h8.33M367.5 455.3v8.33M413.3 461.5h8.33M417.5 457.3v8.33M342.3 460.5h8.33M346.5 456.3v8.33M384.3 460.5h8.33M388.5 456.3v8.33M353.3 460.5h8.33M357.5 456.3v8.33M336.3 460.5h8.33M340.5 456.3v8.33M389.3 460.5h8.33M393.5 456.3v8.33M343.3 460.5h8.33M347.5 456.3v8.33M357.3 459.5h8.33M361.5 455.3v8.33M356.3 460.5h8.33M360.5 456.3v8.33M416.3 459.5h8.33M420.5 455.3v8.33M338.3 461.5h8.33M342.5 457.3v8.33M399.3 459.5h8.33M403.5 455.3v8.33M431.3 460.5h8.33M435.5 456.3v8.33M410.3 460.5h8.33M414.5 456.3v8.33M397.3 460.5h8.33M401.5 456.3v8.33M386.3 459.5h8.33M390.5 455.3v8.33M349.3 459.5h8.33M353.5 455.3v8.33M397.3 460.5h8.33M401.5 456.3v8.33M363.3 459.5h8.33M367.5 455.3v8.33M337.3 461.5h8.33M341.5 457.3v8.33M423.3 459.5h8.33M427.5 455.3v8.33M340.3 460.5h8.33M344.5 456.3v8.33M388.3 458.5h8.33M392.5 454.3v8.33M372.3 460.5h8.33M376.5 456.3v8.33M376.3 460.5h8.33M380.5 456.3v8.33M445.3 459.5h8.33M449.5 455.3v8.33M434.3 462.5h8.33M438.5 458.3v8.33M357.3 460.5h8.33M361.5 456.3v8.33M425.3 459.5h8.33M429.5 455.3v8.33M447.3 459.5h8.33M451.5 455.3v8.33M405.3 460.5h8.33M409.5 456.3v8.33M336.3 459.5h8.33M340.5 455.3v8.33M431.3 460.5h8.33M435.5 456.3v8.33M401.3 460.5h8.33M405.5 456.3v8.33M350.3 458.5h8.33M354.5 454.3v8.33M338.3 460.5h8.33M342.5 456.3v8.33M406.3 461.5h8.33M410.5 457.3v8.33M405.3 460.5h8.33M409.5 456.3v8.33M409.3 460.5h8.33M413.5 456.3v8.33M442.3 460.5h8.33M446.5 456.3v8.33M374.3 459.5h8.33M378.5 455.3v8.33M410.3 460.5h8.33M414.5 456.3v8.33M416.3 459.5h8.33M420.5 455.3v8.33M395.3 459.5h8.33M399.5 455.3v8.33M389.3 461.5h8.33M393.5 457.3v8.33M443.3 462.5h8.33M447.5 458.3v8.33M420.3 461.5h8.33M424.5 457.3v8.33M428.3 460.5h8.33M432.5 456.3v8.33M355.3 460.5h8.33M359.5 456.3v8.33M440.3 458.5h8.33M444.5 454.3v8.33M427.3 460.5h8.33M431.5 456.3v8.33M421.3 459.5h8.33M425.5 455.3v8.33M384.3 459.5h8.33M388.5 455.3v8.33M423.3 461.5h8.33M427.5 457.3v8.33M428.3 461.5h8.33M432.5 457.3v8.33M347.3 458.5h8.33M351.5 454.3v8.33M345.3 459.5h8.33M349.5 455.3v8.33M367.3 459.5h8.33M371.5 455.3v8.33M339.3 461.5h8.33M343.5 457.3v8.33M353.3 461.5h8.33M357.5 457.3v8.33M429.3 459.5h8.33M433.5 455.3v8.33M363.3 461.5h8.33M367.5 457.3v8.33M359.3 460.5h8.33M363.5 456.3v8.33M379.3 460.5h8.33M383.5 456.3v8.33M372.3 462.5h8.33M376.5 458.3v8.33M372.3 460.5h8.33M376.5 456.3v8.33M327.3 460.5h8.33M331.5 456.3v8.33M357.3 460.5h8.33M361.5 456.3v8.33M329.3 461.5h8.33M333.5 457.3v8.33M397.3 461.5h8.33M401.5 457.3v8.33M387.3 460.5h8.33M391.5 456.3v8.33M443.3 461.5h8.33M447.5 457.3v8.33M371.3 462.5h8.33M375.5 458.3v8.33M342.3 460.5h8.33M346.5 456.3v8.33M429.3 461.5h8.33M433.5 457.3v8.33M424.3 460.5h8.33M428.5 456.3v8.33M410.3 458.5h8.33M414.5 454.3v8.33M345.3 459.5h8.33M349.5 455.3v8.33M392.3 460.5h8.33M396.5 456.3v8.33M350.3 461.5h8.33M354.5 457.3v8.33M412.3 458.5h8.33M416.5 454.3v8.33M402.3 459.5h8.33M406.5 455.3v8.33M399.3 461.5h8.33M403.5 457.3v8.33M395.3 459.5h8.33M399.5 455.3v8.33M366.3 461.5h8.33M370.5 457.3v8.33M339.3 459.5h8.33M343.5 455.3v8.33M367.3 459.5h8.33M371.5 455.3v8.33M404.3 457.5h8.33M408.5 453.3v8.33M406.3 461.5h8.33M410.5 457.3v8.33M380.3 459.5h8.33M384.5 455.3v8.33M382.3 460.5h8.33M386.5 456.3v8.33M340.3 459.5h8.33M344.5 455.3v8.33M401.3 460.5h8.33M405.5 456.3v8.33M409.3 459.5h8.33M413.5 455.3v8.33M434.3 460.5h8.33M438.5 456.3v8.33M386.3 460.5h8.33M390.5 456.3v8.33M367.3 463.5h8.33M371.5 459.3v8.33M380.3 459.5h8.33M384.5 455.3v8.33M422.3 459.5h8.33M426.5 455.3v8.33M444.3 459.5h8.33M448.5 455.3v8.33M348.3 461.5h8.33M352.5 457.3v8.33M329.3 460.5h8.33M333.5 456.3v8.33M384.3 458.5h8.33M388.5 454.3v8.33M376.3 461.5h8.33M380.5 457.3v8.33M429.3 460.5h8.33M433.5 456.3v8.33M355.3 458.5h8.33M359.5 454.3v8.33M363.3 459.5h8.33M367.5 455.3v8.33M404.3 460.5h8.33M408.5 456.3v8.33M387.3 459.5h8.33M391.5 455.3v8.33M447.3 461.5h8.33M451.5 457.3v8.33M351.3 460.5h8.33M355.5 456.3v8.33M338.3 460.5h8.33M342.5 456.3v8.33M333.3 458.5h8.33M337.5 454.3v8.33M411.3 461.5h8.33M415.5 457.3v8.33M443.3 460.5h8.33M447.5 456.3v8.33M396.3 459.5h8.33M400.5 455.3v8.33M328.3 459.5h8.33M332.5 455.3v8.33M401.3 460.5h8.33M405.5 456.3v8.33M334.3 459.5h8.33M338.5 455.3v8.33M386.3 459.5h8.33M390.5 455.3v8.33M375.3 461.5h8.33M379.5 457.3v8.33M423.3 461.5h8.33M427.5 457.3v8.33M399.3 461.5h8.33M403.5 457.3v8.33M431.3 461.5h8.33M435.5 457.3v8.33M445.3 460.5h8.33M449.5 456.3v8.33M432.3 459.5h8.33M436.5 455.3v8.33M407.3 459.5h8.33M411.5 455.3v8.33M426.3 462.5h8.33M430.5 458.3v8.33M434.3 460.5h8.33M438.5 456.3v8.33M372.3 461.5h8.33M376.5 457.3v8.33M362.3 460.5h8.33M366.5 456.3v8.33M366.3 458.5h8.33M370.5 454.3v8.33M392.3 461.5h8.33M396.5 457.3v8.33M437.3 459.5h8.33M441.5 455.3v8.33M395.3 460.5h8.33M399.5 456.3v8.33M382.3 460.5h8.33M386.5 456.3v8.33M393.3 459.5h8.33M397.5 455.3v8.33M402.3 457.5h8.33M406.5 453.3v8.33M384.3 459.5h8.33M388.5 455.3v8.33M411.3 459.5h8.33M415.5 455.3v8.33M441.3 461.5h8.33M445.5 457.3v8.33M432.3 460.5h8.33M436.5 456.3v8.33M334.3 460.5h8.33M338.5 456.3v8.33M405.3 459.5h8.33M409.5 455.3v8.33M423.3 460.5h8.33M427.5 456.3v8.33M354.3 461.5h8.33M358.5 457.3v8.33M411.3 458.5h8.33M415.5 454.3v8.33M366.3 459.5h8.33M370.5 455.3v8.33M397.3 461.5h8.33M401.5 457.3v8.33M441.3 459.5h8.33M445.5 455.3v8.33M356.3 459.5h8.33M360.5 455.3v8.33M368.3 460.5h8.33M372.5 456.3v8.33M423.3 460.5h8.33M427.5 456.3v8.33M420.3 461.5h8.33M424.5 457.3v8.33M439.3 460.5h8.33M443.5 456.3v8.33M386.3 460.5h8.33M390.5 456.3v8.33M439.3 461.5h8.33M443.5 457.3v8.33M374.3 461.5h8.33M378.5 457.3v8.33M393.3 460.5h8.33M397.5 456.3v8.33M366.3 460.5h8.33M370.5 456.3v8.33M345.3 460.5h8.33M349.5 456.3v8.33M411.3 460.5h8.33M415.5 456.3v8.33M396.3 461.5h8.33M400.5 457.3v8.33M388.3 461.5h8.33M392.5 457.3v8.33M344.3 460.5h8.33M348.5 456.3v8.33M353.3 458.5h8.33M357.5 454.3v8.33M440.3 460.5h8.33M444.5 456.3v8.33M327.3 459.5h8.33M331.5 455.3v8.33M431.3 460.5h8.33M435.5 456.3v8.33M419.3 459.5h8.33M423.5 455.3v8.33M420.3 458.5h8.33M424.5 454.3v8.33M445.3 458.5h8.33M449.5 454.3v8.33M366.3 461.5h8.33M370.5 457.3v8.33M364.3 458.5h8.33M368.5 454.3v8.33M409.3 459.5h8.33M413.5 455.3v8.33M395.3 458.5h8.33M399.5 454.3v8.33M360.3 460.5h8.33M364.5 456.3v8.33M343.3 461.5h8.33M347.5 457.3v8.33M430.3 460.5h8.33M434.5 456.3v8.33M411.3 459.5h8.33M415.5 455.3v8.33M408.3 461.5h8.33M412.5 457.3v8.33M419.3 461.5h8.33M423.5 457.3v8.33M363.3 460.5h8.33M367.5 456.3v8.33M419.3 460.5h8.33M423.5 456.3v8.33M383.3 460.5h8.33M387.5 456.3v8.33M339.3 459.5h8.33M343.5 455.3v8.33M369.3 460.5h8.33M373.5 456.3v8.33M335.3 459.5h8.33M339.5 455.3v8.33M417.3 461.5h8.33M421.5 457.3v8.33M337.3 461.5h8.33M341.5 457.3v8.33M356.3 459.5h8.33M360.5 455.3v8.33M376.3 458.5h8.33M380.5 454.3v8.33M381.3 461.5h8.33M385.5 457.3v8.33M356.3 460.5h8.33M360.5 456.3v8.33M422.3 459.5h8.33M426.5 455.3v8.33M391.3 458.5h8.33M395.5 454.3v8.33M411.3 460.5h8.33M415.5 456.3v8.33M362.3 460.5h8.33M366.5 456.3v8.33M361.3 460.5h8.33M365.5 456.3v8.33M366.3 459.5h8.33M370.5 455.3v8.33M361.3 461.5h8.33M365.5 457.3v8.33M384.3 459.5h8.33M388.5 455.3v8.33M372.3 462.5h8.33M376.5 458.3v8.33M381.3 459.5h8.33M385.5 455.3v8.33M395.3 460.5h8.33M399.5 456.3v8.33M358.3 459.5h8.33M362.5 455.3v8.33M339.3 458.5h8.33M343.5 454.3v8.33M345.3 460.5h8.33M349.5 456.3v8.33M379.3 461.5h8.33M383.5 457.3v8.33M373.3 460.5h8.33M377.5 456.3v8.33M428.3 460.5h8.33M432.5 456.3v8.33M341.3 459.5h8.33M345.5 455.3v8.33M403.3 460.5h8.33M407.5 456.3v8.33M406.3 457.5h8.33M410.5 453.3v8.33M364.3 459.5h8.33M368.5 455.3v8.33M380.3 460.5h8.33M384.5 456.3v8.33M383.3 462.5h8.33M387.5 458.3v8.33M438.3 459.5h8.33M442.5 455.3v8.33M384.3 460.5h8.33M388.5 456.3v8.33M437.3 460.5h8.33M441.5 456.3v8.33M404.3 460.5h8.33M408.5 456.3v8.33M446.3 459.5h8.33M450.5 455.3v8.33M330.3 461.5h8.33M334.5 457.3v8.33M372.3 458.5h8.33M376.5 454.3v8.33M426.3 460.5h8.33M430.5 456.3v8.33M383.3 461.5h8.33M387.5 457.3v8.33M376.3 460.5h8.33M380.5 456.3v8.33M415.3 461.5h8.33M419.5 457.3v8.33M337.3 460.5h8.33M341.5 456.3v8.33M372.3 460.5h8.33M376.5 456.3v8.33M376.3 458.5h8.33M380.5 454.3v8.33M440.3 459.5h8.33M444.5 455.3v8.33M403.3 459.5h8.33M407.5 455.3v8.33M335.3 460.5h8.33M339.5 456.3v8.33M389.3 459.5h8.33M393.5 455.3v8.33M445.3 459.5h8.33M449.5 455.3v8.33M376.3 459.5h8.33M380.5 455.3v8.33M347.3 461.5h8.33M351.5 457.3v8.33M440.3 459.5h8.33M444.5 455.3v8.33M378.3 459.5h8.33M382.5 455.3v8.33M357.3 459.5h8.33M361.5 455.3v8.33M380.3 461.5h8.33M384.5 457.3v8.33M445.3 459.5h8.33M449.5 455.3v8.33M333.3 459.5h8.33M337.5 455.3v8.33M346.3 459.5h8.33M350.5 455.3v8.33M434.3 461.5h8.33M438.5 457.3v8.33M355.3 460.5h8.33M359.5 456.3v8.33M391.3 459.5h8.33M395.5 455.3v8.33M391.3 460.5h8.33M395.5 456.3v8.33M407.3 460.5h8.33M411.5 456.3v8.33M410.3 458.5h8.33M414.5 454.3v8.33M425.3 461.5h8.33M429.5 457.3v8.33M363.3 461.5h8.33M367.5 457.3v8.33M405.3 460.5h8.33M409.5 456.3v8.33M354.3 461.5h8.33M358.5 457.3v8.33M331.3 460.5h8.33M335.5 456.3v8.33M415.3 459.5h8.33M419.5 455.3v8.33M380.3 459.5h8.33M384.5 455.3v8.33M355.3 460.5h8.33M359.5 456.3v8.33M425.3 460.5h8.33M429.5 456.3v8.33M381.3 460.5h8.33M385.5 456.3v8.33M424.3 459.5h8.33M428.5 455.3v8.33M398.3 459.5h8.33M402.5 455.3v8.33M394.3 459.5h8.33M398.5 455.3v8.33M349.3 461.5h8.33M353.5 457.3v8.33M391.3 459.5h8.33M395.5 455.3v8.33M403.3 460.5h8.33M407.5 456.3v8.33M354.3 460.5h8.33M358.5 456.3v8.33M428.3 461.5h8.33M432.5 457.3v8.33M431.3 460.5h8.33M435.5 456.3v8.33M421.3 460.5h8.33M425.5 456.3v8.33M354.3 459.5h8.33M358.5 455.3v8.33M411.3 459.5h8.33M415.5 455.3v8.33M369.3 461.5h8.33M373.5 457.3v8.33M418.3 458.5h8.33M422.5 454.3v8.33M445.3 459.5h8.33M449.5 455.3v8.33M372.3 460.5h8.33M376.5 456.3v8.33M432.3 460.5h8.33M436.5 456.3v8.33M330.3 459.5h8.33M334.5 455.3v8.33M419.3 459.5h8.33M423.5 455.3v8.33M364.3 460.5h8.33M368.5 456.3v8.33M393.3 461.5h8.33M397.5 457.3v8.33M418.3 459.5h8.33M422.5 455.3v8.33M419.3 460.5h8.33M423.5 456.3v8.33M353.3 460.5h8.33M357.5 456.3v8.33M358.3 460.5h8.33M362.5 456.3v8.33M346.3 379.5h8.33M350.5 375.3v8.33M366.3 408.5h8.33M370.5 404.3v8.33M375.3 382.5h8.33M379.5 378.3v8.33M360.3 415.5h8.33M364.5 411.3v8.33M351.3 444.5h8.33M355.5 440.3v8.33M327.3 459.5h8.33M331.5 455.3v8.33M329.3 459.5h8.33M333.5 455.3v8.33M331.3 460.5h8.33M335.5 456.3v8.33M333.3 460.5h8.33M337.5 456.3v8.33M335.3 460.5h8.33M339.5 456.3v8.33M337.3 459.5h8.33M341.5 455.3v8.33M339.3 460.5h8.33M343.5 456.3v8.33M341.3 461.5h8.33M345.5 457.3v8.33M343.3 459.5h8.33M347.5 455.3v8.33M345.3 459.5h8.33M349.5 455.3v8.33M347.3 460.5h8.33M351.5 456.3v8.33M349.3 460.5h8.33M353.5 456.3v8.33M351.3 460.5h8.33M355.5 456.3v8.33M353.3 460.5h8.33M357.5 456.3v8.33M355.3 459.5h8.33M359.5 455.3v8.33M357.3 461.5h8.33M361.5 457.3v8.33M359.3 460.5h8.33M363.5 456.3v8.33M361.3 460.5h8.33M365.5 456.3v8.33M363.3 460.5h8.33M367.5 456.3v8.33M365.3 460.5h8.33M369.5 456.3v8.33M367.3 460.5h8.33M371.5 456.3v8.33M369.3 460.5h8.33M373.5 456.3v8.33M371.3 460.5h8.33M375.5 456.3v8.33M373.3 460.5h8.33M377.5 456.3v8.33M375.3 460.5h8.33M379.5 456.3v8.33M377.3 460.5h8.33M381.5 456.3v8.33M379.3 461.5h8.33M383.5 457.3v8.33M381.3 459.5h8.33M385.5 455.3v8.33M383.3 460.5h8.33M387.5 456.3v8.33M391.3 461.5h8.33M395.5 457.3v8.33M393.3 460.5h8.33M397.5 456.3v8.33M395.3 459.5h8.33M399.5 455.3v8.33M397.3 460.5h8.33M401.5 456.3v8.33M399.3 461.5h8.33M403.5 457.3v8.33M401.3 460.5h8.33M405.5 456.3v8.33M403.3 460.5h8.33M407.5 456.3v8.33M405.3 460.5h8.33M409.5 456.3v8.33M407.3 460.5h8.33M411.5 456.3v8.33M409.3 460.5h8.33M413.5 456.3v8.33M411.3 461.5h8.33M415.5 457.3v8.33M413.3 460.5h8.33M417.5 456.3v8.33M415.3 460.5h8.33M419.5 456.3v8.33M358.3 463.5h8.33M362.5 459.3v8.33M371.3 463.5h8.33M375.5 459.3v8.33M405.3 463.5h8.33M409.5 459.3v8.33M411.3 463.5h8.33M415.5 459.3v8.33M336.3 462.5h8.33M340.5 458.3v8.33M346.3 462.5h8.33M350.5 458.3v8.33M391.3 462.5h8.33M395.5 458.3v8.33M360.3 461.5h8.33M364.5 457.3v8.33M372.3 461.5h8.33M376.5 457.3v8.33M416.3 460.5h8.33M420.5 456.3v8.33" stroke="#00bfbf" stroke-width="0.7" fill="none"/>
<path d="M403.3 251.3l8.33 8.33M403.3 259.7l8.33 -8.33M402.3 257.3l8.33 8.33M402.3 265.7l8.33 -8.33M419.3 253.3l8.33 8.33M419.3 261.7l8.33 -8.33M425.3 251.3l8.33 8.33M425.3 259.7l8.33 -8.33M443.3 250.3l8.33 8.33M443.3 258.7l8.33 -8.33M413.3 267.3l8.33 8.33M413.3 275.7l8.33 -8.33M441.3 268.3l8.33 8.33M441.3 276.7l8.33 -8.33M442.3 272.3l8.33 8.33M442.3 280.7l8.33 -8.33M447.3 267.3l8.33 8.33M447.3 275.7l8.33 -8.33M441.3 279.3l8.33 8.33M441.3 287.7l8.33 -8.33M442.3 281.3l8.33 8.33M442.3 289.7l8.33 -8.33M395.3 294.3l8.33 8.33M395.3 302.7l8.33 -8.33M428.3 293.3l8.33 8.33M428.3 301.7l8.33 -8.33M418.3 301.3l8.33 8.33M418.3 309.7l8.33 -8.33M419.3 303.3l8.33 8.33M419.3 311.7l8.33 -8.33M418.3 306.3l8.33 8.33M418.3 314.7l8.33 -8.33M414.3 308.3l8.33 8.33M414.3 316.7l8.33 -8.33M423.3 311.3l8.33 8.33M423.3 319.7l8.33 -8.33M399.3 314.3l8.33 8.33M399.3 322.7l8.33 -8.33M404.3 316.3l8.33 8.33M404.3 324.7l8.33 -8.33M440.3 308.3l8.33 8.33M440.3 316.7l8.33 -8.33M441.3 309.3l8.33 8.33M441.3 317.7l8.33 -8.33M444.3 318.3l8.33 8.33M444.3 326.7l8.33 -8.33M442.3 321.3l8.33 8.33M442.3 329.7l8.33 -8.33M398.3 328.3l8.33 8.33M398.3 336.7l8.33 -8.33M403.3 335.3l8.33 8.33M403.3 343.7l8.33 -8.33M418.3 327.3l8.33 8.33M418.3 335.7l8.33 -8.33M423.3 325.3l8.33 8.33M423.3 333.7l8.33 -8.33M427.3 331.3l8.33 8.33M427.3 339.7l8.33 -8.33M425.3 339.3l8.33 8.33M425.3 347.7l8.33 -8.33M419.3 344.3l8.33 8.33M419.3 352.7l8.33 -8.33M435.3 338.3l8.33 8.33M435.3 346.7l8.33 -8.33M351.3 323.3l8.33 8.33M351.3 331.7l8.33 -8.33M350.3 327.3l8.33 8.33M350.3 335.7l8.33 -8.33M397.3 352.3l8.33 8.33M397.3 360.7l8.33 -8.33M378.3 354.3l8.33 8.33M378.3 362.7l8.33 -8.33M379.3 356.3l8.33 8.33M379.3 364.7l8.33 -8.33M386.3 372.3l8.33 8.33M386.3 380.7l8.33 -8.33M377.3 378.3l8.33 8.33M377.3 386.7l8.33 -8.33M391.3 394.3l8.33 8.33M391.3 402.7l8.33 -8.33M393.3 396.3l8.33 8.33M393.3 404.7l8.33 -8.33M403.3 384.3l8.33 8.33M403.3 392.7l8.33 -8.33M411.3 382.3l8.33 8.33M411.3 390.7l8.33 -8.33M416.3 381.3l8.33 8.33M416.3 389.7l8.33 -8.33M417.3 371.3l8.33 8.33M417.3 379.7l8.33 -8.33M414.3 383.3l8.33 8.33M414.3 391.7l8.33 -8.33M419.3 383.3l8.33 8.33M419.3 391.7l8.33 -8.33M402.3 402.3l8.33 8.33M402.3 410.7l8.33 -8.33M411.3 403.3l8.33 8.33M411.3 411.7l8.33 -8.33M414.3 397.3l8.33 8.33M414.3 405.7l8.33 -8.33M423.3 404.3l8.33 8.33M423.3 412.7l8.33 -8.33M427.3 409.3l8.33 8.33M427.3 417.7l8.33 -8.33M422.3 414.3l8.33 8.33M422.3 422.7l8.33 -8.33M403.3 414.3l8.33 8.33M403.3 422.7l8.33 -8.33M414.3 426.3l8.33 8.33M414.3 434.7l8.33 -8.33M434.3 383.3l8.33 8.33M434.3 391.7l8.33 -8.33M446.3 391.3l8.33 8.33M446.3 399.7l8.33 -8.33M447.3 398.3l8.33 8.33M447.3 406.7l8.33 -8.33M442.3 416.3l8.33 8.33M442.3 424.7l8.33 -8.33M447.3 416.3l8.33 8.33M447.3 424.7l8.33 -8.33M392.3 438.3l8.33 8.33M392.3 446.7l8.33 -8.33M356.3 449.3l8.33 8.33M356.3 457.7l8.33 -8.33M383.3 448.3l8.33 8.33M383.3 456.7l8.33 -8.33M423.3 447.3l8.33 8.33M423.3 455.7l8.33 -8.33M418.3 463.3l8.33 8.33M418.3 471.7l8.33 -8.33M413.3 268.3l8.33 8.33M413.3 276.7l8.33 -8.33M413.3 268.3l8.33 8.33M413.3 276.7l8.33 -8.33M412.3 267.3l8.33 8.33M412.3 275.7l8.33 -8.33M441.3 455.3l8.33 8.33M441.3 463.7l8.33 -8.33M430.3 455.3l8.33 8.33M430.3 463.7l8.33 -8.33M407.3 455.3l8.33 8.33M407.3 463.7l8.33 -8.33M363.3 457.3l8.33 8.33M363.3 465.7l8.33 -8.33M443.3 456.3l8.33 8.33M443.3 464.7l8.33 -8.33M334.3 458.3l8.33 8.33M334.3 466.7l8.33 -8.33M328.3 455.3l8.33 8.33M328.3 463.7l8.33 -8.33M388.3 455.3l8.33 8.33M388.3 463.7l8.33 -8.33M341.3 456.3l8.33 8.33M341.3 464.7l8.33 -8.33M409.3 454.3l8.33 8.33M409.3 462.7l8.33 -8.33M438.3 457.3l8.33 8.33M438.3 465.7l8.33 -8.33M412.3 456.3l8.33 8.33M412.3 464.7l8.33 -8.33M327.3 457.3l8.33 8.33M327.3 465.7l8.33 -8.33M443.3 456.3l8.33 8.33M443.3 464.7l8.33 -8.33M364.3 456.3l8.33 8.33M364.3 464.7l8.33 -8.33M377.3 456.3l8.33 8.33M377.3 464.7l8.33 -8.33M435.3 454.3l8.33 8.33M435.3 462.7l8.33 -8.33M328.3 455.3l8.33 8.33M328.3 463.7l8.33 -8.33M351.3 457.3l8.33 8.33M351.3 465.7l8.33 -8.33M339.3 457.3l8.33 8.33M339.3 465.7l8.33 -8.33M439.3 455.3l8.33 8.33M439.3 463.7l8.33 -8.33M389.3 458.3l8.33 8.33M389.3 466.7l8.33 -8.33M365.3 457.3l8.33 8.33M365.3 465.7l8.33 -8.33M411.3 455.3l8.33 8.33M411.3 463.7l8.33 -8.33M335.3 457.3l8.33 8.33M335.3 465.7l8.33 -8.33M340.3 453.3l8.33 8.33M340.3 461.7l8.33 -8.33M416.3 456.3l8.33 8.33M416.3 464.7l8.33 -8.33M370.3 456.3l8.33 8.33M370.3 464.7l8.33 -8.33M406.3 459.3l8.33 8.33M406.3 467.7l8.33 -8.33M446.3 455.3l8.33 8.33M446.3 463.7l8.33 -8.33M402.3 455.3l8.33 8.33M402.3 463.7l8.33 -8.33M414.3 455.3l8.33 8.33M414.3 463.7l8.33 -8.33M393.3 454.3l8.33 8.33M393.3 462.7l8.33 -8.33M357.3 457.3l8.33 8.33M357.3 465.7l8.33 -8.33M344.3 456.3l8.33 8.33M344.3 464.7l8.33 -8.33M397.3 456.3l8.33 8.33M397.3 464.7l8.33 -8.33M423.3 456.3l8.33 8.33M423.3 464.7l8.33 -8.33M396.3 457.3l8.33 8.33M396.3 465.7l8.33 -8.33M394.3 455.3l8.33 8.33M394.3 463.7l8.33 -8.33M328.3 456.3l8.33 8.33M328.3 464.7l8.33 -8.33M334.3 455.3l8.33 8.33M334.3 463.7l8.33 -8.33M418.3 456.3l8.33 8.33M418.3 464.7l8.33 -8.33M356.3 456.3l8.33 8.33M356.3 464.7l8.33 -8.33M338.3 455.3l8.33 8.33M338.3 463.7l8.33 -8.33M384.3 455.3l8.33 8.33M384.3 463.7l8.33 -8.33M419.3 456.3l8.33 8.33M419.3 464.7l8.33 -8.33M353.3 455.3l8.33 8.33M353.3 463.7l8.33 -8.33M381.3 454.3l8.33 8.33M381.3 462.7l8.33 -8.33M387.3 457.3l8.33 8.33M387.3 465.7l8.33 -8.33M348.3 455.3l8.33 8.33M348.3 463.7l8.33 -8.33M335.3 456.3l8.33 8.33M335.3 464.7l8.33 -8.33M337.3 456.3l8.33 8.33M337.3 464.7l8.33 -8.33M405.3 455.3l8.33 8.33M405.3 463.7l8.33 -8.33M388.3 456.3l8.33 8.33M388.3 464.7l8.33 -8.33M439.3 456.3l8.33 8.33M439.3 464.7l8.33 -8.33M363.3 456.3l8.33 8.33M363.3 464.7l8.33 -8.33M366.3 457.3l8.33 8.33M366.3 465.7l8.33 -8.33M378.3 455.3l8.33 8.33M378.3 463.7l8.33 -8.33M346.3 456.3l8.33 8.33M346.3 464.7l8.33 -8.33M429.3 456.3l8.33 8.33M429.3 464.7l8.33 -8.33M405.3 456.3l8.33 8.33M405.3 464.7l8.33 -8.33M334.3 457.3l8.33 8.33M334.3 465.7l8.33 -8.33M388.3 455.3l8.33 8.33M388.3 463.7l8.33 -8.33M416.3 456.3l8.33 8.33M416.3 464.7l8.33 -8.33M413.3 455.3l8.33 8.33M413.3 463.7l8.33 -8.33M407.3 456.3l8.33 8.33M407.3 464.7l8.33 -8.33M379.3 455.3l8.33 8.33M379.3 463.7l8.33 -8.33M435.3 455.3l8.33 8.33M435.3 463.7l8.33 -8.33M327.3 456.3l8.33 8.33M327.3 464.7l8.33 -8.33M350.3 457.3l8.33 8.33M350.3 465.7l8.33 -8.33M337.3 454.3l8.33 8.33M337.3 462.7l8.33 -8.33M367.3 453.3l8.33 8.33M367.3 461.7l8.33 -8.33M359.3 455.3l8.33 8.33M359.3 463.7l8.33 -8.33M375.3 455.3l8.33 8.33M375.3 463.7l8.33 -8.33M409.3 455.3l8.33 8.33M409.3 463.7l8.33 -8.33M335.3 456.3l8.33 8.33M335.3 464.7l8.33 -8.33M392.3 458.3l8.33 8.33M392.3 466.7l8.33 -8.33M339.3 456.3l8.33 8.33M339.3 464.7l8.33 -8.33M387.3 455.3l8.33 8.33M387.3 463.7l8.33 -8.33M407.3 456.3l8.33 8.33M407.3 464.7l8.33 -8.33M386.3 456.3l8.33 8.33M386.3 464.7l8.33 -8.33M439.3 455.3l8.33 8.33M439.3 463.7l8.33 -8.33M425.3 455.3l8.33 8.33M425.3 463.7l8.33 -8.33M385.3 456.3l8.33 8.33M385.3 464.7l8.33 -8.33M342.3 455.3l8.33 8.33M342.3 463.7l8.33 -8.33M396.3 454.3l8.33 8.33M396.3 462.7l8.33 -8.33M444.3 457.3l8.33 8.33M444.3 465.7l8.33 -8.33M423.3 456.3l8.33 8.33M423.3 464.7l8.33 -8.33M340.3 456.3l8.33 8.33M340.3 464.7l8.33 -8.33M397.3 456.3l8.33 8.33M397.3 464.7l8.33 -8.33M414.3 455.3l8.33 8.33M414.3 463.7l8.33 -8.33M371.3 457.3l8.33 8.33M371.3 465.7l8.33 -8.33M412.3 455.3l8.33 8.33M412.3 463.7l8.33 -8.33M379.3 458.3l8.33 8.33M379.3 466.7l8.33 -8.33M327.3 457.3l8.33 8.33M327.3 465.7l8.33 -8.33M431.3 457.3l8.33 8.33M431.3 465.7l8.33 -8.33M403.3 457.3l8.33 8.33M403.3 465.7l8.33 -8.33M413.3 457.3l8.33 8.33M413.3 465.7l8.33 -8.33M340.3 455.3l8.33 8.33M340.3 463.7l8.33 -8.33M327.3 457.3l8.33 8.33M327.3 465.7l8.33 -8.33M332.3 454.3l8.33 8.33M332.3 462.7l8.33 -8.33M447.3 457.3l8.33 8.33M447.3 465.7l8.33 -8.33M365.3 457.3l8.33 8.33M365.3 465.7l8.33 -8.33M431.3 455.3l8.33 8.33M431.3 463.7l8.33 -8.33M397.3 457.3l8.33 8.33M397.3 465.7l8.33 -8.33M441.3 455.3l8.33 8.33M441.3 463.7l8.33 -8.33M395.3 456.3l8.33 8.33M395.3 464.7l8.33 -8.33M385.3 457.3l8.33 8.33M385.3 465.7l8.33 -8.33M367.3 455.3l8.33 8.33M367.3 463.7l8.33 -8.33M397.3 457.3l8.33 8.33M397.3 465.7l8.33 -8.33M353.3 455.3l8.33 8.33M353.3 463.7l8.33 -8.33M387.3 457.3l8.33 8.33M387.3 465.7l8.33 -8.33M377.3 455.3l8.33 8.33M377.3 463.7l8.33 -8.33M391.3 455.3l8.33 8.33M391.3 463.7l8.33 -8.33M360.3 456.3l8.33 8.33M360.3 464.7l8.33 -8.33M421.3 454.3l8.33 8.33M421.3 462.7l8.33 -8.33M389.3 456.3l8.33 8.33M389.3 464.7l8.33 -8.33M388.3 458.3l8.33 8.33M388.3 466.7l8.33 -8.33M372.3 455.3l8.33 8.33M372.3 463.7l8.33 -8.33M412.3 457.3l8.33 8.33M412.3 465.7l8.33 -8.33M425.3 454.3l8.33 8.33M425.3 462.7l8.33 -8.33M352.3 456.3l8.33 8.33M352.3 464.7l8.33 -8.33M381.3 455.3l8.33 8.33M381.3 463.7l8.33 -8.33M370.3 456.3l8.33 8.33M370.3 464.7l8.33 -8.33M417.3 456.3l8.33 8.33M417.3 464.7l8.33 -8.33M355.3 455.3l8.33 8.33M355.3 463.7l8.33 -8.33M421.3 455.3l8.33 8.33M421.3 463.7l8.33 -8.33M403.3 454.3l8.33 8.33M403.3 462.7l8.33 -8.33M410.3 456.3l8.33 8.33M410.3 464.7l8.33 -8.33M370.3 456.3l8.33 8.33M370.3 464.7l8.33 -8.33M330.3 457.3l8.33 8.33M330.3 465.7l8.33 -8.33M407.3 455.3l8.33 8.33M407.3 463.7l8.33 -8.33M443.3 456.3l8.33 8.33M443.3 464.7l8.33 -8.33M367.3 455.3l8.33 8.33M367.3 463.7l8.33 -8.33M340.3 456.3l8.33 8.33M340.3 464.7l8.33 -8.33M385.3 454.3l8.33 8.33M385.3 462.7l8.33 -8.33M371.3 456.3l8.33 8.33M371.3 464.7l8.33 -8.33M412.3 457.3l8.33 8.33M412.3 465.7l8.33 -8.33M434.3 457.3l8.33 8.33M434.3 465.7l8.33 -8.33M379.3 454.3l8.33 8.33M379.3 462.7l8.33 -8.33M377.3 455.3l8.33 8.33M377.3 463.7l8.33 -8.33M349.3 458.3l8.33 8.33M349.3 466.7l8.33 -8.33M346.3 455.3l8.33 8.33M346.3 463.7l8.33 -8.33M429.3 458.3l8.33 8.33M429.3 466.7l8.33 -8.33M366.3 457.3l8.33 8.33M366.3 465.7l8.33 -8.33M378.3 454.3l8.33 8.33M378.3 462.7l8.33 -8.33M350.3 456.3l8.33 8.33M350.3 464.7l8.33 -8.33M341.3 455.3l8.33 8.33M341.3 463.7l8.33 -8.33M435.3 455.3l8.33 8.33M435.3 463.7l8.33 -8.33M398.3 456.3l8.33 8.33M398.3 464.7l8.33 -8.33M357.3 457.3l8.33 8.33M357.3 465.7l8.33 -8.33M372.3 456.3l8.33 8.33M372.3 464.7l8.33 -8.33M328.3 455.3l8.33 8.33M328.3 463.7l8.33 -8.33M367.3 457.3l8.33 8.33M367.3 465.7l8.33 -8.33M408.3 455.3l8.33 8.33M408.3 463.7l8.33 -8.33M329.3 455.3l8.33 8.33M329.3 463.7l8.33 -8.33M408.3 455.3l8.33 8.33M408.3 463.7l8.33 -8.33M351.3 455.3l8.33 8.33M351.3 463.7l8.33 -8.33M430.3 456.3l8.33 8.33M430.3 464.7l8.33 -8.33M397.3 455.3l8.33 8.33M397.3 463.7l8.33 -8.33M396.3 456.3l8.33 8.33M396.3 464.7l8.33 -8.33M366.3 456.3l8.33 8.33M366.3 464.7l8.33 -8.33M404.3 455.3l8.33 8.33M404.3 463.7l8.33 -8.33M341.3 455.3l8.33 8.33M341.3 463.7l8.33 -8.33M352.3 455.3l8.33 8.33M352.3 463.7l8.33 -8.33M370.3 457.3l8.33 8.33M370.3 465.7l8.33 -8.33M435.3 458.3l8.33 8.33M435.3 466.7l8.33 -8.33M355.3 458.3l8.33 8.33M355.3 466.7l8.33 -8.33M430.3 456.3l8.33 8.33M430.3 464.7l8.33 -8.33M372.3 457.3l8.33 8.33M372.3 465.7l8.33 -8.33M331.3 456.3l8.33 8.33M331.3 464.7l8.33 -8.33M359.3 454.3l8.33 8.33M359.3 462.7l8.33 -8.33M420.3 453.3l8.33 8.33M420.3 461.7l8.33 -8.33M333.3 456.3l8.33 8.33M333.3 464.7l8.33 -8.33M372.3 456.3l8.33 8.33M372.3 464.7l8.33 -8.33M420.3 457.3l8.33 8.33M420.3 465.7l8.33 -8.33M428.3 455.3l8.33 8.33M428.3 463.7l8.33 -8.33M423.3 455.3l8.33 8.33M423.3 463.7l8.33 -8.33M339.3 456.3l8.33 8.33M339.3 464.7l8.33 -8.33M380.3 457.3l8.33 8.33M380.3 465.7l8.33 -8.33M446.3 457.3l8.33 8.33M446.3 465.7l8.33 -8.33M352.3 456.3l8.33 8.33M352.3 464.7l8.33 -8.33M327.3 456.3l8.33 8.33M327.3 464.7l8.33 -8.33M371.3 456.3l8.33 8.33M371.3 464.7l8.33 -8.33M379.3 455.3l8.33 8.33M379.3 463.7l8.33 -8.33M411.3 456.3l8.33 8.33M411.3 464.7l8.33 -8.33M389.3 456.3l8.33 8.33M389.3 464.7l8.33 -8.33M388.3 456.3l8.33 8.33M388.3 464.7l8.33 -8.33M386.3 454.3l8.33 8.33M386.3 462.7l8.33 -8.33M352.3 457.3l8.33 8.33M352.3 465.7l8.33 -8.33M432.3 455.3l8.33 8.33M432.3 463.7l8.33 -8.33M401.3 456.3l8.33 8.33M401.3 464.7l8.33 -8.33M394.3 456.3l8.33 8.33M394.3 464.7l8.33 -8.33M442.3 456.3l8.33 8.33M442.3 464.7l8.33 -8.33M371.3 457.3l8.33 8.33M371.3 465.7l8.33 -8.33M391.3 457.3l8.33 8.33M391.3 465.7l8.33 -8.33M366.3 455.3l8.33 8.33M366.3 463.7l8.33 -8.33M367.3 457.3l8.33 8.33M367.3 465.7l8.33 -8.33M377.3 457.3l8.33 8.33M377.3 465.7l8.33 -8.33M375.3 455.3l8.33 8.33M375.3 463.7l8.33 -8.33M346.3 455.3l8.33 8.33M346.3 463.7l8.33 -8.33M380.3 454.3l8.33 8.33M380.3 462.7l8.33 -8.33M375.3 456.3l8.33 8.33M375.3 464.7l8.33 -8.33M382.3 457.3l8.33 8.33M382.3 465.7l8.33 -8.33M427.3 455.3l8.33 8.33M427.3 463.7l8.33 -8.33M330.3 457.3l8.33 8.33M330.3 465.7l8.33 -8.33M353.3 457.3l8.33 8.33M353.3 465.7l8.33 -8.33M408.3 455.3l8.33 8.33M408.3 463.7l8.33 -8.33M386.3 455.3l8.33 8.33M386.3 463.7l8.33 -8.33M347.3 456.3l8.33 8.33M347.3 464.7l8.33 -8.33M404.3 455.3l8.33 8.33M404.3 463.7l8.33 -8.33M404.3 455.3l8.33 8.33M404.3 463.7l8.33 -8.33M343.3 455.3l8.33 8.33M343.3 463.7l8.33 -8.33M388.3 455.3l8.33 8.33M388.3 463.7l8.33 -8.33M364.3 455.3l8.33 8.33M364.3 463.7l8.33 -8.33M385.3 456.3l8.33 8.33M385.3 464.7l8.33 -8.33M401.3 456.3l8.33 8.33M401.3 464.7l8.33 -8.33M408.3 456.3l8.33 8.33M408.3 464.7l8.33 -8.33M392.3 454.3l8.33 8.33M392.3 462.7l8.33 -8.33M395.3 455.3l8.33 8.33M395.3 463.7l8.33 -8.33M353.3 454.3l8.33 8.33M353.3 462.7l8.33 -8.33M395.3 456.3l8.33 8.33M395.3 464.7l8.33 -8.33M417.3 455.3l8.33 8.33M417.3 463.7l8.33 -8.33M443.3 457.3l8.33 8.33M443.3 465.7l8.33 -8.33M426.3 455.3l8.33 8.33M426.3 463.7l8.33 -8.33M400.3 455.3l8.33 8.33M400.3 463.7l8.33 -8.33M330.3 458.3l8.33 8.33M330.3 466.7l8.33 -8.33M414.3 455.3l8.33 8.33M414.3 463.7l8.33 -8.33M359.3 456.3l8.33 8.33M359.3 464.7l8.33 -8.33M426.3 455.3l8.33 8.33M426.3 463.7l8.33 -8.33M389.3 458.3l8.33 8.33M389.3 466.7l8.33 -8.33M380.3 456.3l8.33 8.33M380.3 464.7l8.33 -8.33M427.3 455.3l8.33 8.33M427.3 463.7l8.33 -8.33M430.3 455.3l8.33 8.33M430.3 463.7l8.33 -8.33M351.3 456.3l8.33 8.33M351.3 464.7l8.33 -8.33M330.3 455.3l8.33 8.33M330.3 463.7l8.33 -8.33M367.3 456.3l8.33 8.33M367.3 464.7l8.33 -8.33M402.3 456.3l8.33 8.33M402.3 464.7l8.33 -8.33M341.3 456.3l8.33 8.33M341.3 464.7l8.33 -8.33M360.3 456.3l8.33 8.33M360.3 464.7l8.33 -8.33M437.3 457.3l8.33 8.33M437.3 465.7l8.33 -8.33M446.3 455.3l8.33 8.33M446.3 463.7l8.33 -8.33M380.3 456.3l8.33 8.33M380.3 464.7l8.33 -8.33M438.3 455.3l8.33 8.33M438.3 463.7l8.33 -8.33M424.3 456.3l8.33 8.33M424.3 464.7l8.33 -8.33M338.3 455.3l8.33 8.33M338.3 463.7l8.33 -8.33M438.3 454.3l8.33 8.33M438.3 462.7l8.33 -8.33M430.3 455.3l8.33 8.33M430.3 463.7l8.33 -8.33M344.3 455.3l8.33 8.33M344.3 463.7l8.33 -8.33M421.3 455.3l8.33 8.33M421.3 463.7l8.33 -8.33M381.3 457.3l8.33 8.33M381.3 465.7l8.33 -8.33M360.3 458.3l8.33 8.33M360.3 466.7l8.33 -8.33M416.3 456.3l8.33 8.33M416.3 464.7l8.33 -8.33M410.3 455.3l8.33 8.33M410.3 463.7l8.33 -8.33M374.3 456.3l8.33 8.33M374.3 464.7l8.33 -8.33M441.3 456.3l8.33 8.33M441.3 464.7l8.33 -8.33M371.3 455.3l8.33 8.33M371.3 463.7l8.33 -8.33M330.3 456.3l8.33 8.33M330.3 464.7l8.33 -8.33M417.3 456.3l8.33 8.33M417.3 464.7l8.33 -8.33M370.3 454.3l8.33 8.33M370.3 462.7l8.33 -8.33M352.3 455.3l8.33 8.33M352.3 463.7l8.33 -8.33M406.3 457.3l8.33 8.33M406.3 465.7l8.33 -8.33M375.3 455.3l8.33 8.33M375.3 463.7l8.33 -8.33M437.3 456.3l8.33 8.33M437.3 464.7l8.33 -8.33M383.3 454.3l8.33 8.33M383.3 462.7l8.33 -8.33M350.3 456.3l8.33 8.33M350.3 464.7l8.33 -8.33M414.3 455.3l8.33 8.33M414.3 463.7l8.33 -8.33M338.3 457.3l8.33 8.33M338.3 465.7l8.33 -8.33M360.3 455.3l8.33 8.33M360.3 463.7l8.33 -8.33M372.3 455.3l8.33 8.33M372.3 463.7l8.33 -8.33M396.3 456.3l8.33 8.33M396.3 464.7l8.33 -8.33M327.3 457.3l8.33 8.33M327.3 465.7l8.33 -8.33M423.3 456.3l8.33 8.33M423.3 464.7l8.33 -8.33M393.3 458.3l8.33 8.33M393.3 466.7l8.33 -8.33M399.3 455.3l8.33 8.33M399.3 463.7l8.33 -8.33M420.3 455.3l8.33 8.33M420.3 463.7l8.33 -8.33M362.3 457.3l8.33 8.33M362.3 465.7l8.33 -8.33M408.3 454.3l8.33 8.33M408.3 462.7l8.33 -8.33M425.3 454.3l8.33 8.33M425.3 462.7l8.33 -8.33M441.3 456.3l8.33 8.33M441.3 464.7l8.33 -8.33M349.3 457.3l8.33 8.33M349.3 465.7l8.33 -8.33M388.3 456.3l8.33 8.33M388.3 464.7l8.33 -8.33M344.3 456.3l8.33 8.33M344.3 464.7l8.33 -8.33M373.3 458.3l8.33 8.33M373.3 466.7l8.33 -8.33M344.3 456.3l8.33 8.33M344.3 464.7l8.33 -8.33M349.3 457.3l8.33 8.33M349.3 465.7l8.33 -8.33M384.3 455.3l8.33 8.33M384.3 463.7l8.33 -8.33M387.3 455.3l8.33 8.33M387.3 463.7l8.33 -8.33M427.3 458.3l8.33 8.33M427.3 466.7l8.33 -8.33M351.3 456.3l8.33 8.33M351.3 464.7l8.33 -8.33M331.3 456.3l8.33 8.33M331.3 464.7l8.33 -8.33M391.3 454.3l8.33 8.33M391.3 462.7l8.33 -8.33M353.3 456.3l8.33 8.33M353.3 464.7l8.33 -8.33M414.3 455.3l8.33 8.33M414.3 463.7l8.33 -8.33M354.3 454.3l8.33 8.33M354.3 462.7l8.33 -8.33M371.3 455.3l8.33 8.33M371.3 463.7l8.33 -8.33M384.3 457.3l8.33 8.33M384.3 465.7l8.33 -8.33M410.3 456.3l8.33 8.33M410.3 464.7l8.33 -8.33M345.3 454.3l8.33 8.33M345.3 462.7l8.33 -8.33M339.3 455.3l8.33 8.33M339.3 463.7l8.33 -8.33M428.3 456.3l8.33 8.33M428.3 464.7l8.33 -8.33M356.3 455.3l8.33 8.33M356.3 463.7l8.33 -8.33M337.3 456.3l8.33 8.33M337.3 464.7l8.33 -8.33M385.3 456.3l8.33 8.33M385.3 464.7l8.33 -8.33M357.3 455.3l8.33 8.33M357.3 463.7l8.33 -8.33M371.3 457.3l8.33 8.33M371.3 465.7l8.33 -8.33M422.3 456.3l8.33 8.33M422.3 464.7l8.33 -8.33M353.3 455.3l8.33 8.33M353.3 463.7l8.33 -8.33M327.3 455.3l8.33 8.33M327.3 463.7l8.33 -8.33M411.3 456.3l8.33 8.33M411.3 464.7l8.33 -8.33M421.3 456.3l8.33 8.33M421.3 464.7l8.33 -8.33M331.3 456.3l8.33 8.33M331.3 464.7l8.33 -8.33M418.3 454.3l8.33 8.33M418.3 462.7l8.33 -8.33M374.3 457.3l8.33 8.33M374.3 465.7l8.33 -8.33M364.3 458.3l8.33 8.33M364.3 466.7l8.33 -8.33M388.3 457.3l8.33 8.33M388.3 465.7l8.33 -8.33M380.3 454.3l8.33 8.33M380.3 462.7l8.33 -8.33M427.3 456.3l8.33 8.33M427.3 464.7l8.33 -8.33M384.3 456.3l8.33 8.33M384.3 464.7l8.33 -8.33M434.3 457.3l8.33 8.33M434.3 465.7l8.33 -8.33M376.3 455.3l8.33 8.33M376.3 463.7l8.33 -8.33M382.3 455.3l8.33 8.33M382.3 463.7l8.33 -8.33M396.3 456.3l8.33 8.33M396.3 464.7l8.33 -8.33M431.3 457.3l8.33 8.33M431.3 465.7l8.33 -8.33M336.3 454.3l8.33 8.33M336.3 462.7l8.33 -8.33M444.3 457.3l8.33 8.33M444.3 465.7l8.33 -8.33M328.3 455.3l8.33 8.33M328.3 463.7l8.33 -8.33M428.3 455.3l8.33 8.33M428.3 463.7l8.33 -8.33M383.3 456.3l8.33 8.33M383.3 464.7l8.33 -8.33M412.3 456.3l8.33 8.33M412.3 464.7l8.33 -8.33M414.3 456.3l8.33 8.33M414.3 464.7l8.33 -8.33M406.3 457.3l8.33 8.33M406.3 465.7l8.33 -8.33M406.3 457.3l8.33 8.33M406.3 465.7l8.33 -8.33M366.3 456.3l8.33 8.33M366.3 464.7l8.33 -8.33M398.3 455.3l8.33 8.33M398.3 463.7l8.33 -8.33M407.3 456.3l8.33 8.33M407.3 464.7l8.33 -8.33M361.3 456.3l8.33 8.33M361.3 464.7l8.33 -8.33M392.3 455.3l8.33 8.33M392.3 463.7l8.33 -8.33M424.3 457.3l8.33 8.33M424.3 465.7l8.33 -8.33M335.3 457.3l8.33 8.33M335.3 465.7l8.33 -8.33M439.3 457.3l8.33 8.33M439.3 465.7l8.33 -8.33M371.3 456.3l8.33 8.33M371.3 464.7l8.33 -8.33M348.3 455.3l8.33 8.33M348.3 463.7l8.33 -8.33M376.3 456.3l8.33 8.33M376.3 464.7l8.33 -8.33M341.3 455.3l8.33 8.33M341.3 463.7l8.33 -8.33M443.3 456.3l8.33 8.33M443.3 464.7l8.33 -8.33M373.3 455.3l8.33 8.33M373.3 463.7l8.33 -8.33M443.3 456.3l8.33 8.33M443.3 464.7l8.33 -8.33M365.3 455.3l8.33 8.33M365.3 463.7l8.33 -8.33M374.3 454.3l8.33 8.33M374.3 462.7l8.33 -8.33M418.3 456.3l8.33 8.33M418.3 464.7l8.33 -8.33M332.3 456.3l8.33 8.33M332.3 464.7l8.33 -8.33M381.3 456.3l8.33 8.33M381.3 464.7l8.33 -8.33M380.3 455.3l8.33 8.33M380.3 463.7l8.33 -8.33M418.3 456.3l8.33 8.33M418.3 464.7l8.33 -8.33M389.3 456.3l8.33 8.33M389.3 464.7l8.33 -8.33M378.3 458.3l8.33 8.33M378.3 466.7l8.33 -8.33M355.3 455.3l8.33 8.33M355.3 463.7l8.33 -8.33M394.3 455.3l8.33 8.33M394.3 463.7l8.33 -8.33M380.3 456.3l8.33 8.33M380.3 464.7l8.33 -8.33M437.3 455.3l8.33 8.33M437.3 463.7l8.33 -8.33M412.3 457.3l8.33 8.33M412.3 465.7l8.33 -8.33M334.3 456.3l8.33 8.33M334.3 464.7l8.33 -8.33M363.3 455.3l8.33 8.33M363.3 463.7l8.33 -8.33M413.3 457.3l8.33 8.33M413.3 465.7l8.33 -8.33M342.3 456.3l8.33 8.33M342.3 464.7l8.33 -8.33M384.3 456.3l8.33 8.33M384.3 464.7l8.33 -8.33M353.3 456.3l8.33 8.33M353.3 464.7l8.33 -8.33M336.3 456.3l8.33 8.33M336.3 464.7l8.33 -8.33M389.3 456.3l8.33 8.33M389.3 464.7l8.33 -8.33M343.3 456.3l8.33 8.33M343.3 464.7l8.33 -8.33M357.3 455.3l8.33 8.33M357.3 463.7l8.33 -8.33M356.3 456.3l8.33 8.33M356.3 464.7l8.33 -8.33M416.3 455.3l8.33 8.33M416.3 463.7l8.33 -8.33M338.3 457.3l8.33 8.33M338.3 465.7l8.33 -8.33M399.3 455.3l8.33 8.33M399.3 463.7l8.33 -8.33M431.3 456.3l8.33 8.33M431.3 464.7l8.33 -8.33M410.3 456.3l8.33 8.33M410.3 464.7l8.33 -8.33M397.3 456.3l8.33 8.33M397.3 464.7l8.33 -8.33M386.3 455.3l8.33 8.33M386.3 463.7l8.33 -8.33M349.3 455.3l8.33 8.33M349.3 463.7l8.33 -8.33M397.3 456.3l8.33 8.33M397.3 464.7l8.33 -8.33M363.3 455.3l8.33 8.33M363.3 463.7l8.33 -8.33M337.3 457.3l8.33 8.33M337.3 465.7l8.33 -8.33M423.3 455.3l8.33 8.33M423.3 463.7l8.33 -8.33M340.3 456.3l8.33 8.33M340.3 464.7l8.33 -8.33M388.3 454.3l8.33 8.33M388.3 462.7l8.33 -8.33M372.3 456.3l8.33 8.33M372.3 464.7l8.33 -8.33M376.3 456.3l8.33 8.33M376.3 464.7l8.33 -8.33M445.3 455.3l8.33 8.33M445.3 463.7l8.33 -8.33M434.3 458.3l8.33 8.33M434.3 466.7l8.33 -8.33M357.3 456.3l8.33 8.33M357.3 464.7l8.33 -8.33M425.3 455.3l8.33 8.33M425.3 463.7l8.33 -8.33M447.3 455.3l8.33 8.33M447.3 463.7l8.33 -8.33M405.3 456.3l8.33 8.33M405.3 464.7l8.33 -8.33M336.3 455.3l8.33 8.33M336.3 463.7l8.33 -8.33M431.3 456.3l8.33 8.33M431.3 464.7l8.33 -8.33M401.3 456.3l8.33 8.33M401.3 464.7l8.33 -8.33M350.3 454.3l8.33 8.33M350.3 462.7l8.33 -8.33M338.3 456.3l8.33 8.33M338.3 464.7l8.33 -8.33M406.3 457.3l8.33 8.33M406.3 465.7l8.33 -8.33M405.3 456.3l8.33 8.33M405.3 464.7l8.33 -8.33M409.3 456.3l8.33 8.33M409.3 464.7l8.33 -8.33M442.3 456.3l8.33 8.33M442.3 464.7l8.33 -8.33M374.3 455.3l8.33 8.33M374.3 463.7l8.33 -8.33M410.3 456.3l8.33 8.33M410.3 464.7l8.33 -8.33M416.3 455.3l8.33 8.33M416.3 463.7l8.33 -8.33M395.3 455.3l8.33 8.33M395.3 463.7l8.33 -8.33M389.3 457.3l8.33 8.33M389.3 465.7l8.33 -8.33M443.3 458.3l8.33 8.33M443.3 466.7l8.33 -8.33M420.3 457.3l8.33 8.33M420.3 465.7l8.33 -8.33M428.3 456.3l8.33 8.33M428.3 464.7l8.33 -8.33M355.3 456.3l8.33 8.33M355.3 464.7l8.33 -8.33M440.3 454.3l8.33 8.33M440.3 462.7l8.33 -8.33M427.3 456.3l8.33 8.33M427.3 464.7l8.33 -8.33M421.3 455.3l8.33 8.33M421.3 463.7l8.33 -8.33M384.3 455.3l8.33 8.33M384.3 463.7l8.33 -8.33M423.3 457.3l8.33 8.33M423.3 465.7l8.33 -8.33M428.3 457.3l8.33 8.33M428.3 465.7l8.33 -8.33M347.3 454.3l8.33 8.33M347.3 462.7l8.33 -8.33M345.3 455.3l8.33 8.33M345.3 463.7l8.33 -8.33M367.3 455.3l8.33 8.33M367.3 463.7l8.33 -8.33M339.3 457.3l8.33 8.33M339.3 465.7l8.33 -8.33M353.3 457.3l8.33 8.33M353.3 465.7l8.33 -8.33M429.3 455.3l8.33 8.33M429.3 463.7l8.33 -8.33M363.3 457.3l8.33 8.33M363.3 465.7l8.33 -8.33M359.3 456.3l8.33 8.33M359.3 464.7l8.33 -8.33M379.3 456.3l8.33 8.33M379.3 464.7l8.33 -8.33M372.3 458.3l8.33 8.33M372.3 466.7l8.33 -8.33M372.3 456.3l8.33 8.33M372.3 464.7l8.33 -8.33M327.3 456.3l8.33 8.33M327.3 464.7l8.33 -8.33M357.3 456.3l8.33 8.33M357.3 464.7l8.33 -8.33M329.3 457.3l8.33 8.33M329.3 465.7l8.33 -8.33M397.3 457.3l8.33 8.33M397.3 465.7l8.33 -8.33M387.3 456.3l8.33 8.33M387.3 464.7l8.33 -8.33M443.3 457.3l8.33 8.33M443.3 465.7l8.33 -8.33M371.3 458.3l8.33 8.33M371.3 466.7l8.33 -8.33M342.3 456.3l8.33 8.33M342.3 464.7l8.33 -8.33M429.3 457.3l8.33 8.33M429.3 465.7l8.33 -8.33M424.3 456.3l8.33 8.33M424.3 464.7l8.33 -8.33M410.3 454.3l8.33 8.33M410.3 462.7l8.33 -8.33M345.3 455.3l8.33 8.33M345.3 463.7l8.33 -8.33M392.3 456.3l8.33 8.33M392.3 464.7l8.33 -8.33M350.3 457.3l8.33 8.33M350.3 465.7l8.33 -8.33M412.3 454.3l8.33 8.33M412.3 462.7l8.33 -8.33M402.3 455.3l8.33 8.33M402.3 463.7l8.33 -8.33M399.3 457.3l8.33 8.33M399.3 465.7l8.33 -8.33M395.3 455.3l8.33 8.33M395.3 463.7l8.33 -8.33M366.3 457.3l8.33 8.33M366.3 465.7l8.33 -8.33M339.3 455.3l8.33 8.33M339.3 463.7l8.33 -8.33M367.3 455.3l8.33 8.33M367.3 463.7l8.33 -8.33M404.3 453.3l8.33 8.33M404.3 461.7l8.33 -8.33M406.3 457.3l8.33 8.33M406.3 465.7l8.33 -8.33M380.3 455.3l8.33 8.33M380.3 463.7l8.33 -8.33M382.3 456.3l8.33 8.33M382.3 464.7l8.33 -8.33M340.3 455.3l8.33 8.33M340.3 463.7l8.33 -8.33M401.3 456.3l8.33 8.33M401.3 464.7l8.33 -8.33M409.3 455.3l8.33 8.33M409.3 463.7l8.33 -8.33M434.3 456.3l8.33 8.33M434.3 464.7l8.33 -8.33M386.3 456.3l8.33 8.33M386.3 464.7l8.33 -8.33M367.3 459.3l8.33 8.33M367.3 467.7l8.33 -8.33M380.3 455.3l8.33 8.33M380.3 463.7l8.33 -8.33M422.3 455.3l8.33 8.33M422.3 463.7l8.33 -8.33M444.3 455.3l8.33 8.33M444.3 463.7l8.33 -8.33M348.3 457.3l8.33 8.33M348.3 465.7l8.33 -8.33M329.3 456.3l8.33 8.33M329.3 464.7l8.33 -8.33M384.3 454.3l8.33 8.33M384.3 462.7l8.33 -8.33M376.3 457.3l8.33 8.33M376.3 465.7l8.33 -8.33M429.3 456.3l8.33 8.33M429.3 464.7l8.33 -8.33M355.3 454.3l8.33 8.33M355.3 462.7l8.33 -8.33M363.3 455.3l8.33 8.33M363.3 463.7l8.33 -8.33M404.3 456.3l8.33 8.33M404.3 464.7l8.33 -8.33M387.3 455.3l8.33 8.33M387.3 463.7l8.33 -8.33M447.3 457.3l8.33 8.33M447.3 465.7l8.33 -8.33M351.3 456.3l8.33 8.33M351.3 464.7l8.33 -8.33M338.3 456.3l8.33 8.33M338.3 464.7l8.33 -8.33M333.3 454.3l8.33 8.33M333.3 462.7l8.33 -8.33M411.3 457.3l8.33 8.33M411.3 465.7l8.33 -8.33M443.3 456.3l8.33 8.33M443.3 464.7l8.33 -8.33M396.3 455.3l8.33 8.33M396.3 463.7l8.33 -8.33M328.3 455.3l8.33 8.33M328.3 463.7l8.33 -8.33M401.3 456.3l8.33 8.33M401.3 464.7l8.33 -8.33M334.3 455.3l8.33 8.33M334.3 463.7l8.33 -8.33M386.3 455.3l8.33 8.33M386.3 463.7l8.33 -8.33M375.3 457.3l8.33 8.33M375.3 465.7l8.33 -8.33M423.3 457.3l8.33 8.33M423.3 465.7l8.33 -8.33M399.3 457.3l8.33 8.33M399.3 465.7l8.33 -8.33M431.3 457.3l8.33 8.33M431.3 465.7l8.33 -8.33M445.3 456.3l8.33 8.33M445.3 464.7l8.33 -8.33M432.3 455.3l8.33 8.33M432.3 463.7l8.33 -8.33M407.3 455.3l8.33 8.33M407.3 463.7l8.33 -8.33M426.3 458.3l8.33 8.33M426.3 466.7l8.33 -8.33M434.3 456.3l8.33 8.33M434.3 464.7l8.33 -8.33M372.3 457.3l8.33 8.33M372.3 465.7l8.33 -8.33M362.3 456.3l8.33 8.33M362.3 464.7l8.33 -8.33M366.3 454.3l8.33 8.33M366.3 462.7l8.33 -8.33M392.3 457.3l8.33 8.33M392.3 465.7l8.33 -8.33M437.3 455.3l8.33 8.33M437.3 463.7l8.33 -8.33M395.3 456.3l8.33 8.33M395.3 464.7l8.33 -8.33M382.3 456.3l8.33 8.33M382.3 464.7l8.33 -8.33M393.3 455.3l8.33 8.33M393.3 463.7l8.33 -8.33M402.3 453.3l8.33 8.33M402.3 461.7l8.33 -8.33M384.3 455.3l8.33 8.33M384.3 463.7l8.33 -8.33M411.3 455.3l8.33 8.33M411.3 463.7l8.33 -8.33M441.3 457.3l8.33 8.33M441.3 465.7l8.33 -8.33M432.3 456.3l8.33 8.33M432.3 464.7l8.33 -8.33M334.3 456.3l8.33 8.33M334.3 464.7l8.33 -8.33M405.3 455.3l8.33 8.33M405.3 463.7l8.33 -8.33M423.3 456.3l8.33 8.33M423.3 464.7l8.33 -8.33M354.3 457.3l8.33 8.33M354.3 465.7l8.33 -8.33M411.3 454.3l8.33 8.33M411.3 462.7l8.33 -8.33M366.3 455.3l8.33 8.33M366.3 463.7l8.33 -8.33M397.3 457.3l8.33 8.33M397.3 465.7l8.33 -8.33M441.3 455.3l8.33 8.33M441.3 463.7l8.33 -8.33M356.3 455.3l8.33 8.33M356.3 463.7l8.33 -8.33M368.3 456.3l8.33 8.33M368.3 464.7l8.33 -8.33M423.3 456.3l8.33 8.33M423.3 464.7l8.33 -8.33M420.3 457.3l8.33 8.33M420.3 465.7l8.33 -8.33M439.3 456.3l8.33 8.33M439.3 464.7l8.33 -8.33M386.3 456.3l8.33 8.33M386.3 464.7l8.33 -8.33M439.3 457.3l8.33 8.33M439.3 465.7l8.33 -8.33M374.3 457.3l8.33 8.33M374.3 465.7l8.33 -8.33M393.3 456.3l8.33 8.33M393.3 464.7l8.33 -8.33M366.3 456.3l8.33 8.33M366.3 464.7l8.33 -8.33M345.3 456.3l8.33 8.33M345.3 464.7l8.33 -8.33M411.3 456.3l8.33 8.33M411.3 464.7l8.33 -8.33M396.3 457.3l8.33 8.33M396.3 465.7l8.33 -8.33M388.3 457.3l8.33 8.33M388.3 465.7l8.33 -8.33M344.3 456.3l8.33 8.33M344.3 464.7l8.33 -8.33M353.3 454.3l8.33 8.33M353.3 462.7l8.33 -8.33M440.3 456.3l8.33 8.33M440.3 464.7l8.33 -8.33M327.3 455.3l8.33 8.33M327.3 463.7l8.33 -8.33M431.3 456.3l8.33 8.33M431.3 464.7l8.33 -8.33M419.3 455.3l8.33 8.33M419.3 463.7l8.33 -8.33M420.3 454.3l8.33 8.33M420.3 462.7l8.33 -8.33M445.3 454.3l8.33 8.33M445.3 462.7l8.33 -8.33M366.3 457.3l8.33 8.33M366.3 465.7l8.33 -8.33M364.3 454.3l8.33 8.33M364.3 462.7l8.33 -8.33M409.3 455.3l8.33 8.33M409.3 463.7l8.33 -8.33M395.3 454.3l8.33 8.33M395.3 462.7l8.33 -8.33M360.3 456.3l8.33 8.33M360.3 464.7l8.33 -8.33M343.3 457.3l8.33 8.33M343.3 465.7l8.33 -8.33M430.3 456.3l8.33 8.33M430.3 464.7l8.33 -8.33M411.3 455.3l8.33 8.33M411.3 463.7l8.33 -8.33M408.3 457.3l8.33 8.33M408.3 465.7l8.33 -8.33M419.3 457.3l8.33 8.33M419.3 465.7l8.33 -8.33M363.3 456.3l8.33 8.33M363.3 464.7l8.33 -8.33M419.3 456.3l8.33 8.33M419.3 464.7l8.33 -8.33M383.3 456.3l8.33 8.33M383.3 464.7l8.33 -8.33M339.3 455.3l8.33 8.33M339.3 463.7l8.33 -8.33M369.3 456.3l8.33 8.33M369.3 464.7l8.33 -8.33M335.3 455.3l8.33 8.33M335.3 463.7l8.33 -8.33M417.3 457.3l8.33 8.33M417.3 465.7l8.33 -8.33M337.3 457.3l8.33 8.33M337.3 465.7l8.33 -8.33M356.3 455.3l8.33 8.33M356.3 463.7l8.33 -8.33M376.3 454.3l8.33 8.33M376.3 462.7l8.33 -8.33M381.3 457.3l8.33 8.33M381.3 465.7l8.33 -8.33M356.3 456.3l8.33 8.33M356.3 464.7l8.33 -8.33M422.3 455.3l8.33 8.33M422.3 463.7l8.33 -8.33M391.3 454.3l8.33 8.33M391.3 462.7l8.33 -8.33M411.3 456.3l8.33 8.33M411.3 464.7l8.33 -8.33M362.3 456.3l8.33 8.33M362.3 464.7l8.33 -8.33M361.3 456.3l8.33 8.33M361.3 464.7l8.33 -8.33M366.3 455.3l8.33 8.33M366.3 463.7l8.33 -8.33M361.3 457.3l8.33 8.33M361.3 465.7l8.33 -8.33M384.3 455.3l8.33 8.33M384.3 463.7l8.33 -8.33M372.3 458.3l8.33 8.33M372.3 466.7l8.33 -8.33M381.3 455.3l8.33 8.33M381.3 463.7l8.33 -8.33M395.3 456.3l8.33 8.33M395.3 464.7l8.33 -8.33M358.3 455.3l8.33 8.33M358.3 463.7l8.33 -8.33M339.3 454.3l8.33 8.33M339.3 462.7l8.33 -8.33M345.3 456.3l8.33 8.33M345.3 464.7l8.33 -8.33M379.3 457.3l8.33 8.33M379.3 465.7l8.33 -8.33M373.3 456.3l8.33 8.33M373.3 464.7l8.33 -8.33M428.3 456.3l8.33 8.33M428.3 464.7l8.33 -8.33M341.3 455.3l8.33 8.33M341.3 463.7l8.33 -8.33M403.3 456.3l8.33 8.33M403.3 464.7l8.33 -8.33M406.3 453.3l8.33 8.33M406.3 461.7l8.33 -8.33M364.3 455.3l8.33 8.33M364.3 463.7l8.33 -8.33M380.3 456.3l8.33 8.33M380.3 464.7l8.33 -8.33M383.3 458.3l8.33 8.33M383.3 466.7l8.33 -8.33M438.3 455.3l8.33 8.33M438.3 463.7l8.33 -8.33M384.3 456.3l8.33 8.33M384.3 464.7l8.33 -8.33M437.3 456.3l8.33 8.33M437.3 464.7l8.33 -8.33M404.3 456.3l8.33 8.33M404.3 464.7l8.33 -8.33M446.3 455.3l8.33 8.33M446.3 463.7l8.33 -8.33M330.3 457.3l8.33 8.33M330.3 465.7l8.33 -8.33M372.3 454.3l8.33 8.33M372.3 462.7l8.33 -8.33M426.3 456.3l8.33 8.33M426.3 464.7l8.33 -8.33M383.3 457.3l8.33 8.33M383.3 465.7l8.33 -8.33M376.3 456.3l8.33 8.33M376.3 464.7l8.33 -8.33M415.3 457.3l8.33 8.33M415.3 465.7l8.33 -8.33M337.3 456.3l8.33 8.33M337.3 464.7l8.33 -8.33M372.3 456.3l8.33 8.33M372.3 464.7l8.33 -8.33M376.3 454.3l8.33 8.33M376.3 462.7l8.33 -8.33M440.3 455.3l8.33 8.33M440.3 463.7l8.33 -8.33M403.3 455.3l8.33 8.33M403.3 463.7l8.33 -8.33M335.3 456.3l8.33 8.33M335.3 464.7l8.33 -8.33M389.3 455.3l8.33 8.33M389.3 463.7l8.33 -8.33M445.3 455.3l8.33 8.33M445.3 463.7l8.33 -8.33M376.3 455.3l8.33 8.33M376.3 463.7l8.33 -8.33M347.3 457.3l8.33 8.33M347.3 465.7l8.33 -8.33M440.3 455.3l8.33 8.33M440.3 463.7l8.33 -8.33M378.3 455.3l8.33 8.33M378.3 463.7l8.33 -8.33M357.3 455.3l8.33 8.33M357.3 463.7l8.33 -8.33M380.3 457.3l8.33 8.33M380.3 465.7l8.33 -8.33M445.3 455.3l8.33 8.33M445.3 463.7l8.33 -8.33M333.3 455.3l8.33 8.33M333.3 463.7l8.33 -8.33M346.3 455.3l8.33 8.33M346.3 463.7l8.33 -8.33M434.3 457.3l8.33 8.33M434.3 465.7l8.33 -8.33M355.3 456.3l8.33 8.33M355.3 464.7l8.33 -8.33M391.3 455.3l8.33 8.33M391.3 463.7l8.33 -8.33M391.3 456.3l8.33 8.33M391.3 464.7l8.33 -8.33M407.3 456.3l8.33 8.33M407.3 464.7l8.33 -8.33M410.3 454.3l8.33 8.33M410.3 462.7l8.33 -8.33M425.3 457.3l8.33 8.33M425.3 465.7l8.33 -8.33M363.3 457.3l8.33 8.33M363.3 465.7l8.33 -8.33M405.3 456.3l8.33 8.33M405.3 464.7l8.33 -8.33M354.3 457.3l8.33 8.33M354.3 465.7l8.33 -8.33M331.3 456.3l8.33 8.33M331.3 464.7l8.33 -8.33M415.3 455.3l8.33 8.33M415.3 463.7l8.33 -8.33M380.3 455.3l8.33 8.33M380.3 463.7l8.33 -8.33M355.3 456.3l8.33 8.33M355.3 464.7l8.33 -8.33M425.3 456.3l8.33 8.33M425.3 464.7l8.33 -8.33M381.3 456.3l8.33 8.33M381.3 464.7l8.33 -8.33M424.3 455.3l8.33 8.33M424.3 463.7l8.33 -8.33M398.3 455.3l8.33 8.33M398.3 463.7l8.33 -8.33M394.3 455.3l8.33 8.33M394.3 463.7l8.33 -8.33M349.3 457.3l8.33 8.33M349.3 465.7l8.33 -8.33M391.3 455.3l8.33 8.33M391.3 463.7l8.33 -8.33M403.3 456.3l8.33 8.33M403.3 464.7l8.33 -8.33M354.3 456.3l8.33 8.33M354.3 464.7l8.33 -8.33M428.3 457.3l8.33 8.33M428.3 465.7l8.33 -8.33M431.3 456.3l8.33 8.33M431.3 464.7l8.33 -8.33M421.3 456.3l8.33 8.33M421.3 464.7l8.33 -8.33M354.3 455.3l8.33 8.33M354.3 463.7l8.33 -8.33M411.3 455.3l8.33 8.33M411.3 463.7l8.33 -8.33M369.3 457.3l8.33 8.33M369.3 465.7l8.33 -8.33M418.3 454.3l8.33 8.33M418.3 462.7l8.33 -8.33M445.3 455.3l8.33 8.33M445.3 463.7l8.33 -8.33M372.3 456.3l8.33 8.33M372.3 464.7l8.33 -8.33M432.3 456.3l8.33 8.33M432.3 464.7l8.33 -8.33M330.3 455.3l8.33 8.33M330.3 463.7l8.33 -8.33M419.3 455.3l8.33 8.33M419.3 463.7l8.33 -8.33M364.3 456.3l8.33 8.33M364.3 464.7l8.33 -8.33M393.3 457.3l8.33 8.33M393.3 465.7l8.33 -8.33M418.3 455.3l8.33 8.33M418.3 463.7l8.33 -8.33M419.3 456.3l8.33 8.33M419.3 464.7l8.33 -8.33M353.3 456.3l8.33 8.33M353.3 464.7l8.33 -8.33M358.3 456.3l8.33 8.33M358.3 464.7l8.33 -8.33M346.3 375.3l8.33 8.33M346.3 383.7l8.33 -8.33M366.3 404.3l8.33 8.33M366.3 412.7l8.33 -8.33M375.3 378.3l8.33 8.33M375.3 386.7l8.33 -8.33M360.3 411.3l8.33 8.33M360.3 419.7l8.33 -8.33M351.3 440.3l8.33 8.33M351.3 448.7l8.33 -8.33" stroke="#0000ff" stroke-width="0.9" fill="none"/>
<g fill="#000"><circle cx="331.5" cy="459.5" r="4.6"/><circle cx="333.5" cy="459.5" r="4.6"/><circle cx="335.5" cy="460.5" r="4.6"/><circle cx="337.5" cy="460.5" r="4.6"/><circle cx="339.5" cy="460.5" r="4.6"/><circle cx="341.5" cy="459.5" r="4.6"/><circle cx="343.5" cy="460.5" r="4.6"/><circle cx="345.5" cy="461.5" r="4.6"/><circle cx="347.5" cy="459.5" r="4.6"/><circle cx="349.5" cy="459.5" r="4.6"/><circle cx="351.5" cy="460.5" r="4.6"/><circle cx="353.5" cy="460.5" r="4.6"/><circle cx="355.5" cy="460.5" r="4.6"/><circle cx="357.5" cy="460.5" r="4.6"/><circle cx="359.5" cy="459.5" r="4.6"/><circle cx="361.5" cy="461.5" r="4.6"/><circle cx="363.5" cy="460.5" r="4.6"/><circle cx="365.5" cy="460.5" r="4.6"/><circle cx="367.5" cy="460.5" r="4.6"/><circle cx="369.5" cy="460.5" r="4.6"/><circle cx="371.5" cy="460.5" r="4.6"/><circle cx="373.5" cy="460.5" r="4.6"/><circle cx="375.5" cy="460.5" r="4.6"/><circle cx="377.5" cy="460.5" r="4.6"/><circle cx="379.5" cy="460.5" r="4.6"/><circle cx="381.5" cy="460.5" r="4.6"/><circle cx="383.5" cy="461.5" r="4.6"/><circle cx="385.5" cy="459.5" r="4.6"/><circle cx="387.5" cy="460.5" r="4.6"/><circle cx="395.5" cy="461.5" r="4.6"/><circle cx="397.5" cy="460.5" r="4.6"/><circle cx="399.5" cy="459.5" r="4.6"/><circle cx="401.5" cy="460.5" r="4.6"/><circle cx="403.5" cy="461.5" r="4.6"/><circle cx="405.5" cy="460.5" r="4.6"/><circle cx="407.5" cy="460.5" r="4.6"/><circle cx="409.5" cy="460.5" r="4.6"/><circle cx="411.5" cy="460.5" r="4.6"/><circle cx="413.5" cy="460.5" r="4.6"/><circle cx="415.5" cy="461.5" r="4.6"/><circle cx="417.5" cy="460.5" r="4.6"/><circle cx="419.5" cy="460.5" r="4.6"/><circle cx="362.5" cy="463.5" r="4.6"/><circle cx="375.5" cy="463.5" r="4.6"/><circle cx="409.5" cy="463.5" r="4.6"/><circle cx="415.5" cy="463.5" r="4.6"/><circle cx="340.5" cy="462.5" r="4.6"/><circle cx="350.5" cy="462.5" r="4.6"/><circle cx="395.5" cy="462.5" r="4.6"/><circle cx="364.5" cy="461.5" r="4.6"/><circle cx="376.5" cy="461.5" r="4.6"/><circle cx="420.5" cy="460.5" r="4.6"/></g>
<path d="M100.5 460.5H720" stroke="#0000ff" stroke-width="1.4" stroke-dasharray="8.33 8.33" fill="none"/>
</g>
<rect x="100.5" y="60.5" width="620" height="480" fill="none" stroke="#000" stroke-width="1"/>
<path d="M100.5 540v-5.6M183.5 540v-5.6M265.5 540v-5.6M348.5 540v-5.6M431.5 540v-5.6M513.5 540v-5.6M596.5 540v-5.6M679.5 540v-5.6M138.5 61v5.6M220.5 61v5.6M303.5 61v5.6M386.5 61v5.6M468.5 61v5.6M551.5 61v5.6M634.5 61v5.6M716.5 61v5.6M101 540.5h5.6M720 540.5h-5.6M101 420.5h5.6M720 420.5h-5.6M101 300.5h5.6M720 300.5h-5.6M101 180.5h5.6M720 180.5h-5.6M101 60.5h5.6M720 60.5h-5.6" stroke="#000" stroke-width="0.7" fill="none"/>
<g font-family="DejaVu Sans, Liberation Sans, sans-serif" font-size="16.67" fill="#000"><text x="100" y="560" text-anchor="middle">−20</text><text x="182.7" y="560" text-anchor="middle">−18</text><text x="265.3" y="560" text-anchor="middle">−16</text><text x="348" y="560" text-anchor="middle">−14</text><text x="430.7" y="560" text-anchor="middle">−12</text><text x="513.3" y="560" text-anchor="middle">−10</text><text x="596" y="560" text-anchor="middle">−8</text><text x="678.7" y="560" text-anchor="middle">−6</text><text x="137.6" y="50" text-anchor="middle">14</text><text x="220.3" y="50" text-anchor="middle">16</text><text x="302.9" y="50" text-anchor="middle">18</text><text x="385.6" y="50" text-anchor="middle">20</text><text x="468.3" y="50" text-anchor="middle">22</text><text x="550.9" y="50" text-anchor="middle">24</text><text x="633.6" y="50" text-anchor="middle">26</text><text x="716.3" y="50" text-anchor="middle">28</text><text x="95" y="540" text-anchor="end" dy="4.5">0</text><text x="95" y="420" text-anchor="end" dy="4.5">5</text><text x="95" y="300" text-anchor="end" dy="4.5">10</text><text x="95" y="180" text-anchor="end" dy="4.5">15</text><text x="95" y="60" text-anchor="end" dy="4.5">20</text></g>
<text x="411" y="29" text-anchor="middle" font-family="DejaVu Sans, Liberation Sans, sans-serif" font-size="20">FWHM vs magnitudes</text>
<text x="410" y="584" text-anchor="middle" font-family="DejaVu Sans, Liberation Sans, sans-serif" font-size="16.67">magnitude (bottom:isnt / top:calib)</text>
<text transform="translate(63 300) rotate(-90)" text-anchor="middle" font-family="DejaVu Sans, Liberation Sans, sans-serif" font-size="16.67">FWHM (pix)</text>
<rect x="398.5" y="70.5" width="312" height="122" fill="#fff" stroke="#000" stroke-width="1.2"/><path d="M408.33 86.50h8.33M412.50 82.33v8.33M436.33 86.50h8.33M440.50 82.33v8.33" stroke="#00bfbf" stroke-width="0.7" fill="none"/><path d="M408.33 111.33l8.33 8.33M408.33 119.67l8.33 -8.33M436.33 111.33l8.33 8.33M436.33 119.67l8.33 -8.33" stroke="#0000ff" stroke-width="0.9" fill="none"/><circle cx="412.50" cy="144.50" r="4.45" fill="#000"/><circle cx="440.50" cy="144.50" r="4.45" fill="#000"/><path d="M412.3 173.5h8.6M429.1 173.5h8.5" stroke="#0000ff" stroke-width="1.5" fill="none"/><g font-family="DejaVu Sans, Liberation Sans, sans-serif" font-size="20" fill="#000"><text x="462" y="92.6">all sample</text><text x="462" y="121.6">sample for rough FWHM</text><text x="462" y="150.5">coarse PSF-like sample</text><text x="462" y="179.4">tentative FWHM</text></g>
</svg></body></html>
